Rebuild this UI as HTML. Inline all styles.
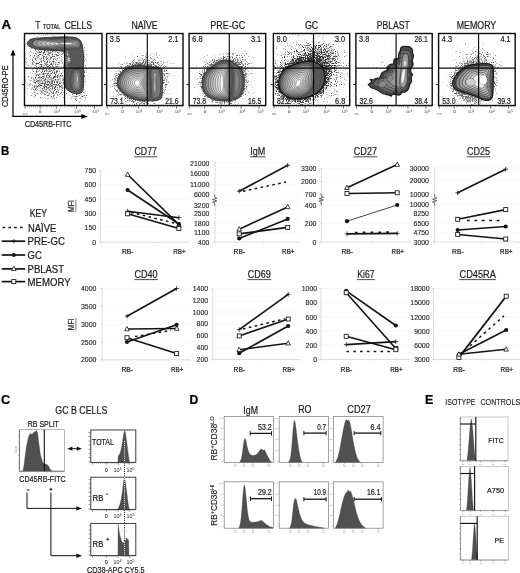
<!DOCTYPE html>
<html lang="en"><head><meta charset="utf-8"><title>Figure</title>
<style>
html,body{margin:0;padding:0;background:#fff;}
svg{display:block;font-family:"Liberation Sans",sans-serif;fill:#1c1c1c;}
</style></head><body>
<svg width="520" height="573" viewBox="0 0 520 573">
<rect x="0" y="0" width="520" height="573" fill="#fff" stroke="none"/>
<text x="1.4" y="28.6" font-size="12.4" textLength="9.7" lengthAdjust="spacingAndGlyphs" font-weight="bold" fill="#000" stroke="#000" stroke-width="0.22">A</text>
<text x="35.6" y="29.2" font-size="10.4" textLength="4.8" lengthAdjust="spacingAndGlyphs" stroke="#1c1c1c" stroke-width="0.22">T</text>
<text x="43" y="29.2" font-size="6.3" textLength="17.4" lengthAdjust="spacingAndGlyphs" stroke="#1c1c1c" stroke-width="0.22">TOTAL</text>
<text x="64.5" y="29.2" font-size="10.4" textLength="27.6" lengthAdjust="spacingAndGlyphs" stroke="#1c1c1c" stroke-width="0.22">CELLS</text>
<text x="131.4" y="28.9" font-size="10.2" textLength="26.2" lengthAdjust="spacingAndGlyphs" stroke="#1c1c1c" stroke-width="0.22">NAÏVE</text>
<text x="210.3" y="28.9" font-size="10.2" textLength="34.8" lengthAdjust="spacingAndGlyphs" stroke="#1c1c1c" stroke-width="0.22">PRE-GC</text>
<text x="304.9" y="28.9" font-size="10.2" textLength="13.4" lengthAdjust="spacingAndGlyphs" stroke="#1c1c1c" stroke-width="0.22">GC</text>
<text x="376.8" y="28.9" font-size="10.2" textLength="32.9" lengthAdjust="spacingAndGlyphs" stroke="#1c1c1c" stroke-width="0.22">PBLAST</text>
<text x="456.8" y="28.9" font-size="10.2" textLength="39.4" lengthAdjust="spacingAndGlyphs" stroke="#1c1c1c" stroke-width="0.22">MEMORY</text>
<defs><radialGradient id="rg"><stop offset="0" stop-opacity="1"/><stop offset="0.45" stop-opacity="0.85"/><stop offset="0.75" stop-opacity="0.5"/><stop offset="1" stop-opacity="0"/></radialGradient><radialGradient id="rh"><stop offset="0" stop-opacity="1"/><stop offset="0.72" stop-opacity="1"/><stop offset="0.86" stop-opacity="0.55"/><stop offset="1" stop-opacity="0"/></radialGradient></defs>
<clipPath id="cb0"><rect x="24.5" y="33.5" width="77.5" height="72"/></clipPath>
<g clip-path="url(#cb0)">
<filter id="sp0" filterUnits="userSpaceOnUse" x="24.5" y="33.5" width="77.5" height="72" color-interpolation-filters="sRGB"><feTurbulence type="fractalNoise" baseFrequency="0.9" numOctaves="2" seed="3" result="n"/><feColorMatrix in="n" type="matrix" values="0 0 0 0 0 0 0 0 0 0 0 0 0 0 0 1.6 0 0 0 -0.3" result="na"/><feComposite in="na" in2="SourceAlpha" operator="arithmetic" k1="0" k2="1" k3="1" k4="-1" result="c"/><feComponentTransfer in="c"><feFuncA type="linear" slope="2.6" intercept="0"/></feComponentTransfer></filter>
<g opacity="0.72"><g filter="url(#sp0)">
<ellipse cx="48" cy="83" rx="27" ry="21" fill="url(#rg)" opacity="0.62" transform="rotate(0 48 83)"/>
<ellipse cx="45" cy="60" rx="26" ry="14" fill="url(#rg)" opacity="0.5" transform="rotate(0 45 60)"/>
<ellipse cx="77" cy="64" rx="14" ry="38" fill="url(#rg)" opacity="0.5" transform="rotate(0 77 64)"/>
<ellipse cx="50" cy="44" rx="32" ry="13" fill="url(#rg)" opacity="0.5" transform="rotate(0 50 44)"/>
<ellipse cx="80" cy="97" rx="14" ry="8" fill="url(#rg)" opacity="0.45" transform="rotate(0 80 97)"/>
<ellipse cx="56" cy="72" rx="44" ry="40" fill="url(#rg)" opacity="0.22" transform="rotate(0 56 72)"/>
</g></g>
<path d="M27.3 44.2C27.02 42.92 28.28 40.8 29.8 39.8C31.32 38.8 32.57 38.63 36.4 38.2C40.23 37.77 47.33 37.42 52.8 37.2C58.27 36.98 65.23 36.77 69.2 36.9C73.17 37.03 74.63 37.22 76.6 38C78.57 38.78 79.95 39.72 81 41.6C82.05 43.48 82.45 46.1 82.9 49.3C83.35 52.5 83.62 57.52 83.7 60.8C83.78 64.08 83.4 66.27 83.4 69C83.4 71.73 83.72 73.92 83.7 77.2C83.68 80.48 83.75 86.1 83.3 88.7C82.85 91.3 82.25 91.97 81 92.8C79.75 93.63 77.77 93.97 75.8 93.7C73.83 93.43 70.98 92.58 69.2 91.2C67.42 89.82 65.87 89.1 65.1 85.4C64.33 81.7 64.67 73.9 64.6 69C64.53 64.1 65.08 58.97 64.7 56C64.32 53.03 64.28 52.12 62.3 51.2C60.32 50.28 56.57 50.8 52.8 50.5C49.03 50.2 43.25 49.9 39.7 49.4C36.15 48.9 33.57 48.37 31.5 47.5C29.43 46.63 27.58 45.48 27.3 44.2Z" fill="#585858" stroke="#1c1c1c" stroke-width="0.8"/>
<path d="M32.47 43.96C32.27 42.98 33.27 41.42 34.54 40.67C35.81 39.92 36.98 39.79 40.06 39.46C43.15 39.12 48.38 38.84 53.04 38.65C57.7 38.46 64.23 38.21 68.03 38.31C71.82 38.41 73.91 38.62 75.83 39.25C77.75 39.87 78.81 41.03 79.54 42.05C80.27 43.06 80.61 44.34 80.23 45.35C79.84 46.37 79.26 47.53 77.23 48.15C75.2 48.77 72.06 48.96 68.03 49.09C63.99 49.22 57.35 49.11 53.05 48.92C48.75 48.73 45.1 48.34 42.22 47.95C39.33 47.55 37.37 47.22 35.75 46.56C34.12 45.89 32.67 44.94 32.47 43.96Z" fill="#949494" stroke="#1e1e1e" stroke-width="0.5"/>
<path d="M36.74 43.92C36.57 43.09 37.42 41.78 38.48 41.14C39.54 40.51 40.52 40.4 43.12 40.11C45.73 39.82 49.93 39.58 54.09 39.4C58.24 39.22 64.52 38.95 68.05 39.03C71.58 39.11 73.52 39.35 75.26 39.89C77 40.44 77.84 41.42 78.48 42.29C79.11 43.16 79.39 44.24 79.06 45.11C78.72 45.97 78.29 46.95 76.46 47.49C74.63 48.04 71.78 48.26 68.05 48.37C64.32 48.48 57.95 48.33 54.1 48.15C50.24 47.97 47.37 47.63 44.94 47.29C42.5 46.95 40.86 46.67 39.49 46.11C38.13 45.55 36.9 44.75 36.74 43.92Z" fill="#acacac" stroke="#1e1e1e" stroke-width="0.5"/>
<path d="M41 43.88C40.87 43.2 41.56 42.13 42.42 41.61C43.28 41.1 44.07 41.01 46.19 40.77C48.3 40.52 51.48 40.32 55.13 40.15C58.78 39.98 64.82 39.68 68.08 39.74C71.33 39.81 73.13 40.07 74.69 40.54C76.25 41 76.88 41.82 77.42 42.54C77.95 43.26 78.17 44.14 77.89 44.86C77.6 45.58 77.32 46.38 75.69 46.84C74.05 47.31 71.5 47.57 68.08 47.66C64.65 47.75 58.55 47.54 55.15 47.37C51.74 47.2 49.64 46.92 47.65 46.64C45.67 46.36 44.35 46.13 43.24 45.67C42.13 45.21 41.14 44.55 41 43.88Z" fill="#bfbfbf" stroke="#1e1e1e" stroke-width="0.5"/>
<path d="M45.27 43.84C45.17 43.31 45.7 42.49 46.36 42.09C47.02 41.68 47.61 41.62 49.25 41.42C50.88 41.23 53.03 41.06 56.18 40.9C59.32 40.74 65.11 40.41 68.1 40.45C71.09 40.5 72.74 40.79 74.12 41.18C75.49 41.57 75.92 42.21 76.35 42.78C76.79 43.35 76.95 44.05 76.71 44.61C76.48 45.18 76.36 45.8 74.92 46.19C73.48 46.58 71.22 46.88 68.1 46.95C64.98 47.01 59.15 46.75 56.19 46.59C53.24 46.43 51.91 46.21 50.37 45.98C48.84 45.76 47.83 45.58 46.98 45.22C46.13 44.87 45.38 44.36 45.27 43.84Z" fill="#d0d0d0" stroke="#1e1e1e" stroke-width="0.5"/>
<path d="M49.54 43.8C49.47 43.43 49.84 42.84 50.3 42.56C50.76 42.27 51.16 42.23 52.31 42.08C53.46 41.93 54.58 41.81 57.22 41.65C59.86 41.5 65.4 41.14 68.13 41.17C70.85 41.2 72.35 41.52 73.55 41.83C74.74 42.14 74.96 42.6 75.29 43.03C75.63 43.45 75.73 43.95 75.54 44.37C75.35 44.79 75.39 45.23 74.15 45.54C72.91 45.85 70.94 46.19 68.13 46.23C65.31 46.28 59.75 45.97 57.24 45.82C54.74 45.67 54.18 45.5 53.09 45.33C52.01 45.16 51.32 45.04 50.73 44.78C50.14 44.52 49.61 44.17 49.54 43.8Z" fill="#e0e0e0" stroke="#1e1e1e" stroke-width="0.5"/>
<path d="M53.81 43.76C53.77 43.54 53.98 43.2 54.24 43.03C54.5 42.86 54.7 42.84 55.37 42.74C56.04 42.63 56.13 42.55 58.26 42.4C60.39 42.26 65.7 41.87 68.15 41.88C70.6 41.89 71.96 42.24 72.98 42.47C73.99 42.71 74 43 74.23 43.27C74.46 43.55 74.51 43.85 74.37 44.12C74.23 44.39 74.42 44.65 73.38 44.88C72.34 45.12 70.67 45.49 68.15 45.52C65.64 45.54 60.35 45.18 58.29 45.04C56.23 44.9 56.45 44.79 55.81 44.68C55.17 44.56 54.81 44.49 54.48 44.34C54.14 44.18 53.85 43.98 53.81 43.76Z" fill="#eeeeee" stroke="#1e1e1e" stroke-width="0.5"/>
<path d="M58.08 43.72C58.07 43.65 58.12 43.55 58.18 43.5C58.24 43.45 58.25 43.45 58.43 43.39C58.62 43.33 57.68 43.29 59.31 43.15C60.93 43.02 65.99 42.6 68.18 42.6C70.36 42.59 71.58 42.97 72.41 43.12C73.24 43.27 73.04 43.39 73.17 43.52C73.3 43.64 73.29 43.76 73.2 43.88C73.11 43.99 73.45 44.08 72.61 44.23C71.77 44.39 70.39 44.8 68.18 44.8C65.96 44.81 60.95 44.39 59.34 44.26C57.73 44.13 58.71 44.08 58.53 44.02C58.34 43.96 58.3 43.94 58.22 43.89C58.15 43.84 58.08 43.78 58.08 43.72Z" fill="#fff" stroke="#1e1e1e" stroke-width="0.5"/>
<path d="M82.43 80.31C82.42 81.94 82.18 83.72 81.8 85.14C81.43 86.55 80.83 87.86 80.17 88.81C79.52 89.75 78.67 90.47 77.86 90.81C77.05 91.14 76.11 91.13 75.3 90.79C74.48 90.45 73.64 89.72 72.98 88.77C72.32 87.81 71.73 86.48 71.36 85.06C70.98 83.65 70.75 81.88 70.75 80.27C70.75 78.66 70.96 76.84 71.33 75.4C71.7 73.96 72.31 72.59 72.96 71.61C73.62 70.64 74.47 69.9 75.29 69.56C76.11 69.21 77.04 69.21 77.86 69.54C78.68 69.87 79.53 70.59 80.19 71.56C80.85 72.52 81.46 73.86 81.83 75.32C82.21 76.77 82.43 78.67 82.43 80.31Z" fill="#7f7f7f" stroke="#1e1e1e" stroke-width="0.5"/>
<path d="M81.46 80.21C81.45 81.66 81.21 83.21 80.9 84.4C80.59 85.6 80.11 86.61 79.59 87.36C79.06 88.11 78.4 88.67 77.76 88.93C77.12 89.18 76.39 89.18 75.75 88.9C75.11 88.63 74.45 88.06 73.92 87.28C73.4 86.51 72.92 85.44 72.62 84.26C72.31 83.07 72.11 81.55 72.1 80.15C72.09 78.75 72.28 77.11 72.57 75.86C72.87 74.62 73.37 73.49 73.89 72.67C74.42 71.86 75.09 71.28 75.74 70.99C76.38 70.71 77.12 70.7 77.76 70.96C78.41 71.22 79.08 71.77 79.61 72.56C80.14 73.35 80.65 74.42 80.96 75.7C81.26 76.97 81.46 78.76 81.46 80.21Z" fill="#949494" stroke="#1e1e1e" stroke-width="0.5"/>
<path d="M80.48 80.12C80.47 81.38 80.25 82.71 80 83.67C79.75 84.64 79.39 85.35 79 85.92C78.61 86.48 78.13 86.87 77.66 87.05C77.2 87.23 76.67 87.22 76.2 87.01C75.74 86.81 75.26 86.39 74.87 85.8C74.48 85.2 74.12 84.41 73.88 83.45C73.64 82.49 73.46 81.21 73.45 80.02C73.44 78.83 73.59 77.38 73.82 76.33C74.04 75.28 74.43 74.39 74.82 73.74C75.22 73.09 75.71 72.66 76.18 72.43C76.66 72.21 77.19 72.2 77.67 72.38C78.14 72.57 78.63 72.95 79.03 73.57C79.44 74.18 79.84 74.99 80.08 76.08C80.32 77.17 80.5 78.85 80.48 80.12Z" fill="#a6a6a6" stroke="#1e1e1e" stroke-width="0.5"/>
<path d="M79.51 80.02C79.49 81.1 79.28 82.2 79.1 82.94C78.92 83.68 78.66 84.1 78.41 84.47C78.15 84.84 77.85 85.06 77.56 85.17C77.27 85.28 76.95 85.27 76.66 85.12C76.37 84.98 76.07 84.73 75.81 84.31C75.56 83.9 75.31 83.38 75.14 82.64C74.97 81.91 74.82 80.87 74.8 79.89C74.79 78.92 74.9 77.65 75.06 76.8C75.21 75.95 75.49 75.29 75.75 74.8C76.01 74.31 76.33 74.04 76.63 73.87C76.94 73.71 77.26 73.69 77.57 73.81C77.87 73.92 78.18 74.13 78.46 74.57C78.73 75.02 79.03 75.55 79.21 76.46C79.38 77.37 79.53 78.94 79.51 80.02Z" fill="#b7b7b7" stroke="#1e1e1e" stroke-width="0.5"/>
<path d="M78.54 79.93C78.52 80.82 78.32 81.69 78.2 82.21C78.08 82.72 77.94 82.84 77.82 83.02C77.69 83.2 77.58 83.26 77.46 83.29C77.35 83.33 77.23 83.31 77.11 83.23C77 83.16 76.88 83.06 76.76 82.83C76.64 82.6 76.5 82.35 76.4 81.84C76.3 81.33 76.17 80.53 76.15 79.77C76.14 79 76.21 77.91 76.3 77.26C76.38 76.61 76.55 76.19 76.68 75.86C76.81 75.54 76.95 75.42 77.08 75.31C77.21 75.21 77.34 75.19 77.47 75.23C77.6 75.27 77.73 75.31 77.88 75.58C78.02 75.85 78.22 76.12 78.33 76.84C78.44 77.57 78.56 79.04 78.54 79.93Z" fill="#c8c8c8" stroke="#1e1e1e" stroke-width="0.5"/>
<path d="M69.16 58.37h0.9M67.34 61.43h0.9M66.43 60.01h0.9M67.3 53.86h0.9M68.42 62.1h0.9M66.61 59.4h0.9M67.86 59.09h0.9M67.03 54.91h0.9M67.91 60.43h0.9M67.6 54.66h0.9M69.12 60.54h0.9M66.87 67.1h0.9M67.25 54.92h0.9M66.85 51.99h0.9M68.45 58.54h0.9M66.48 63.75h0.9M65.48 61.87h0.9M65.03 57.68h0.9M65.98 65.12h0.9M69.24 58.85h0.9M68.22 59.37h0.9M67.92 57.37h0.9M65.42 53.69h0.9M67.72 67.87h0.9M67.6 58.16h0.9M69.4 60.83h0.9" stroke="#e6e6e6" stroke-width="0.9" fill="none"/>
</g>
<clipPath id="cb1"><rect x="106.6" y="33.5" width="76.4" height="72"/></clipPath>
<g clip-path="url(#cb1)">
<filter id="sp1" filterUnits="userSpaceOnUse" x="106.6" y="33.5" width="76.4" height="72" color-interpolation-filters="sRGB"><feTurbulence type="fractalNoise" baseFrequency="0.9" numOctaves="2" seed="11" result="n"/><feColorMatrix in="n" type="matrix" values="0 0 0 0 0 0 0 0 0 0 0 0 0 0 0 1.6 0 0 0 -0.3" result="na"/><feComposite in="na" in2="SourceAlpha" operator="arithmetic" k1="0" k2="1" k3="1" k4="-1" result="c"/><feComponentTransfer in="c"><feFuncA type="linear" slope="2.6" intercept="0"/></feComponentTransfer></filter>
<g opacity="0.62"><g filter="url(#sp1)">
<ellipse cx="140" cy="83" rx="28.5" ry="23" fill="url(#rh)" opacity="0.62" transform="rotate(0 140 83)"/>
<ellipse cx="140" cy="83" rx="36" ry="30" fill="url(#rg)" opacity="0.5" transform="rotate(0 140 83)"/>
<ellipse cx="150" cy="66" rx="26" ry="17" fill="url(#rg)" opacity="0.4" transform="rotate(0 150 66)"/>
<ellipse cx="144" cy="80" rx="46" ry="38" fill="url(#rg)" opacity="0.24" transform="rotate(0 144 80)"/>
</g></g>
<path d="M117.1 83.8C116.82 81.2 117.88 78.07 119.2 75.6C120.52 73.13 122.8 70.58 125 69C127.2 67.42 129.95 66.78 132.4 66.1C134.85 65.42 137.22 64.87 139.7 64.9C142.18 64.93 144.55 65.92 147.3 66.3C150.05 66.68 153.85 66.75 156.2 67.2C158.55 67.65 160.32 67.33 161.4 69C162.48 70.67 162.53 74.2 162.7 77.2C162.87 80.2 162.53 83.72 162.4 87C162.27 90.28 162.67 94.7 161.9 96.9C161.13 99.1 160.13 99.52 157.8 100.2C155.47 100.88 151.18 101 147.9 101C144.62 101 141.37 100.88 138.1 100.2C134.83 99.52 131.17 98.4 128.3 96.9C125.43 95.4 122.77 93.38 120.9 91.2C119.03 89.02 117.38 86.4 117.1 83.8Z" fill="#585858" stroke="#222" stroke-width="0.7"/>
<path d="M118.6 83.8C118.33 81.47 119.37 78.65 120.6 76.4C121.83 74.15 123.93 71.77 126 70.3C128.07 68.83 130.67 68.22 133 67.6C135.33 66.98 137.83 66.53 140 66.6C142.17 66.67 144.43 67.1 146 68C147.57 68.9 148.73 69.5 149.4 72C150.07 74.5 149.97 79.33 150 83C150.03 86.67 150.17 91.33 149.6 94C149.03 96.67 148.37 98.2 146.6 99C144.83 99.8 141.9 99.37 139 98.8C136.1 98.23 132 97 129.2 95.6C126.4 94.2 123.97 92.37 122.2 90.4C120.43 88.43 118.87 86.13 118.6 83.8Z" fill="#767676" stroke="#262626" stroke-width="0.45"/>
<path d="M120.58 83.72C120.34 81.62 121.25 79.1 122.35 77.08C123.45 75.05 125.33 72.91 127.18 71.59C129.02 70.26 131.35 69.7 133.44 69.14C135.53 68.58 137.78 68.19 139.72 68.25C141.66 68.32 143.69 68.72 145.09 69.53C146.5 70.33 147.54 70.86 148.15 73.11C148.76 75.35 148.72 79.7 148.75 83C148.78 86.3 148.85 90.5 148.33 92.89C147.8 95.28 147.2 96.63 145.62 97.35C144.04 98.08 141.42 97.72 138.83 97.22C136.23 96.72 132.53 95.62 130.02 94.36C127.52 93.1 125.34 91.43 123.77 89.65C122.19 87.88 120.81 85.81 120.58 83.72Z" fill="#9c9c9c" stroke="#262626" stroke-width="0.45"/>
<path d="M122.55 83.64C122.35 81.78 123.14 79.54 124.11 77.75C125.08 75.96 126.72 74.05 128.35 72.87C129.98 71.69 132.04 71.17 133.89 70.68C135.73 70.19 137.72 69.85 139.44 69.91C141.16 69.97 142.94 70.33 144.18 71.05C145.43 71.77 146.34 72.22 146.9 74.21C147.45 76.2 147.48 80.07 147.5 83C147.53 85.93 147.53 89.67 147.05 91.79C146.57 93.9 146.04 95.06 144.64 95.71C143.24 96.35 140.95 96.08 138.65 95.64C136.35 95.21 133.07 94.24 130.85 93.12C128.63 91.99 126.72 90.48 125.34 88.9C123.96 87.32 122.76 85.49 122.55 83.64Z" fill="#b0b0b0" stroke="#262626" stroke-width="0.45"/>
<path d="M124.53 83.55C124.36 81.93 125.03 79.99 125.86 78.43C126.7 76.86 128.12 75.19 129.53 74.16C130.94 73.12 132.72 72.65 134.33 72.22C135.93 71.79 137.67 71.5 139.16 71.56C140.65 71.62 142.19 71.95 143.27 72.58C144.35 73.2 145.15 73.58 145.64 75.32C146.14 77.05 146.23 80.44 146.25 83C146.28 85.56 146.21 88.83 145.78 90.68C145.34 92.52 144.87 93.5 143.66 94.06C142.44 94.63 140.47 94.43 138.48 94.07C136.48 93.7 133.6 92.86 131.67 91.87C129.75 90.89 128.1 89.54 126.91 88.16C125.72 86.77 124.7 85.17 124.53 83.55Z" fill="#c0c0c0" stroke="#262626" stroke-width="0.45"/>
<path d="M126.51 83.47C126.36 82.09 126.92 80.44 127.62 79.1C128.32 77.76 129.51 76.34 130.71 75.44C131.9 74.55 133.41 74.13 134.77 73.76C136.13 73.39 137.61 73.16 138.88 73.21C140.14 73.27 141.45 73.57 142.36 74.1C143.28 74.63 143.95 74.94 144.39 76.42C144.83 77.9 144.99 80.81 145 83C145.02 85.19 144.89 88 144.5 89.57C144.11 91.14 143.71 91.93 142.67 92.41C141.64 92.9 140 92.78 138.3 92.49C136.6 92.19 134.14 91.48 132.5 90.63C130.86 89.78 129.48 88.6 128.48 87.41C127.48 86.22 126.65 84.85 126.51 83.47Z" fill="#cecece" stroke="#262626" stroke-width="0.45"/>
<path d="M128.48 83.39C128.37 82.24 128.8 80.89 129.37 79.78C129.94 78.67 130.91 77.48 131.88 76.73C132.86 75.99 134.1 75.61 135.22 75.3C136.33 74.99 137.56 74.81 138.6 74.87C139.64 74.92 140.7 75.18 141.46 75.63C142.21 76.07 142.76 76.3 143.14 77.53C143.52 78.76 143.74 81.18 143.76 83C143.77 84.82 143.57 87.17 143.23 88.46C142.88 89.76 142.54 90.36 141.69 90.77C140.84 91.18 139.52 91.14 138.13 90.91C136.73 90.68 134.67 90.1 133.32 89.39C131.98 88.68 130.85 87.66 130.05 86.66C129.24 85.66 128.6 84.53 128.48 83.39Z" fill="#dbdbdb" stroke="#262626" stroke-width="0.45"/>
<path d="M130.46 83.31C130.38 82.4 130.69 81.33 131.13 80.45C131.56 79.57 132.3 78.62 133.06 78.02C133.82 77.42 134.78 77.09 135.66 76.84C136.54 76.59 137.5 76.47 138.32 76.52C139.13 76.57 139.95 76.8 140.55 77.15C141.14 77.5 141.56 77.66 141.89 78.63C142.22 79.61 142.5 81.55 142.51 83C142.52 84.45 142.25 86.34 141.95 87.36C141.65 88.38 141.38 88.79 140.71 89.12C140.04 89.45 139.04 89.49 137.95 89.33C136.86 89.17 135.2 88.72 134.15 88.15C133.09 87.58 132.23 86.72 131.62 85.91C131 85.11 130.54 84.22 130.46 83.31Z" fill="#e6e6e6" stroke="#262626" stroke-width="0.45"/>
<path d="M132.44 83.22C132.39 82.55 132.58 81.78 132.88 81.13C133.18 80.48 133.7 79.76 134.24 79.3C134.77 78.85 135.47 78.57 136.1 78.38C136.74 78.19 137.45 78.13 138.04 78.17C138.63 78.22 139.2 78.41 139.64 78.68C140.07 78.94 140.37 79.02 140.64 79.74C140.91 80.46 141.25 81.91 141.26 83C141.26 84.09 140.93 85.5 140.68 86.25C140.42 86.99 140.21 87.22 139.73 87.47C139.25 87.73 138.57 87.85 137.78 87.75C136.98 87.66 135.74 87.34 134.97 86.9C134.21 86.47 133.61 85.78 133.19 85.17C132.76 84.55 132.49 83.9 132.44 83.22Z" fill="#f1f1f1" stroke="#262626" stroke-width="0.45"/>
<path d="M134.41 83.14C134.39 82.7 134.47 82.23 134.63 81.8C134.8 81.38 135.1 80.9 135.41 80.59C135.73 80.28 136.15 80.05 136.54 79.92C136.94 79.8 137.4 79.78 137.76 79.83C138.12 79.87 138.46 80.03 138.73 80.2C139 80.37 139.17 80.38 139.39 80.84C139.6 81.31 140.01 82.28 140.01 83C140.01 83.72 139.61 84.67 139.4 85.14C139.19 85.61 139.05 85.66 138.75 85.83C138.45 86 138.09 86.2 137.6 86.17C137.11 86.15 136.27 85.96 135.8 85.66C135.32 85.37 134.99 84.84 134.76 84.42C134.53 84 134.43 83.58 134.41 83.14Z" fill="#fff" stroke="#262626" stroke-width="0.45"/>
<path d="M151.6 70.5C152.8 68.27 157.33 68.68 158.8 70.6C160.27 72.52 160.28 77.93 160.4 82C160.52 86.07 160.73 92.43 159.5 95C158.27 97.57 154.32 99.23 153 97.4C151.68 95.57 151.83 88.48 151.6 84C151.37 79.52 150.4 72.73 151.6 70.5Z" fill="#777" stroke="#2c2c2c" stroke-width="0.35"/>
<path d="M153.4 73.4C153.87 72.3 156.2 72.3 156.6 73.4C157 74.5 155.83 77.57 155.8 80C155.77 82.43 156.6 85.77 156.4 88C156.2 90.23 155.17 93.73 154.6 93.4C154.03 93.07 153.13 88.23 153 86C152.87 83.77 153.73 82.1 153.8 80C153.87 77.9 152.93 74.5 153.4 73.4Z" fill="#a8a8a8" stroke="#2c2c2c" stroke-width="0.35"/>
</g>
<clipPath id="cb2"><rect x="189.1" y="33.5" width="76.6" height="72"/></clipPath>
<g clip-path="url(#cb2)">
<filter id="sp2" filterUnits="userSpaceOnUse" x="189.1" y="33.5" width="76.6" height="72" color-interpolation-filters="sRGB"><feTurbulence type="fractalNoise" baseFrequency="0.9" numOctaves="2" seed="17" result="n"/><feColorMatrix in="n" type="matrix" values="0 0 0 0 0 0 0 0 0 0 0 0 0 0 0 1.6 0 0 0 -0.3" result="na"/><feComposite in="na" in2="SourceAlpha" operator="arithmetic" k1="0" k2="1" k3="1" k4="-1" result="c"/><feComponentTransfer in="c"><feFuncA type="linear" slope="2.6" intercept="0"/></feComponentTransfer></filter>
<g opacity="0.62"><g filter="url(#sp2)">
<ellipse cx="223.5" cy="81" rx="26.5" ry="25.5" fill="url(#rh)" opacity="0.62" transform="rotate(0 223.5 81)"/>
<ellipse cx="223.5" cy="80" rx="34" ry="32" fill="url(#rg)" opacity="0.5" transform="rotate(0 223.5 80)"/>
<ellipse cx="238" cy="62" rx="20" ry="17" fill="url(#rg)" opacity="0.4" transform="rotate(0 238 62)"/>
<ellipse cx="226" cy="78" rx="44" ry="40" fill="url(#rg)" opacity="0.24" transform="rotate(0 226 78)"/>
</g></g>
<path d="M202.2 82.2C202.32 80.02 202.43 77.67 203.4 75.6C204.37 73.53 206.15 71.58 208 69.8C209.85 68.02 212.45 66.32 214.5 64.9C216.55 63.48 218.52 62.12 220.3 61.3C222.08 60.48 223.28 59.95 225.2 60C227.12 60.05 229.47 60.5 231.8 61.6C234.13 62.7 237.28 64.55 239.2 66.6C241.12 68.65 242.43 71.3 243.3 73.9C244.17 76.5 244.4 79.45 244.4 82.2C244.4 84.95 244.03 87.95 243.3 90.4C242.57 92.85 241.78 95.27 240 96.9C238.22 98.53 235.48 99.52 232.6 100.2C229.72 100.88 225.98 101.13 222.7 101C219.42 100.87 215.77 100.48 212.9 99.4C210.03 98.32 207.2 96.28 205.5 94.5C203.8 92.72 203.25 90.75 202.7 88.7C202.15 86.65 202.08 84.38 202.2 82.2Z" fill="#585858" stroke="#222" stroke-width="0.7"/>
<path d="M203.6 82.4C203.73 80.37 203.87 78.13 204.8 76.2C205.73 74.27 207.43 72.5 209.2 70.8C210.97 69.1 213.43 67.33 215.4 66C217.37 64.67 219.33 63.47 221 62.8C222.67 62.13 224 61.7 225.4 62C226.8 62.3 228.4 62.93 229.4 64.6C230.4 66.27 231 68.93 231.4 72C231.8 75.07 231.87 79.5 231.8 83C231.73 86.5 231.53 90.4 231 93C230.47 95.6 230 97.5 228.6 98.6C227.2 99.7 225.1 99.7 222.6 99.6C220.1 99.5 216.23 99 213.6 98C210.97 97 208.4 95.2 206.8 93.6C205.2 92 204.53 90.27 204 88.4C203.47 86.53 203.47 84.43 203.6 82.4Z" fill="#737373" stroke="#262626" stroke-width="0.45"/>
<path d="M205.94 82.44C206.06 80.55 206.18 78.48 206.99 76.68C207.8 74.88 209.28 73.2 210.82 71.62C212.36 70.04 214.51 68.4 216.22 67.19C217.94 65.98 219.65 64.94 221.1 64.35C222.56 63.77 223.71 63.41 224.93 63.68C226.15 63.95 227.54 64.51 228.42 66C229.29 67.48 229.83 69.75 230.19 72.58C230.55 75.42 230.65 79.68 230.59 83C230.54 86.32 230.32 90.1 229.85 92.53C229.37 94.96 228.95 96.58 227.73 97.58C226.5 98.58 224.68 98.64 222.5 98.55C220.32 98.45 216.94 97.96 214.65 97.02C212.36 96.07 210.12 94.35 208.73 92.85C207.34 91.35 206.76 89.75 206.29 88.01C205.83 86.28 205.83 84.33 205.94 82.44Z" fill="#999999" stroke="#262626" stroke-width="0.45"/>
<path d="M208.28 82.48C208.38 80.74 208.49 78.83 209.18 77.16C209.87 75.49 211.12 73.91 212.43 72.45C213.74 70.98 215.58 69.47 217.05 68.38C218.51 67.29 219.97 66.41 221.21 65.91C222.44 65.4 223.43 65.11 224.46 65.36C225.5 65.61 226.68 66.09 227.43 67.39C228.18 68.7 228.65 70.57 228.98 73.17C229.3 75.77 229.44 79.85 229.39 83C229.34 86.15 229.12 89.8 228.69 92.06C228.27 94.32 227.91 95.66 226.86 96.56C225.81 97.47 224.26 97.58 222.4 97.49C220.54 97.4 217.66 96.93 215.7 96.03C213.74 95.13 211.85 93.5 210.66 92.1C209.48 90.7 208.98 89.23 208.59 87.63C208.19 86.02 208.19 84.23 208.28 82.48Z" fill="#afafaf" stroke="#262626" stroke-width="0.45"/>
<path d="M210.63 82.53C210.71 80.93 210.79 79.18 211.37 77.64C211.94 76.09 212.97 74.61 214.05 73.27C215.13 71.92 216.66 70.53 217.87 69.57C219.08 68.6 220.29 67.88 221.31 67.46C222.33 67.04 223.14 66.82 223.99 67.04C224.85 67.26 225.82 67.67 226.45 68.79C227.08 69.91 227.48 71.39 227.76 73.75C228.05 76.12 228.22 80.03 228.18 83C228.15 85.97 227.91 89.51 227.54 91.6C227.18 93.69 226.86 94.74 225.99 95.54C225.11 96.35 223.83 96.52 222.29 96.44C220.75 96.35 218.37 95.89 216.75 95.05C215.13 94.2 213.57 92.65 212.59 91.35C211.62 90.05 211.21 88.71 210.88 87.24C210.55 85.77 210.55 84.13 210.63 82.53Z" fill="#c1c1c1" stroke="#262626" stroke-width="0.45"/>
<path d="M212.97 82.57C213.03 81.11 213.1 79.53 213.55 78.12C214 76.7 214.81 75.32 215.67 74.09C216.52 72.87 217.74 71.6 218.69 70.75C219.65 69.91 220.61 69.35 221.41 69.01C222.22 68.67 222.85 68.53 223.53 68.72C224.2 68.92 224.96 69.25 225.46 70.19C225.97 71.12 226.3 72.2 226.55 74.34C226.81 76.47 227.01 80.2 226.98 83C226.95 85.8 226.7 89.21 226.39 91.13C226.08 93.05 225.82 93.82 225.12 94.53C224.42 95.24 223.41 95.46 222.19 95.38C220.97 95.3 219.08 94.86 217.8 94.06C216.52 93.27 215.3 91.8 214.53 90.6C213.76 89.4 213.44 88.19 213.18 86.86C212.92 85.52 212.9 84.02 212.97 82.57Z" fill="#d2d2d2" stroke="#262626" stroke-width="0.45"/>
<path d="M215.31 82.61C215.35 81.3 215.41 79.88 215.74 78.6C216.07 77.31 216.65 76.02 217.28 74.92C217.91 73.81 218.81 72.67 219.52 71.94C220.22 71.22 220.93 70.82 221.52 70.56C222.11 70.31 222.56 70.23 223.06 70.4C223.55 70.57 224.1 70.83 224.48 71.59C224.86 72.34 225.13 73.02 225.34 74.92C225.56 76.83 225.79 80.38 225.77 83C225.75 85.62 225.49 88.91 225.24 90.66C224.98 92.41 224.77 92.9 224.25 93.51C223.72 94.12 222.99 94.4 222.09 94.33C221.19 94.26 219.79 93.82 218.85 93.08C217.91 92.33 217.02 90.96 216.46 89.85C215.89 88.75 215.66 87.68 215.47 86.47C215.28 85.26 215.26 83.92 215.31 82.61Z" fill="#e1e1e1" stroke="#262626" stroke-width="0.45"/>
<path d="M217.65 82.65C217.68 81.48 217.72 80.23 217.93 79.07C218.14 77.92 218.5 76.73 218.9 75.74C219.3 74.75 219.89 73.73 220.34 73.13C220.79 72.53 221.25 72.29 221.62 72.12C222 71.94 222.28 71.94 222.59 72.08C222.9 72.23 223.24 72.41 223.49 72.98C223.75 73.55 223.95 73.84 224.13 75.51C224.31 77.18 224.57 80.55 224.57 83C224.56 85.45 224.28 88.61 224.08 90.19C223.88 91.77 223.73 91.98 223.38 92.49C223.03 93 222.57 93.34 221.99 93.27C221.41 93.21 220.5 92.79 219.9 92.09C219.3 91.4 218.74 90.11 218.39 89.11C218.03 88.1 217.89 87.16 217.77 86.08C217.64 85.01 217.62 83.82 217.65 82.65Z" fill="#eeeeee" stroke="#262626" stroke-width="0.45"/>
<path d="M219.99 82.69C220 81.67 220.03 80.58 220.12 79.55C220.21 78.53 220.34 77.43 220.52 76.56C220.69 75.69 220.96 74.8 221.16 74.32C221.37 73.84 221.57 73.76 221.73 73.67C221.89 73.58 221.99 73.65 222.12 73.77C222.25 73.88 222.38 73.99 222.51 74.38C222.64 74.77 222.78 74.66 222.92 76.09C223.06 77.53 223.36 80.73 223.36 83C223.36 85.27 223.07 88.31 222.93 89.72C222.79 91.14 222.68 91.06 222.51 91.47C222.33 91.89 222.14 92.28 221.88 92.22C221.62 92.16 221.21 91.75 220.95 91.11C220.69 90.47 220.47 89.26 220.32 88.36C220.17 87.45 220.11 86.64 220.06 85.7C220 84.75 219.98 83.72 219.99 82.69Z" fill="#fff" stroke="#262626" stroke-width="0.45"/>
<path d="M233.5 65.5C234.23 63.93 236.68 67.02 238 68.6C239.32 70.18 240.73 72.43 241.4 75C242.07 77.57 242.23 81 242 84C241.77 87 241.27 90.73 240 93C238.73 95.27 235.53 98.1 234.4 97.6C233.27 97.1 233.33 93.27 233.2 90C233.07 86.73 233.55 82.08 233.6 78C233.65 73.92 232.77 67.07 233.5 65.5Z" fill="#727272" stroke="#2c2c2c" stroke-width="0.35"/>
<path d="M235.2 71C235.63 69.17 236.97 71.5 237.6 73C238.23 74.5 238.93 77.17 239 80C239.07 82.83 238.6 87.83 238 90C237.4 92.17 235.9 94 235.4 93C234.9 92 235.03 87.67 235 84C234.97 80.33 234.77 72.83 235.2 71Z" fill="#868686" stroke="#2c2c2c" stroke-width="0.35"/>
</g>
<clipPath id="cb3"><rect x="273.4" y="33.5" width="76.3" height="72"/></clipPath>
<g clip-path="url(#cb3)">
<filter id="sp3" filterUnits="userSpaceOnUse" x="273.4" y="33.5" width="76.3" height="72" color-interpolation-filters="sRGB"><feTurbulence type="fractalNoise" baseFrequency="0.9" numOctaves="2" seed="23" result="n"/><feColorMatrix in="n" type="matrix" values="0 0 0 0 0 0 0 0 0 0 0 0 0 0 0 1.6 0 0 0 -0.3" result="na"/><feComposite in="na" in2="SourceAlpha" operator="arithmetic" k1="0" k2="1" k3="1" k4="-1" result="c"/><feComponentTransfer in="c"><feFuncA type="linear" slope="2.6" intercept="0"/></feComponentTransfer></filter>
<g opacity="0.8"><g filter="url(#sp3)">
<ellipse cx="302.6" cy="79.4" rx="31.5" ry="24.2" fill="url(#rh)" opacity="1" transform="rotate(-26 302.6 79.4)"/>
<ellipse cx="318" cy="62" rx="24" ry="21" fill="url(#rg)" opacity="0.6" transform="rotate(-30 318 62)"/>
<ellipse cx="306" cy="76" rx="47" ry="38" fill="url(#rg)" opacity="0.45" transform="rotate(-25 306 76)"/>
<ellipse cx="309" cy="68" rx="62" ry="50" fill="url(#rg)" opacity="0.3" transform="rotate(0 309 68)"/>
</g></g>
<path d="M278.7 82.2C278.97 79.75 279.6 76.47 281.1 74C282.6 71.53 284.97 69.18 287.7 67.4C290.43 65.62 294.22 64.32 297.5 63.3C300.78 62.28 304.38 61.43 307.4 61.3C310.42 61.17 313.13 61.48 315.6 62.5C318.07 63.52 320.7 65.22 322.2 67.4C323.7 69.58 324.33 72.87 324.6 75.6C324.87 78.33 324.75 81.2 323.8 83.8C322.85 86.4 321.08 89.15 318.9 91.2C316.72 93.25 313.72 94.88 310.7 96.1C307.68 97.32 304.08 98.15 300.8 98.5C297.52 98.85 293.87 98.87 291 98.2C288.13 97.53 285.52 96.08 283.6 94.5C281.68 92.92 280.32 90.75 279.5 88.7C278.68 86.65 278.43 84.65 278.7 82.2Z" fill="#585858" stroke="#141414" stroke-width="1.3"/>
<path d="M280.4 82.4C280.7 80.23 281.37 77.23 282.8 75C284.23 72.77 286.47 70.63 289 69C291.53 67.37 295.1 66.1 298 65.2C300.9 64.3 304.13 63.53 306.4 63.6C308.67 63.67 310.23 64.2 311.6 65.6C312.97 67 314.13 69.43 314.6 72C315.07 74.57 315 78.07 314.4 81C313.8 83.93 312.67 87.23 311 89.6C309.33 91.97 306.9 93.97 304.4 95.2C301.9 96.43 298.63 96.93 296 97C293.37 97.07 290.7 96.43 288.6 95.6C286.5 94.77 284.67 93.27 283.4 92C282.13 90.73 281.5 89.6 281 88C280.5 86.4 280.1 84.57 280.4 82.4Z" fill="#767676" stroke="#262626" stroke-width="0.45"/>
<path d="M282.11 82.45C282.38 80.48 282.98 77.74 284.28 75.7C285.57 73.66 287.59 71.7 289.89 70.21C292.18 68.73 295.41 67.57 298.04 66.76C300.66 65.95 303.58 65.28 305.63 65.36C307.68 65.43 309.08 65.91 310.32 67.18C311.56 68.46 312.62 70.65 313.05 72.98C313.48 75.31 313.43 78.49 312.9 81.17C312.36 83.85 311.35 86.88 309.84 89.05C308.33 91.22 306.12 93.07 303.85 94.2C301.58 95.33 298.61 95.78 296.22 95.83C293.83 95.89 291.42 95.29 289.52 94.52C287.62 93.75 285.96 92.37 284.82 91.21C283.68 90.05 283.11 89.02 282.65 87.56C282.2 86.1 281.84 84.43 282.11 82.45Z" fill="#999999" stroke="#262626" stroke-width="0.45"/>
<path d="M283.82 82.51C284.06 80.72 284.6 78.25 285.76 76.4C286.91 74.55 288.72 72.78 290.77 71.43C292.83 70.08 295.73 69.04 298.08 68.32C300.42 67.6 303.03 67.04 304.86 67.11C306.68 67.18 307.94 67.63 309.04 68.77C310.15 69.91 311.1 71.87 311.49 73.97C311.89 76.06 311.87 78.92 311.4 81.34C310.93 83.77 310.03 86.53 308.68 88.5C307.33 90.48 305.34 92.16 303.3 93.19C301.26 94.22 298.59 94.63 296.44 94.67C294.3 94.71 292.14 94.15 290.44 93.44C288.74 92.73 287.26 91.48 286.24 90.43C285.22 89.37 284.71 88.44 284.31 87.12C283.9 85.8 283.58 84.29 283.82 82.51Z" fill="#acacac" stroke="#262626" stroke-width="0.45"/>
<path d="M285.53 82.56C285.74 80.96 286.21 78.75 287.23 77.1C288.25 75.45 289.85 73.85 291.66 72.64C293.47 71.44 296.04 70.52 298.11 69.89C300.18 69.26 302.48 68.79 304.08 68.87C305.69 68.94 306.79 69.34 307.76 70.35C308.74 71.37 309.59 73.09 309.94 74.95C310.3 76.81 310.3 79.35 309.9 81.52C309.49 83.68 308.71 86.17 307.51 87.95C306.32 89.73 304.56 91.26 302.75 92.19C300.94 93.11 298.56 93.47 296.66 93.5C294.76 93.53 292.85 93 291.35 92.36C289.85 91.72 288.56 90.59 287.66 89.64C286.76 88.69 286.32 87.86 285.96 86.68C285.61 85.5 285.32 84.15 285.53 82.56Z" fill="#bbbbbb" stroke="#262626" stroke-width="0.45"/>
<path d="M287.24 82.61C287.42 81.2 287.83 79.26 288.71 77.8C289.59 76.34 290.97 74.92 292.55 73.86C294.12 72.8 296.36 71.99 298.15 71.45C299.95 70.91 301.92 70.54 303.31 70.62C304.7 70.7 305.64 71.05 306.49 71.94C307.33 72.82 308.07 74.31 308.39 75.93C308.71 77.56 308.74 79.78 308.4 81.69C308.06 83.6 307.39 85.82 306.35 87.4C305.32 88.98 303.78 90.36 302.2 91.19C300.62 92.01 298.54 92.32 296.88 92.34C295.23 92.35 293.57 91.86 292.27 91.28C290.97 90.7 289.86 89.69 289.08 88.85C288.31 88.01 287.92 87.28 287.62 86.24C287.31 85.2 287.06 84.02 287.24 82.61Z" fill="#c8c8c8" stroke="#262626" stroke-width="0.45"/>
<path d="M288.95 82.66C289.1 81.45 289.44 79.76 290.19 78.5C290.93 77.23 292.1 75.99 293.43 75.07C294.77 74.16 296.67 73.46 298.19 73.01C299.71 72.56 301.37 72.29 302.54 72.38C303.71 72.46 304.49 72.77 305.21 73.52C305.92 74.28 306.55 75.53 306.84 76.92C307.12 78.31 307.17 80.2 306.9 81.86C306.62 83.52 306.07 85.46 305.19 86.85C304.32 88.24 303 89.46 301.65 90.18C300.31 90.9 298.52 91.17 297.11 91.17C295.7 91.17 294.29 90.72 293.19 90.2C292.09 89.68 291.16 88.8 290.5 88.06C289.85 87.33 289.53 86.7 289.27 85.8C289.01 84.9 288.8 83.88 288.95 82.66Z" fill="#d4d4d4" stroke="#262626" stroke-width="0.45"/>
<path d="M290.66 82.72C290.78 81.69 291.06 80.27 291.67 79.2C292.28 78.13 293.22 77.06 294.32 76.29C295.41 75.52 296.99 74.93 298.23 74.57C299.47 74.21 300.82 74.04 301.77 74.13C302.72 74.22 303.34 74.48 303.93 75.11C304.51 75.73 305.04 76.75 305.28 77.9C305.53 79.05 305.61 80.63 305.4 82.03C305.19 83.43 304.75 85.11 304.03 86.3C303.31 87.49 302.22 88.56 301.1 89.18C299.99 89.8 298.49 90.02 297.33 90.01C296.16 90 295.01 89.57 294.11 89.12C293.21 88.67 292.45 87.9 291.92 87.28C291.39 86.65 291.13 86.12 290.92 85.36C290.71 84.6 290.54 83.74 290.66 82.72Z" fill="#dfdfdf" stroke="#262626" stroke-width="0.45"/>
<path d="M292.37 82.77C292.46 81.93 292.67 80.78 293.14 79.9C293.62 79.02 294.35 78.13 295.2 77.5C296.06 76.88 297.3 76.41 298.27 76.14C299.23 75.87 300.27 75.79 301 75.89C301.73 75.98 302.19 76.19 302.65 76.69C303.11 77.19 303.52 77.96 303.73 78.88C303.94 79.8 304.04 81.06 303.9 82.2C303.75 83.35 303.43 84.76 302.87 85.75C302.31 86.75 301.44 87.66 300.55 88.17C299.67 88.69 298.47 88.86 297.55 88.84C296.63 88.82 295.73 88.43 295.02 88.04C294.32 87.65 293.75 87.01 293.34 86.49C292.94 85.97 292.74 85.54 292.58 84.92C292.42 84.3 292.28 83.61 292.37 82.77Z" fill="#e9e9e9" stroke="#262626" stroke-width="0.45"/>
<path d="M294.08 82.82C294.15 82.18 294.29 81.28 294.62 80.6C294.96 79.92 295.48 79.2 296.09 78.72C296.7 78.24 297.61 77.88 298.3 77.7C298.99 77.52 299.71 77.54 300.22 77.64C300.74 77.74 301.05 77.9 301.37 78.28C301.7 78.65 302.01 79.18 302.18 79.87C302.35 80.55 302.48 81.49 302.4 82.37C302.32 83.26 302.11 84.4 301.71 85.2C301.31 86 300.66 86.76 300 87.17C299.35 87.58 298.45 87.71 297.77 87.67C297.09 87.64 296.44 87.29 295.94 86.96C295.44 86.63 295.05 86.12 294.76 85.7C294.48 85.29 294.35 84.96 294.23 84.48C294.12 84 294.02 83.47 294.08 82.82Z" fill="#f2f2f2" stroke="#262626" stroke-width="0.45"/>
<path d="M295.79 82.88C295.83 82.42 295.9 81.79 296.1 81.3C296.3 80.81 296.6 80.27 296.98 79.93C297.35 79.59 297.93 79.35 298.34 79.26C298.75 79.17 299.16 79.3 299.45 79.4C299.74 79.5 299.9 79.62 300.09 79.86C300.29 80.1 300.49 80.4 300.62 80.85C300.76 81.3 300.91 81.91 300.9 82.55C300.88 83.18 300.79 84.05 300.54 84.65C300.3 85.26 299.88 85.86 299.45 86.17C299.03 86.48 298.42 86.56 297.99 86.51C297.56 86.46 297.16 86.15 296.86 85.88C296.56 85.61 296.35 85.22 296.18 84.92C296.02 84.61 295.95 84.38 295.89 84.04C295.82 83.7 295.76 83.33 295.79 82.88Z" fill="#fff" stroke="#262626" stroke-width="0.45"/>
<path d="M300.41 79.78C300.7 79.95 300.88 80.41 300.88 80.92C300.87 81.44 300.68 82.21 300.39 82.86C300.11 83.52 299.61 84.31 299.15 84.85C298.69 85.4 298.08 85.91 297.62 86.14C297.16 86.36 296.67 86.4 296.39 86.22C296.1 86.05 295.92 85.59 295.92 85.08C295.93 84.56 296.12 83.79 296.41 83.14C296.69 82.48 297.19 81.69 297.65 81.15C298.11 80.6 298.72 80.09 299.18 79.86C299.64 79.64 300.13 79.6 300.41 79.78Z" fill="#fff" stroke="#333" stroke-width="0.3"/>
<path d="M315.5 65C316.22 65.75 318.78 67.67 319.8 69.5C320.82 71.33 321.5 73.58 321.6 76C321.7 78.42 321.33 81.5 320.4 84C319.47 86.5 316.73 89.83 316 91" fill="none" stroke="#2c2c2c" stroke-width="0.35"/>
</g>
<clipPath id="cb4"><rect x="355.9" y="33.5" width="76.3" height="72"/></clipPath>
<g clip-path="url(#cb4)">
<filter id="sp4" filterUnits="userSpaceOnUse" x="355.9" y="33.5" width="76.3" height="72" color-interpolation-filters="sRGB"><feTurbulence type="fractalNoise" baseFrequency="0.9" numOctaves="2" seed="29" result="n"/><feColorMatrix in="n" type="matrix" values="0 0 0 0 0 0 0 0 0 0 0 0 0 0 0 1.6 0 0 0 -0.3" result="na"/><feComposite in="na" in2="SourceAlpha" operator="arithmetic" k1="0" k2="1" k3="1" k4="-1" result="c"/><feComponentTransfer in="c"><feFuncA type="linear" slope="2.6" intercept="0"/></feComponentTransfer></filter>
<g opacity="0.55"><g filter="url(#sp4)">
<ellipse cx="393" cy="72" rx="32" ry="32" fill="url(#rg)" opacity="0.3" transform="rotate(-35 393 72)"/>
</g></g>
<path d="M404.89 46.21C405.74 46.2 406.11 46.56 407.03 46.66C407.95 46.76 408.62 46.39 409.49 46.72C410.35 47.05 410.76 47.73 411.34 48.32C411.92 48.91 412.14 48.77 412.38 49.66C412.62 50.54 412.35 51.77 412.54 52.76C412.73 53.76 413.18 53.73 413.34 54.62C413.49 55.52 413.52 56.22 413.32 57.25C413.11 58.28 412.4 58.71 412.31 59.78C412.21 60.84 412.68 61.59 412.84 62.59C413 63.58 413.33 63.85 413.11 64.74C412.89 65.63 412.22 66.14 411.76 67.03C411.3 67.92 410.94 68.05 410.81 69.21C410.68 70.36 410.79 71.72 411.13 72.81C411.47 73.9 412.5 73.68 412.51 74.66C412.52 75.63 411.35 76.34 411.18 77.68C411 79.01 411.84 80.09 411.62 81.31C411.4 82.53 410.55 82.76 410.08 83.79C409.6 84.81 409.62 85.33 409.25 86.42C408.89 87.51 408.88 88.25 408.25 89.23C407.63 90.22 406.82 90.75 406.14 91.33C405.45 91.92 405.66 91.96 404.81 92.17C403.95 92.37 402.57 92.08 401.85 92.37C401.14 92.65 401.73 93.05 401.23 93.59C400.73 94.13 400.23 94.81 399.35 95.05C398.46 95.29 397.97 94.96 396.8 94.78C395.63 94.6 394.48 94.1 393.48 94.15C392.49 94.19 392.32 94.63 391.82 95.03C391.33 95.43 391.71 96.16 391.01 96.14C390.32 96.13 389.42 95.37 388.35 94.97C387.28 94.57 386.67 94.41 385.65 94.14C384.62 93.88 384.28 94.05 383.22 93.65C382.16 93.26 381.37 92.79 380.36 92.15C379.34 91.52 378.89 90.97 378.15 90.49C377.41 90 377.62 90.17 376.65 89.73C375.68 89.28 374.47 88.7 373.31 88.26C372.15 87.82 371.55 87.96 370.85 87.52C370.16 87.07 370.36 86.62 369.82 86.04C369.28 85.45 368.2 85.06 368.15 84.59C368.11 84.12 368.92 84.33 369.59 83.68C370.26 83.04 371.17 82.02 371.49 81.37C371.81 80.72 371.44 80.85 371.18 80.43C370.91 80.01 369.77 79.38 370.16 79.27C370.55 79.17 372.05 79.99 373.11 79.91C374.17 79.83 374.49 79.23 375.46 78.86C376.43 78.5 377.14 78.25 377.95 78.07C378.75 77.9 378.91 78.55 379.48 77.98C380.04 77.42 380.2 76.34 380.77 75.24C381.34 74.14 381.62 73.24 382.33 72.47C383.04 71.7 383.39 71.83 384.33 71.4C385.27 70.97 386.49 71.12 387.03 70.33C387.58 69.54 386.76 68.36 387.06 67.46C387.36 66.56 387.84 66.45 388.55 65.82C389.26 65.2 389.63 64.73 390.62 64.35C391.6 63.96 392.85 64.38 393.46 63.9C394.08 63.42 393.51 62.89 393.7 61.94C393.89 60.99 393.89 59.79 394.41 59.14C394.94 58.49 395.53 58.92 396.33 58.68C397.13 58.43 397.96 58.6 398.43 57.91C398.91 57.22 398.58 56.27 398.7 55.24C398.82 54.2 398.73 53.59 399.03 52.72C399.33 51.85 399.83 51.87 400.19 50.87C400.56 49.88 400.34 48.58 400.86 47.74C401.38 46.91 402.01 47 402.81 46.69C403.62 46.39 404.05 46.21 404.89 46.21Z" fill="#4c4c4c" stroke="#141414" stroke-width="1.1"/>
<path d="M404.19 49.91C404.91 49.91 405.23 50.21 406.01 50.3C406.8 50.4 407.37 50.09 408.11 50.38C408.85 50.67 409.21 51.25 409.7 51.75C410.2 52.25 410.38 52.14 410.59 52.9C410.8 53.66 410.57 54.7 410.74 55.55C410.91 56.4 411.29 56.38 411.43 57.15C411.57 57.92 411.6 58.52 411.43 59.4C411.26 60.28 410.66 60.63 410.59 61.55C410.51 62.47 410.92 63.13 411.07 63.99C411.21 64.86 411.49 65.11 411.31 65.88C411.14 66.65 410.57 67.08 410.19 67.86C409.8 68.63 409.49 68.73 409.4 69.77C409.3 70.81 409.41 72.05 409.7 73.05C410 74.05 410.87 73.87 410.88 74.77C410.89 75.67 409.91 76.33 409.75 77.55C409.6 78.77 410.3 79.75 410.1 80.87C409.9 81.99 409.17 82.22 408.76 83.15C408.34 84.07 408.35 84.53 408.02 85.5C407.7 86.46 407.68 87.11 407.14 87.97C406.59 88.84 405.9 89.3 405.3 89.82C404.7 90.34 404.89 90.36 404.15 90.55C403.41 90.74 402.22 90.51 401.6 90.75C400.98 91 401.49 91.34 401.06 91.79C400.63 92.25 400.2 92.83 399.44 93.03C398.67 93.23 398.25 92.95 397.24 92.79C396.23 92.62 395.24 92.18 394.39 92.21C393.53 92.24 393.39 92.6 392.97 92.93C392.55 93.26 392.87 93.89 392.28 93.87C391.68 93.85 390.91 93.19 389.99 92.82C389.07 92.46 388.56 92.31 387.68 92.06C386.8 91.81 386.51 91.96 385.61 91.59C384.7 91.23 384.03 90.81 383.16 90.24C382.3 89.67 381.91 89.19 381.28 88.76C380.64 88.32 380.83 88.47 380 88.07C379.18 87.67 378.15 87.14 377.16 86.75C376.18 86.35 375.67 86.47 375.08 86.08C374.49 85.68 374.67 85.29 374.21 84.78C373.75 84.26 372.83 83.91 372.79 83.5C372.75 83.09 373.44 83.28 374 82.72C374.57 82.16 375.34 81.28 375.6 80.71C375.87 80.15 375.56 80.25 375.34 79.89C375.11 79.52 374.15 78.96 374.48 78.87C374.8 78.78 376.08 79.5 376.97 79.44C377.87 79.37 378.14 78.85 378.95 78.53C379.77 78.21 380.38 77.99 381.06 77.84C381.73 77.69 381.87 78.27 382.35 77.77C382.83 77.26 382.95 76.31 383.44 75.32C383.92 74.34 384.16 73.53 384.77 72.84C385.37 72.14 385.66 72.25 386.46 71.85C387.26 71.45 388.29 71.55 388.76 70.84C389.23 70.12 388.54 69.08 388.81 68.27C389.07 67.46 389.48 67.35 390.09 66.78C390.7 66.21 391.03 65.79 391.88 65.43C392.72 65.06 393.79 65.39 394.33 64.96C394.86 64.52 394.38 64.09 394.55 63.27C394.72 62.45 394.72 61.43 395.18 60.87C395.64 60.31 396.14 60.67 396.83 60.45C397.53 60.24 398.24 60.37 398.65 59.79C399.06 59.2 398.78 58.4 398.88 57.53C398.98 56.65 398.91 56.14 399.17 55.4C399.43 54.66 399.85 54.68 400.17 53.84C400.48 52.99 400.29 51.9 400.74 51.19C401.19 50.49 401.72 50.57 402.41 50.31C403.1 50.05 403.47 49.91 404.19 49.91Z" fill="#676767" stroke="#1c1c1c" stroke-width="0.6"/>
<path d="M403.48 53.61C404.08 53.61 404.34 53.86 404.99 53.95C405.65 54.03 406.12 53.78 406.74 54.03C407.35 54.28 407.65 54.76 408.06 55.18C408.47 55.6 408.63 55.51 408.8 56.14C408.98 56.77 408.8 57.62 408.95 58.33C409.09 59.04 409.41 59.03 409.53 59.67C409.65 60.32 409.68 60.82 409.55 61.55C409.42 62.28 408.92 62.55 408.87 63.32C408.81 64.09 409.16 64.66 409.29 65.4C409.42 66.14 409.65 66.36 409.52 67.02C409.38 67.68 408.92 68.02 408.61 68.68C408.3 69.34 408.05 69.4 407.98 70.32C407.92 71.25 408.02 72.38 408.28 73.29C408.53 74.2 409.24 74.05 409.25 74.87C409.26 75.7 408.46 76.32 408.33 77.43C408.19 78.54 408.76 79.42 408.58 80.43C408.41 81.45 407.8 81.68 407.44 82.51C407.09 83.34 407.08 83.74 406.8 84.58C406.51 85.42 406.49 85.96 406.02 86.71C405.56 87.46 404.97 87.86 404.46 88.31C403.96 88.75 404.12 88.77 403.49 88.94C402.87 89.1 401.87 88.93 401.35 89.14C400.83 89.35 401.26 89.62 400.89 89.99C400.53 90.36 400.17 90.84 399.53 91C398.89 91.16 398.53 90.94 397.69 90.79C396.84 90.65 396.01 90.26 395.29 90.27C394.58 90.28 394.46 90.57 394.11 90.84C393.76 91.1 394.04 91.63 393.55 91.6C393.05 91.57 392.4 91 391.64 90.68C390.87 90.35 390.44 90.21 389.71 89.98C388.98 89.75 388.74 89.86 387.99 89.53C387.25 89.2 386.69 88.83 385.97 88.33C385.25 87.83 384.93 87.41 384.4 87.03C383.88 86.64 384.03 86.77 383.35 86.41C382.68 86.06 381.83 85.59 381.02 85.23C380.21 84.88 379.8 84.98 379.31 84.63C378.83 84.29 378.97 83.96 378.59 83.51C378.21 83.07 377.46 82.76 377.43 82.41C377.39 82.06 377.96 82.23 378.42 81.76C378.88 81.28 379.5 80.54 379.72 80.05C379.93 79.57 379.68 79.66 379.5 79.34C379.32 79.02 378.53 78.54 378.79 78.46C379.06 78.38 380.1 79.02 380.83 78.96C381.56 78.91 381.78 78.46 382.45 78.19C383.12 77.92 383.61 77.73 384.17 77.6C384.72 77.48 384.83 77.99 385.22 77.55C385.61 77.11 385.71 76.27 386.11 75.4C386.5 74.53 386.7 73.82 387.2 73.2C387.7 72.58 387.94 72.68 388.59 72.3C389.25 71.93 390.09 71.99 390.49 71.34C390.88 70.7 390.32 69.8 390.55 69.08C390.78 68.36 391.12 68.26 391.63 67.74C392.15 67.23 392.42 66.86 393.14 66.51C393.85 66.16 394.74 66.4 395.2 66.01C395.65 65.63 395.25 65.28 395.4 64.6C395.55 63.92 395.56 63.08 395.95 62.6C396.34 62.13 396.76 62.41 397.34 62.23C397.92 62.04 398.52 62.15 398.86 61.67C399.21 61.18 398.97 60.53 399.06 59.82C399.15 59.1 399.09 58.68 399.31 58.08C399.52 57.48 399.88 57.49 400.14 56.8C400.4 56.11 400.24 55.22 400.61 54.64C400.99 54.07 401.43 54.13 402 53.93C402.57 53.72 402.88 53.6 403.48 53.61Z" fill="#777777" stroke="#1c1c1c" stroke-width="0.6"/>
<path d="M402.77 57.31C403.25 57.32 403.46 57.52 403.98 57.59C404.49 57.67 404.87 57.48 405.36 57.68C405.85 57.89 406.09 58.27 406.42 58.61C406.75 58.95 406.87 58.88 407.02 59.38C407.16 59.88 407.03 60.55 407.15 61.11C407.27 61.68 407.52 61.68 407.63 62.2C407.73 62.71 407.76 63.11 407.66 63.7C407.57 64.28 407.18 64.47 407.15 65.1C407.12 65.72 407.4 66.2 407.51 66.81C407.63 67.42 407.82 67.62 407.72 68.16C407.62 68.7 407.26 68.96 407.03 69.51C406.8 70.05 406.61 70.08 406.57 70.88C406.53 71.69 406.64 72.7 406.85 73.53C407.06 74.35 407.61 74.23 407.62 74.98C407.63 75.74 407.01 76.31 406.9 77.31C406.79 78.31 407.22 79.09 407.06 80C406.91 80.91 406.43 81.14 406.13 81.87C405.83 82.6 405.81 82.94 405.57 83.66C405.32 84.37 405.3 84.82 404.91 85.45C404.52 86.07 404.04 86.42 403.63 86.79C403.21 87.17 403.34 87.18 402.84 87.32C402.33 87.47 401.52 87.35 401.1 87.53C400.67 87.7 401.02 87.9 400.72 88.19C400.43 88.48 400.14 88.86 399.62 88.98C399.1 89.1 398.81 88.93 398.13 88.8C397.45 88.67 396.77 88.34 396.2 88.33C395.62 88.32 395.54 88.54 395.26 88.74C394.98 88.94 395.21 89.37 394.81 89.33C394.42 89.28 393.89 88.81 393.28 88.53C392.67 88.24 392.32 88.11 391.75 87.89C391.17 87.68 390.98 87.76 390.38 87.47C389.79 87.17 389.34 86.85 388.77 86.41C388.2 85.98 387.95 85.62 387.53 85.29C387.12 84.96 387.24 85.07 386.71 84.76C386.17 84.44 385.51 84.04 384.87 83.72C384.24 83.41 383.92 83.48 383.54 83.19C383.16 82.89 383.27 82.62 382.97 82.25C382.68 81.88 382.09 81.62 382.06 81.32C382.04 81.03 382.48 81.18 382.83 80.79C383.18 80.41 383.67 79.79 383.83 79.39C384 78.99 383.81 79.06 383.66 78.79C383.52 78.53 382.9 78.12 383.11 78.05C383.32 77.99 384.13 78.53 384.69 78.49C385.26 78.45 385.43 78.08 385.95 77.86C386.46 77.63 386.85 77.47 387.28 77.37C387.7 77.26 387.79 77.71 388.09 77.33C388.4 76.95 388.47 76.24 388.78 75.48C389.09 74.73 389.25 74.11 389.63 73.57C390.02 73.02 390.21 73.1 390.72 72.75C391.24 72.41 391.9 72.42 392.21 71.85C392.53 71.28 392.11 70.52 392.3 69.89C392.49 69.26 392.76 69.16 393.18 68.7C393.6 68.24 393.82 67.92 394.4 67.59C394.97 67.27 395.69 67.4 396.06 67.07C396.43 66.74 396.12 66.48 396.25 65.93C396.38 65.38 396.4 64.72 396.72 64.33C397.04 63.95 397.37 64.16 397.84 64C398.32 63.84 398.8 63.92 399.08 63.54C399.36 63.16 399.17 62.66 399.24 62.11C399.32 61.55 399.27 61.23 399.44 60.76C399.62 60.29 399.9 60.3 400.11 59.77C400.32 59.23 400.19 58.54 400.49 58.09C400.79 57.65 401.14 57.7 401.59 57.54C402.05 57.39 402.29 57.3 402.77 57.31Z" fill="#868686" stroke="#1c1c1c" stroke-width="0.6"/>
<path d="M402.06 61.01C402.42 61.02 402.57 61.17 402.96 61.23C403.34 61.3 403.62 61.17 403.99 61.34C404.35 61.5 404.53 61.78 404.78 62.04C405.03 62.3 405.12 62.25 405.23 62.62C405.34 62.99 405.25 63.48 405.35 63.9C405.45 64.32 405.64 64.33 405.72 64.72C405.81 65.11 405.84 65.41 405.78 65.84C405.72 66.27 405.43 66.4 405.43 66.87C405.42 67.35 405.64 67.73 405.74 68.22C405.84 68.7 405.98 68.87 405.92 69.3C405.87 69.72 405.61 69.91 405.46 70.34C405.3 70.76 405.16 70.75 405.16 71.44C405.15 72.13 405.26 73.03 405.42 73.76C405.59 74.49 405.98 74.41 405.99 75.09C406 75.78 405.56 76.29 405.47 77.19C405.39 78.08 405.68 78.75 405.54 79.56C405.41 80.37 405.05 80.6 404.81 81.23C404.57 81.87 404.54 82.15 404.34 82.74C404.14 83.33 404.1 83.68 403.79 84.19C403.48 84.69 403.11 84.98 402.79 85.28C402.47 85.58 402.57 85.58 402.18 85.71C401.79 85.84 401.17 85.78 400.84 85.92C400.52 86.05 400.78 86.19 400.55 86.39C400.33 86.6 400.1 86.88 399.71 86.96C399.31 87.04 399.1 86.92 398.57 86.8C398.05 86.69 397.54 86.43 397.1 86.4C396.67 86.36 396.61 86.52 396.4 86.65C396.2 86.78 396.37 87.11 396.08 87.05C395.78 87 395.38 86.63 394.92 86.38C394.46 86.13 394.21 86.01 393.78 85.81C393.35 85.62 393.21 85.67 392.77 85.4C392.33 85.14 392 84.87 391.58 84.5C391.16 84.13 390.97 83.84 390.66 83.56C390.36 83.28 390.44 83.37 390.06 83.1C389.67 82.83 389.19 82.48 388.73 82.21C388.27 81.94 388.05 81.99 387.77 81.74C387.5 81.5 387.57 81.29 387.36 80.99C387.14 80.69 386.72 80.47 386.7 80.23C386.68 80 386.99 80.13 387.24 79.83C387.49 79.53 387.83 79.05 387.95 78.73C388.06 78.41 387.93 78.47 387.82 78.25C387.72 78.03 387.28 77.69 387.43 77.65C387.58 77.6 388.15 78.05 388.56 78.02C388.96 77.99 389.08 77.7 389.44 77.52C389.81 77.34 390.08 77.22 390.38 77.14C390.69 77.05 390.75 77.43 390.97 77.11C391.18 76.8 391.23 76.2 391.45 75.57C391.67 74.93 391.79 74.4 392.07 73.93C392.35 73.46 392.48 73.52 392.86 73.21C393.23 72.89 393.7 72.86 393.94 72.36C394.18 71.86 393.89 71.24 394.05 70.71C394.2 70.17 394.4 70.07 394.72 69.66C395.04 69.26 395.21 68.98 395.66 68.67C396.1 68.37 396.64 68.41 396.93 68.13C397.22 67.85 396.99 67.68 397.1 67.26C397.21 66.85 397.24 66.36 397.49 66.06C397.74 65.77 397.99 65.91 398.35 65.78C398.71 65.65 399.08 65.7 399.3 65.42C399.51 65.14 399.37 64.79 399.43 64.4C399.48 64 399.45 63.77 399.58 63.44C399.71 63.1 399.93 63.11 400.08 62.73C400.24 62.35 400.14 61.86 400.36 61.54C400.59 61.23 400.85 61.27 401.19 61.16C401.53 61.05 401.71 60.99 402.06 61.01Z" fill="#969696" stroke="#1c1c1c" stroke-width="0.6"/>
<path d="M403.4 55C404.37 53.5 406.53 53 407.4 54C408.27 55 408.63 58 408.6 61C408.57 64 407.47 68.5 407.2 72C406.93 75.5 407.63 79.33 407 82C406.37 84.67 404.6 87.67 403.4 88C402.2 88.33 400.23 86.67 399.8 84C399.37 81.33 400.5 75.5 400.8 72C401.1 68.5 401.17 65.83 401.6 63C402.03 60.17 402.43 56.5 403.4 55Z" fill="#9a9a9a" stroke="#1c1c1c" stroke-width="0.55"/>
<path d="M402.8 70C403.4 68.53 404.43 68.53 404.8 69.2C405.17 69.87 405.17 72.03 405 74C404.83 75.97 404.33 79.4 403.8 81C403.27 82.6 402.23 84.1 401.8 83.6C401.37 83.1 401.03 80.27 401.2 78C401.37 75.73 402.2 71.47 402.8 70Z" fill="#f6f6f6" stroke="#444" stroke-width="0.3"/>
<path d="M403.6 61.6C404 60.77 405.77 60.43 406.2 61C406.63 61.57 406.6 64.17 406.2 65C405.8 65.83 404.23 66.57 403.8 66C403.37 65.43 403.2 62.43 403.6 61.6Z" fill="#e4e4e4" stroke="#444" stroke-width="0.3"/>
<path d="M388 76.5C388.77 75.75 391.17 75.08 392 75.5C392.83 75.92 393.33 78 393 79C392.67 80 390.93 81.33 390 81.5C389.07 81.67 387.73 80.83 387.4 80C387.07 79.17 387.23 77.25 388 76.5Z" fill="#8a8a8a" stroke="#2a2a2a" stroke-width="0.3"/>
<path d="M380 82.5C380.92 81.75 383.5 81.08 384.5 81.5C385.5 81.92 386.33 84.02 386 85C385.67 85.98 383.67 87.23 382.5 87.4C381.33 87.57 379.42 86.82 379 86C378.58 85.18 379.08 83.25 380 82.5Z" fill="#8a8a8a" stroke="#2a2a2a" stroke-width="0.3"/>
</g>
<clipPath id="cb5"><rect x="438.6" y="33.5" width="76.6" height="72"/></clipPath>
<g clip-path="url(#cb5)">
<filter id="sp5" filterUnits="userSpaceOnUse" x="438.6" y="33.5" width="76.6" height="72" color-interpolation-filters="sRGB"><feTurbulence type="fractalNoise" baseFrequency="0.9" numOctaves="2" seed="31" result="n"/><feColorMatrix in="n" type="matrix" values="0 0 0 0 0 0 0 0 0 0 0 0 0 0 0 1.6 0 0 0 -0.3" result="na"/><feComposite in="na" in2="SourceAlpha" operator="arithmetic" k1="0" k2="1" k3="1" k4="-1" result="c"/><feComponentTransfer in="c"><feFuncA type="linear" slope="2.6" intercept="0"/></feComponentTransfer></filter>
<g opacity="0.62"><g filter="url(#sp5)">
<ellipse cx="473" cy="82.5" rx="26" ry="23.5" fill="url(#rh)" opacity="0.58" transform="rotate(0 473 82.5)"/>
<ellipse cx="474" cy="82" rx="31" ry="27" fill="url(#rg)" opacity="0.5" transform="rotate(0 474 82)"/>
<ellipse cx="485" cy="64" rx="22" ry="16" fill="url(#rg)" opacity="0.4" transform="rotate(0 485 64)"/>
<ellipse cx="472" cy="52" rx="26" ry="18" fill="url(#rg)" opacity="0.28" transform="rotate(0 472 52)"/>
<ellipse cx="476" cy="78" rx="42" ry="36" fill="url(#rg)" opacity="0.2" transform="rotate(0 476 78)"/>
</g></g>
<path d="M452.8 82.2C453.12 80.37 454.22 77.95 455.5 76C456.78 74.05 458.75 72.1 460.5 70.5C462.25 68.9 463.92 67.38 466 66.4C468.08 65.42 470.5 65.03 473 64.6C475.5 64.17 478.42 63.93 481 63.8C483.58 63.67 486.53 63.43 488.5 63.8C490.47 64.17 491.98 64.63 492.8 66C493.62 67.37 493.33 69.33 493.4 72C493.47 74.67 493.27 78.67 493.2 82C493.13 85.33 493.2 89.33 493 92C492.8 94.67 492.73 96.6 492 98C491.27 99.4 490.1 100.13 488.6 100.4C487.1 100.67 484.93 100.17 483 99.6C481.07 99.03 479.17 97.85 477 97C474.83 96.15 472.33 95.28 470 94.5C467.67 93.72 465.17 93.05 463 92.3C460.83 91.55 458.57 90.88 457 90C455.43 89.12 454.3 88.3 453.6 87C452.9 85.7 452.48 84.03 452.8 82.2Z" fill="#484848" stroke="#141414" stroke-width="1.1"/>
<path d="M455.97 82.07C456.25 80.44 457.2 78.29 458.32 76.55C459.44 74.81 461.16 73.06 462.7 71.62C464.24 70.18 465.71 68.82 467.55 67.92C469.4 67.03 471.53 66.65 473.76 66.25C475.98 65.84 478.59 65.62 480.89 65.51C483.2 65.39 485.82 65.23 487.57 65.57C489.32 65.91 490.65 66.34 491.39 67.55C492.12 68.77 491.91 70.48 491.99 72.87C492.07 75.27 491.95 78.9 491.89 81.91C491.83 84.92 491.82 88.53 491.61 90.91C491.41 93.3 491.32 94.97 490.66 96.21C490 97.45 488.97 98.1 487.64 98.35C486.31 98.6 484.39 98.18 482.67 97.7C480.95 97.21 479.25 96.2 477.32 95.44C475.38 94.69 473.13 93.89 471.06 93.17C468.99 92.45 466.79 91.81 464.89 91.12C462.99 90.43 461.01 89.81 459.64 89.01C458.28 88.22 457.29 87.49 456.68 86.33C456.07 85.17 455.7 83.7 455.97 82.07Z" fill="#898989" stroke="#1c1c1c" stroke-width="0.6"/>
<path d="M459.15 81.93C459.38 80.5 460.19 78.63 461.14 77.1C462.1 75.57 463.57 74.02 464.9 72.74C466.23 71.47 467.5 70.25 469.11 69.45C470.71 68.64 472.56 68.27 474.51 67.89C476.46 67.52 478.77 67.31 480.79 67.22C482.81 67.12 485.1 67.02 486.64 67.33C488.17 67.65 489.32 68.04 489.98 69.11C490.63 70.18 490.48 71.63 490.58 73.75C490.68 75.86 490.64 79.14 490.58 81.82C490.53 84.5 490.44 87.72 490.23 89.82C490.02 91.93 489.91 93.35 489.32 94.43C488.73 95.5 487.84 96.07 486.67 96.3C485.51 96.53 483.85 96.2 482.34 95.8C480.84 95.4 479.34 94.55 477.63 93.89C475.93 93.23 473.94 92.5 472.13 91.84C470.32 91.18 468.42 90.57 466.78 89.94C465.14 89.3 463.46 88.74 462.29 88.03C461.12 87.31 460.28 86.68 459.76 85.66C459.23 84.64 458.92 83.36 459.15 81.93Z" fill="#a2a2a2" stroke="#1c1c1c" stroke-width="0.6"/>
<path d="M462.32 81.8C462.51 80.57 463.17 78.97 463.97 77.65C464.76 76.33 465.99 74.98 467.1 73.87C468.22 72.75 469.3 71.69 470.66 70.97C472.02 70.25 473.6 69.88 475.27 69.54C476.94 69.2 478.94 69 480.68 68.92C482.42 68.85 484.39 68.81 485.7 69.1C487.02 69.39 487.99 69.74 488.56 70.66C489.14 71.58 489.05 72.77 489.17 74.62C489.29 76.46 489.33 79.38 489.28 81.73C489.22 84.09 489.05 86.92 488.84 88.74C488.62 90.55 488.51 91.72 487.98 92.64C487.46 93.56 486.71 94.04 485.71 94.25C484.72 94.46 483.31 94.22 482.02 93.9C480.72 93.58 479.42 92.89 477.95 92.33C476.48 91.77 474.74 91.11 473.19 90.51C471.64 89.92 470.04 89.33 468.67 88.75C467.29 88.18 465.91 87.67 464.93 87.04C463.96 86.41 463.27 85.86 462.83 84.99C462.4 84.12 462.13 83.02 462.32 81.8Z" fill="#b8b8b8" stroke="#1c1c1c" stroke-width="0.6"/>
<path d="M465.5 81.66C465.64 80.64 466.16 79.31 466.79 78.2C467.42 77.08 468.4 75.94 469.3 74.99C470.21 74.04 471.09 73.13 472.21 72.49C473.33 71.86 474.63 71.5 476.02 71.19C477.41 70.88 479.11 70.68 480.57 70.63C482.03 70.58 483.67 70.61 484.77 70.87C485.87 71.13 486.65 71.44 487.15 72.21C487.65 72.99 487.62 73.92 487.76 75.49C487.89 77.06 488.02 79.62 487.97 81.64C487.92 83.67 487.67 86.11 487.45 87.65C487.23 89.18 487.1 90.09 486.65 90.85C486.2 91.61 485.57 92.01 484.75 92.2C483.92 92.39 482.77 92.23 481.69 92C480.61 91.76 479.5 91.24 478.27 90.77C477.03 90.3 475.54 89.72 474.25 89.19C472.97 88.65 471.67 88.09 470.56 87.57C469.44 87.05 468.35 86.6 467.58 86.06C466.8 85.51 466.26 85.05 465.91 84.32C465.56 83.59 465.35 82.68 465.5 81.66Z" fill="#cccccc" stroke="#1c1c1c" stroke-width="0.6"/>
<path d="M468.67 81.53C468.77 80.71 469.14 79.65 469.61 78.75C470.09 77.84 470.81 76.9 471.5 76.11C472.2 75.32 472.89 74.56 473.76 74.02C474.64 73.47 475.66 73.12 476.78 72.84C477.89 72.56 479.29 72.37 480.46 72.34C481.64 72.31 482.96 72.4 483.84 72.64C484.72 72.88 485.32 73.15 485.74 73.77C486.16 74.39 486.19 75.07 486.35 76.36C486.5 77.66 486.71 79.86 486.66 81.55C486.61 83.25 486.29 85.31 486.06 86.56C485.84 87.81 485.69 88.47 485.31 89.06C484.93 89.66 484.44 89.98 483.79 90.15C483.13 90.32 482.23 90.25 481.36 90.1C480.49 89.94 479.59 89.59 478.58 89.22C477.58 88.84 476.34 88.33 475.32 87.86C474.29 87.39 473.29 86.86 472.45 86.39C471.6 85.93 470.8 85.53 470.22 85.07C469.65 84.61 469.25 84.24 468.99 83.65C468.73 83.06 468.57 82.35 468.67 81.53Z" fill="#dedede" stroke="#1c1c1c" stroke-width="0.6"/>
<path d="M471.84 81.4C471.9 80.78 472.12 79.99 472.43 79.3C472.75 78.6 473.22 77.86 473.71 77.23C474.19 76.61 474.68 76 475.32 75.54C475.96 75.08 476.69 74.73 477.53 74.48C478.37 74.23 479.46 74.06 480.36 74.05C481.25 74.03 482.24 74.19 482.91 74.4C483.57 74.62 483.99 74.85 484.33 75.32C484.66 75.79 484.77 76.21 484.94 77.24C485.11 78.26 485.4 80.09 485.35 81.47C485.31 82.84 484.91 84.51 484.68 85.47C484.45 86.44 484.28 86.84 483.97 87.28C483.66 87.71 483.31 87.94 482.82 88.1C482.33 88.25 481.69 88.27 481.03 88.2C480.38 88.12 479.67 87.94 478.9 87.66C478.12 87.38 477.14 86.94 476.38 86.53C475.62 86.12 474.92 85.62 474.33 85.21C473.75 84.8 473.24 84.45 472.87 84.08C472.49 83.71 472.24 83.43 472.07 82.98C471.9 82.53 471.78 82.01 471.84 81.4Z" fill="#f0f0f0" stroke="#1c1c1c" stroke-width="0.6"/>
<path d="M480.6 76.2C481.5 75.23 483.73 74.73 484.8 75.2C485.87 75.67 486.8 77.57 487 79C487.2 80.43 486.9 82.87 486 83.8C485.1 84.73 482.7 85.07 481.6 84.6C480.5 84.13 479.57 82.4 479.4 81C479.23 79.6 479.7 77.17 480.6 76.2Z" fill="#fff" stroke="#333" stroke-width="0.3"/>
<path d="M466 80.4C466.57 79.3 469.4 78.2 471 78.4C472.6 78.6 475.27 80.43 475.6 81.6C475.93 82.77 474.33 84.83 473 85.4C471.67 85.97 468.77 85.83 467.6 85C466.43 84.17 465.43 81.5 466 80.4Z" fill="#cfcfcf" stroke="#333" stroke-width="0.3"/>
</g>
<line x1="64.6" y1="33.5" x2="64.6" y2="105.5" stroke="#0a0a0a" stroke-width="1.15"/>
<line x1="24.5" y1="68.1" x2="102" y2="68.1" stroke="#0a0a0a" stroke-width="1.15"/>
<rect x="24.5" y="33.5" width="77.5" height="72" fill="none" stroke="#0a0a0a" stroke-width="1.4"/>
<line x1="25.1" y1="105.5" x2="25.1" y2="108.5" stroke="#222" stroke-width="0.7"/>
<line x1="40.1" y1="105.5" x2="40.1" y2="108.7" stroke="#222" stroke-width="0.7"/>
<line x1="56.3" y1="105.5" x2="56.3" y2="108.7" stroke="#222" stroke-width="0.7"/>
<line x1="76.5" y1="105.5" x2="76.5" y2="108.7" stroke="#222" stroke-width="0.7"/>
<line x1="94.5" y1="105.5" x2="94.5" y2="108.7" stroke="#222" stroke-width="0.7"/>
<line x1="27.5" y1="105.5" x2="27.5" y2="107.3" stroke="#555" stroke-width="0.5"/>
<line x1="29.5" y1="105.5" x2="29.5" y2="107.3" stroke="#555" stroke-width="0.5"/>
<line x1="31.5" y1="105.5" x2="31.5" y2="107.3" stroke="#555" stroke-width="0.5"/>
<line x1="33.5" y1="105.5" x2="33.5" y2="107.3" stroke="#555" stroke-width="0.5"/>
<line x1="35.5" y1="105.5" x2="35.5" y2="107.3" stroke="#555" stroke-width="0.5"/>
<line x1="37.5" y1="105.5" x2="37.5" y2="107.3" stroke="#555" stroke-width="0.5"/>
<line x1="42.5" y1="105.5" x2="42.5" y2="107.3" stroke="#555" stroke-width="0.5"/>
<line x1="45" y1="105.5" x2="45" y2="107.3" stroke="#555" stroke-width="0.5"/>
<line x1="47.5" y1="105.5" x2="47.5" y2="107.3" stroke="#555" stroke-width="0.5"/>
<line x1="49.5" y1="105.5" x2="49.5" y2="107.3" stroke="#555" stroke-width="0.5"/>
<line x1="51.5" y1="105.5" x2="51.5" y2="107.3" stroke="#555" stroke-width="0.5"/>
<line x1="53.5" y1="105.5" x2="53.5" y2="107.3" stroke="#555" stroke-width="0.5"/>
<line x1="61" y1="105.5" x2="61" y2="107.3" stroke="#555" stroke-width="0.5"/>
<line x1="64.5" y1="105.5" x2="64.5" y2="107.3" stroke="#555" stroke-width="0.5"/>
<line x1="67.5" y1="105.5" x2="67.5" y2="107.3" stroke="#555" stroke-width="0.5"/>
<line x1="70" y1="105.5" x2="70" y2="107.3" stroke="#555" stroke-width="0.5"/>
<line x1="72" y1="105.5" x2="72" y2="107.3" stroke="#555" stroke-width="0.5"/>
<line x1="74" y1="105.5" x2="74" y2="107.3" stroke="#555" stroke-width="0.5"/>
<line x1="81.5" y1="105.5" x2="81.5" y2="107.3" stroke="#555" stroke-width="0.5"/>
<line x1="85.5" y1="105.5" x2="85.5" y2="107.3" stroke="#555" stroke-width="0.5"/>
<line x1="88.5" y1="105.5" x2="88.5" y2="107.3" stroke="#555" stroke-width="0.5"/>
<line x1="90.5" y1="105.5" x2="90.5" y2="107.3" stroke="#555" stroke-width="0.5"/>
<line x1="92.5" y1="105.5" x2="92.5" y2="107.3" stroke="#555" stroke-width="0.5"/>
<line x1="97.5" y1="105.5" x2="97.5" y2="107.3" stroke="#555" stroke-width="0.5"/>
<line x1="100" y1="105.5" x2="100" y2="107.3" stroke="#555" stroke-width="0.5"/>
<line x1="21.9" y1="84.6" x2="24.5" y2="84.6" stroke="#222" stroke-width="1"/>
<line x1="23" y1="38" x2="24.5" y2="38" stroke="#888" stroke-width="0.5"/>
<line x1="23" y1="44.5" x2="24.5" y2="44.5" stroke="#888" stroke-width="0.5"/>
<line x1="23" y1="51" x2="24.5" y2="51" stroke="#888" stroke-width="0.5"/>
<line x1="23" y1="57.5" x2="24.5" y2="57.5" stroke="#888" stroke-width="0.5"/>
<line x1="23" y1="64" x2="24.5" y2="64" stroke="#888" stroke-width="0.5"/>
<line x1="23" y1="95" x2="24.5" y2="95" stroke="#888" stroke-width="0.5"/>
<line x1="23" y1="102" x2="24.5" y2="102" stroke="#888" stroke-width="0.5"/>
<text x="40.3" y="113.3" font-size="4.4" text-anchor="middle" fill="#4a4a4a" stroke="#4a4a4a" stroke-width="0.1">0</text>
<text x="56.9" y="113.4" font-size="4.2" text-anchor="middle" fill="#4a4a4a">10<tspan dy="-1.6" font-size="3">3</tspan></text>
<text x="77.5" y="113.4" font-size="4.2" text-anchor="middle" fill="#4a4a4a">10<tspan dy="-1.6" font-size="3">4</tspan></text>
<text x="95.7" y="113.4" font-size="4.2" text-anchor="middle" fill="#4a4a4a">10<tspan dy="-1.6" font-size="3">5</tspan></text>
<text x="25.1" y="114.9" font-size="3.4" text-anchor="middle" fill="#666">srs</text>
<line x1="147.3" y1="33.5" x2="147.3" y2="105.5" stroke="#0a0a0a" stroke-width="1.15"/>
<line x1="106.6" y1="68.1" x2="183" y2="68.1" stroke="#0a0a0a" stroke-width="1.15"/>
<rect x="106.6" y="33.5" width="76.4" height="72" fill="none" stroke="#0a0a0a" stroke-width="1.4"/>
<line x1="107.2" y1="105.5" x2="107.2" y2="108.5" stroke="#222" stroke-width="0.7"/>
<line x1="122.2" y1="105.5" x2="122.2" y2="108.7" stroke="#222" stroke-width="0.7"/>
<line x1="138.4" y1="105.5" x2="138.4" y2="108.7" stroke="#222" stroke-width="0.7"/>
<line x1="158.6" y1="105.5" x2="158.6" y2="108.7" stroke="#222" stroke-width="0.7"/>
<line x1="176.6" y1="105.5" x2="176.6" y2="108.7" stroke="#222" stroke-width="0.7"/>
<line x1="109.6" y1="105.5" x2="109.6" y2="107.3" stroke="#555" stroke-width="0.5"/>
<line x1="111.6" y1="105.5" x2="111.6" y2="107.3" stroke="#555" stroke-width="0.5"/>
<line x1="113.6" y1="105.5" x2="113.6" y2="107.3" stroke="#555" stroke-width="0.5"/>
<line x1="115.6" y1="105.5" x2="115.6" y2="107.3" stroke="#555" stroke-width="0.5"/>
<line x1="117.6" y1="105.5" x2="117.6" y2="107.3" stroke="#555" stroke-width="0.5"/>
<line x1="119.6" y1="105.5" x2="119.6" y2="107.3" stroke="#555" stroke-width="0.5"/>
<line x1="124.6" y1="105.5" x2="124.6" y2="107.3" stroke="#555" stroke-width="0.5"/>
<line x1="127.1" y1="105.5" x2="127.1" y2="107.3" stroke="#555" stroke-width="0.5"/>
<line x1="129.6" y1="105.5" x2="129.6" y2="107.3" stroke="#555" stroke-width="0.5"/>
<line x1="131.6" y1="105.5" x2="131.6" y2="107.3" stroke="#555" stroke-width="0.5"/>
<line x1="133.6" y1="105.5" x2="133.6" y2="107.3" stroke="#555" stroke-width="0.5"/>
<line x1="135.6" y1="105.5" x2="135.6" y2="107.3" stroke="#555" stroke-width="0.5"/>
<line x1="143.1" y1="105.5" x2="143.1" y2="107.3" stroke="#555" stroke-width="0.5"/>
<line x1="146.6" y1="105.5" x2="146.6" y2="107.3" stroke="#555" stroke-width="0.5"/>
<line x1="149.6" y1="105.5" x2="149.6" y2="107.3" stroke="#555" stroke-width="0.5"/>
<line x1="152.1" y1="105.5" x2="152.1" y2="107.3" stroke="#555" stroke-width="0.5"/>
<line x1="154.1" y1="105.5" x2="154.1" y2="107.3" stroke="#555" stroke-width="0.5"/>
<line x1="156.1" y1="105.5" x2="156.1" y2="107.3" stroke="#555" stroke-width="0.5"/>
<line x1="163.6" y1="105.5" x2="163.6" y2="107.3" stroke="#555" stroke-width="0.5"/>
<line x1="167.6" y1="105.5" x2="167.6" y2="107.3" stroke="#555" stroke-width="0.5"/>
<line x1="170.6" y1="105.5" x2="170.6" y2="107.3" stroke="#555" stroke-width="0.5"/>
<line x1="172.6" y1="105.5" x2="172.6" y2="107.3" stroke="#555" stroke-width="0.5"/>
<line x1="174.6" y1="105.5" x2="174.6" y2="107.3" stroke="#555" stroke-width="0.5"/>
<line x1="179.6" y1="105.5" x2="179.6" y2="107.3" stroke="#555" stroke-width="0.5"/>
<line x1="182.1" y1="105.5" x2="182.1" y2="107.3" stroke="#555" stroke-width="0.5"/>
<line x1="104" y1="84.6" x2="106.6" y2="84.6" stroke="#222" stroke-width="1"/>
<line x1="105.1" y1="38" x2="106.6" y2="38" stroke="#888" stroke-width="0.5"/>
<line x1="105.1" y1="44.5" x2="106.6" y2="44.5" stroke="#888" stroke-width="0.5"/>
<line x1="105.1" y1="51" x2="106.6" y2="51" stroke="#888" stroke-width="0.5"/>
<line x1="105.1" y1="57.5" x2="106.6" y2="57.5" stroke="#888" stroke-width="0.5"/>
<line x1="105.1" y1="64" x2="106.6" y2="64" stroke="#888" stroke-width="0.5"/>
<line x1="105.1" y1="95" x2="106.6" y2="95" stroke="#888" stroke-width="0.5"/>
<line x1="105.1" y1="102" x2="106.6" y2="102" stroke="#888" stroke-width="0.5"/>
<text x="122.4" y="113.3" font-size="4.4" text-anchor="middle" fill="#4a4a4a" stroke="#4a4a4a" stroke-width="0.1">0</text>
<text x="139" y="113.4" font-size="4.2" text-anchor="middle" fill="#4a4a4a">10<tspan dy="-1.6" font-size="3">3</tspan></text>
<text x="159.6" y="113.4" font-size="4.2" text-anchor="middle" fill="#4a4a4a">10<tspan dy="-1.6" font-size="3">4</tspan></text>
<text x="177.8" y="113.4" font-size="4.2" text-anchor="middle" fill="#4a4a4a">10<tspan dy="-1.6" font-size="3">5</tspan></text>
<text x="107.2" y="114.9" font-size="3.4" text-anchor="middle" fill="#666">srs</text>
<text x="109.8" y="41.7" font-size="8.6" textLength="10.2" lengthAdjust="spacingAndGlyphs" stroke="#1c1c1c" stroke-width="0.22">3.5</text>
<text x="168.3" y="41.7" font-size="8.6" textLength="10.2" lengthAdjust="spacingAndGlyphs" stroke="#1c1c1c" stroke-width="0.22">2.1</text>
<text x="110.2" y="104" font-size="8.6" textLength="13.3" lengthAdjust="spacingAndGlyphs" stroke="#1c1c1c" stroke-width="0.22">73.1</text>
<text x="165.3" y="104" font-size="8.6" textLength="13.3" lengthAdjust="spacingAndGlyphs" stroke="#1c1c1c" stroke-width="0.22">21.6</text>
<line x1="229.3" y1="33.5" x2="229.3" y2="105.5" stroke="#0a0a0a" stroke-width="1.15"/>
<line x1="189.1" y1="68.1" x2="265.7" y2="68.1" stroke="#0a0a0a" stroke-width="1.15"/>
<rect x="189.1" y="33.5" width="76.6" height="72" fill="none" stroke="#0a0a0a" stroke-width="1.4"/>
<line x1="189.7" y1="105.5" x2="189.7" y2="108.5" stroke="#222" stroke-width="0.7"/>
<line x1="204.7" y1="105.5" x2="204.7" y2="108.7" stroke="#222" stroke-width="0.7"/>
<line x1="220.9" y1="105.5" x2="220.9" y2="108.7" stroke="#222" stroke-width="0.7"/>
<line x1="241.1" y1="105.5" x2="241.1" y2="108.7" stroke="#222" stroke-width="0.7"/>
<line x1="259.1" y1="105.5" x2="259.1" y2="108.7" stroke="#222" stroke-width="0.7"/>
<line x1="192.1" y1="105.5" x2="192.1" y2="107.3" stroke="#555" stroke-width="0.5"/>
<line x1="194.1" y1="105.5" x2="194.1" y2="107.3" stroke="#555" stroke-width="0.5"/>
<line x1="196.1" y1="105.5" x2="196.1" y2="107.3" stroke="#555" stroke-width="0.5"/>
<line x1="198.1" y1="105.5" x2="198.1" y2="107.3" stroke="#555" stroke-width="0.5"/>
<line x1="200.1" y1="105.5" x2="200.1" y2="107.3" stroke="#555" stroke-width="0.5"/>
<line x1="202.1" y1="105.5" x2="202.1" y2="107.3" stroke="#555" stroke-width="0.5"/>
<line x1="207.1" y1="105.5" x2="207.1" y2="107.3" stroke="#555" stroke-width="0.5"/>
<line x1="209.6" y1="105.5" x2="209.6" y2="107.3" stroke="#555" stroke-width="0.5"/>
<line x1="212.1" y1="105.5" x2="212.1" y2="107.3" stroke="#555" stroke-width="0.5"/>
<line x1="214.1" y1="105.5" x2="214.1" y2="107.3" stroke="#555" stroke-width="0.5"/>
<line x1="216.1" y1="105.5" x2="216.1" y2="107.3" stroke="#555" stroke-width="0.5"/>
<line x1="218.1" y1="105.5" x2="218.1" y2="107.3" stroke="#555" stroke-width="0.5"/>
<line x1="225.6" y1="105.5" x2="225.6" y2="107.3" stroke="#555" stroke-width="0.5"/>
<line x1="229.1" y1="105.5" x2="229.1" y2="107.3" stroke="#555" stroke-width="0.5"/>
<line x1="232.1" y1="105.5" x2="232.1" y2="107.3" stroke="#555" stroke-width="0.5"/>
<line x1="234.6" y1="105.5" x2="234.6" y2="107.3" stroke="#555" stroke-width="0.5"/>
<line x1="236.6" y1="105.5" x2="236.6" y2="107.3" stroke="#555" stroke-width="0.5"/>
<line x1="238.6" y1="105.5" x2="238.6" y2="107.3" stroke="#555" stroke-width="0.5"/>
<line x1="246.1" y1="105.5" x2="246.1" y2="107.3" stroke="#555" stroke-width="0.5"/>
<line x1="250.1" y1="105.5" x2="250.1" y2="107.3" stroke="#555" stroke-width="0.5"/>
<line x1="253.1" y1="105.5" x2="253.1" y2="107.3" stroke="#555" stroke-width="0.5"/>
<line x1="255.1" y1="105.5" x2="255.1" y2="107.3" stroke="#555" stroke-width="0.5"/>
<line x1="257.1" y1="105.5" x2="257.1" y2="107.3" stroke="#555" stroke-width="0.5"/>
<line x1="262.1" y1="105.5" x2="262.1" y2="107.3" stroke="#555" stroke-width="0.5"/>
<line x1="264.6" y1="105.5" x2="264.6" y2="107.3" stroke="#555" stroke-width="0.5"/>
<line x1="186.5" y1="84.6" x2="189.1" y2="84.6" stroke="#222" stroke-width="1"/>
<line x1="187.6" y1="38" x2="189.1" y2="38" stroke="#888" stroke-width="0.5"/>
<line x1="187.6" y1="44.5" x2="189.1" y2="44.5" stroke="#888" stroke-width="0.5"/>
<line x1="187.6" y1="51" x2="189.1" y2="51" stroke="#888" stroke-width="0.5"/>
<line x1="187.6" y1="57.5" x2="189.1" y2="57.5" stroke="#888" stroke-width="0.5"/>
<line x1="187.6" y1="64" x2="189.1" y2="64" stroke="#888" stroke-width="0.5"/>
<line x1="187.6" y1="95" x2="189.1" y2="95" stroke="#888" stroke-width="0.5"/>
<line x1="187.6" y1="102" x2="189.1" y2="102" stroke="#888" stroke-width="0.5"/>
<text x="204.9" y="113.3" font-size="4.4" text-anchor="middle" fill="#4a4a4a" stroke="#4a4a4a" stroke-width="0.1">0</text>
<text x="221.5" y="113.4" font-size="4.2" text-anchor="middle" fill="#4a4a4a">10<tspan dy="-1.6" font-size="3">3</tspan></text>
<text x="242.1" y="113.4" font-size="4.2" text-anchor="middle" fill="#4a4a4a">10<tspan dy="-1.6" font-size="3">4</tspan></text>
<text x="260.3" y="113.4" font-size="4.2" text-anchor="middle" fill="#4a4a4a">10<tspan dy="-1.6" font-size="3">5</tspan></text>
<text x="189.7" y="114.9" font-size="3.4" text-anchor="middle" fill="#666">srs</text>
<text x="192.3" y="41.7" font-size="8.6" textLength="10.2" lengthAdjust="spacingAndGlyphs" stroke="#1c1c1c" stroke-width="0.22">6.8</text>
<text x="251" y="41.7" font-size="8.6" textLength="10.2" lengthAdjust="spacingAndGlyphs" stroke="#1c1c1c" stroke-width="0.22">3.1</text>
<text x="192.7" y="104" font-size="8.6" textLength="13.3" lengthAdjust="spacingAndGlyphs" stroke="#1c1c1c" stroke-width="0.22">73.8</text>
<text x="248" y="104" font-size="8.6" textLength="13.3" lengthAdjust="spacingAndGlyphs" stroke="#1c1c1c" stroke-width="0.22">16.5</text>
<line x1="313.5" y1="33.5" x2="313.5" y2="105.5" stroke="#0a0a0a" stroke-width="1.15"/>
<line x1="273.4" y1="68.1" x2="349.7" y2="68.1" stroke="#0a0a0a" stroke-width="1.15"/>
<rect x="273.4" y="33.5" width="76.3" height="72" fill="none" stroke="#0a0a0a" stroke-width="1.4"/>
<line x1="274" y1="105.5" x2="274" y2="108.5" stroke="#222" stroke-width="0.7"/>
<line x1="289" y1="105.5" x2="289" y2="108.7" stroke="#222" stroke-width="0.7"/>
<line x1="305.2" y1="105.5" x2="305.2" y2="108.7" stroke="#222" stroke-width="0.7"/>
<line x1="325.4" y1="105.5" x2="325.4" y2="108.7" stroke="#222" stroke-width="0.7"/>
<line x1="343.4" y1="105.5" x2="343.4" y2="108.7" stroke="#222" stroke-width="0.7"/>
<line x1="276.4" y1="105.5" x2="276.4" y2="107.3" stroke="#555" stroke-width="0.5"/>
<line x1="278.4" y1="105.5" x2="278.4" y2="107.3" stroke="#555" stroke-width="0.5"/>
<line x1="280.4" y1="105.5" x2="280.4" y2="107.3" stroke="#555" stroke-width="0.5"/>
<line x1="282.4" y1="105.5" x2="282.4" y2="107.3" stroke="#555" stroke-width="0.5"/>
<line x1="284.4" y1="105.5" x2="284.4" y2="107.3" stroke="#555" stroke-width="0.5"/>
<line x1="286.4" y1="105.5" x2="286.4" y2="107.3" stroke="#555" stroke-width="0.5"/>
<line x1="291.4" y1="105.5" x2="291.4" y2="107.3" stroke="#555" stroke-width="0.5"/>
<line x1="293.9" y1="105.5" x2="293.9" y2="107.3" stroke="#555" stroke-width="0.5"/>
<line x1="296.4" y1="105.5" x2="296.4" y2="107.3" stroke="#555" stroke-width="0.5"/>
<line x1="298.4" y1="105.5" x2="298.4" y2="107.3" stroke="#555" stroke-width="0.5"/>
<line x1="300.4" y1="105.5" x2="300.4" y2="107.3" stroke="#555" stroke-width="0.5"/>
<line x1="302.4" y1="105.5" x2="302.4" y2="107.3" stroke="#555" stroke-width="0.5"/>
<line x1="309.9" y1="105.5" x2="309.9" y2="107.3" stroke="#555" stroke-width="0.5"/>
<line x1="313.4" y1="105.5" x2="313.4" y2="107.3" stroke="#555" stroke-width="0.5"/>
<line x1="316.4" y1="105.5" x2="316.4" y2="107.3" stroke="#555" stroke-width="0.5"/>
<line x1="318.9" y1="105.5" x2="318.9" y2="107.3" stroke="#555" stroke-width="0.5"/>
<line x1="320.9" y1="105.5" x2="320.9" y2="107.3" stroke="#555" stroke-width="0.5"/>
<line x1="322.9" y1="105.5" x2="322.9" y2="107.3" stroke="#555" stroke-width="0.5"/>
<line x1="330.4" y1="105.5" x2="330.4" y2="107.3" stroke="#555" stroke-width="0.5"/>
<line x1="334.4" y1="105.5" x2="334.4" y2="107.3" stroke="#555" stroke-width="0.5"/>
<line x1="337.4" y1="105.5" x2="337.4" y2="107.3" stroke="#555" stroke-width="0.5"/>
<line x1="339.4" y1="105.5" x2="339.4" y2="107.3" stroke="#555" stroke-width="0.5"/>
<line x1="341.4" y1="105.5" x2="341.4" y2="107.3" stroke="#555" stroke-width="0.5"/>
<line x1="346.4" y1="105.5" x2="346.4" y2="107.3" stroke="#555" stroke-width="0.5"/>
<line x1="348.9" y1="105.5" x2="348.9" y2="107.3" stroke="#555" stroke-width="0.5"/>
<line x1="270.8" y1="84.6" x2="273.4" y2="84.6" stroke="#222" stroke-width="1"/>
<line x1="271.9" y1="38" x2="273.4" y2="38" stroke="#888" stroke-width="0.5"/>
<line x1="271.9" y1="44.5" x2="273.4" y2="44.5" stroke="#888" stroke-width="0.5"/>
<line x1="271.9" y1="51" x2="273.4" y2="51" stroke="#888" stroke-width="0.5"/>
<line x1="271.9" y1="57.5" x2="273.4" y2="57.5" stroke="#888" stroke-width="0.5"/>
<line x1="271.9" y1="64" x2="273.4" y2="64" stroke="#888" stroke-width="0.5"/>
<line x1="271.9" y1="95" x2="273.4" y2="95" stroke="#888" stroke-width="0.5"/>
<line x1="271.9" y1="102" x2="273.4" y2="102" stroke="#888" stroke-width="0.5"/>
<text x="289.2" y="113.3" font-size="4.4" text-anchor="middle" fill="#4a4a4a" stroke="#4a4a4a" stroke-width="0.1">0</text>
<text x="305.8" y="113.4" font-size="4.2" text-anchor="middle" fill="#4a4a4a">10<tspan dy="-1.6" font-size="3">3</tspan></text>
<text x="326.4" y="113.4" font-size="4.2" text-anchor="middle" fill="#4a4a4a">10<tspan dy="-1.6" font-size="3">4</tspan></text>
<text x="344.6" y="113.4" font-size="4.2" text-anchor="middle" fill="#4a4a4a">10<tspan dy="-1.6" font-size="3">5</tspan></text>
<text x="274" y="114.9" font-size="3.4" text-anchor="middle" fill="#666">srs</text>
<text x="276.6" y="41.7" font-size="8.6" textLength="10.2" lengthAdjust="spacingAndGlyphs" stroke="#1c1c1c" stroke-width="0.22">8.0</text>
<text x="335" y="41.7" font-size="8.6" textLength="10.2" lengthAdjust="spacingAndGlyphs" stroke="#1c1c1c" stroke-width="0.22">3.0</text>
<text x="277" y="104" font-size="8.6" textLength="13.3" lengthAdjust="spacingAndGlyphs" stroke="#1c1c1c" stroke-width="0.22">82.2</text>
<text x="335.1" y="104" font-size="8.6" textLength="10.2" lengthAdjust="spacingAndGlyphs" stroke="#1c1c1c" stroke-width="0.22">6.8</text>
<line x1="396.1" y1="33.5" x2="396.1" y2="105.5" stroke="#0a0a0a" stroke-width="1.15"/>
<line x1="355.9" y1="68.1" x2="432.2" y2="68.1" stroke="#0a0a0a" stroke-width="1.15"/>
<rect x="355.9" y="33.5" width="76.3" height="72" fill="none" stroke="#0a0a0a" stroke-width="1.4"/>
<line x1="356.5" y1="105.5" x2="356.5" y2="108.5" stroke="#222" stroke-width="0.7"/>
<line x1="371.5" y1="105.5" x2="371.5" y2="108.7" stroke="#222" stroke-width="0.7"/>
<line x1="387.7" y1="105.5" x2="387.7" y2="108.7" stroke="#222" stroke-width="0.7"/>
<line x1="407.9" y1="105.5" x2="407.9" y2="108.7" stroke="#222" stroke-width="0.7"/>
<line x1="425.9" y1="105.5" x2="425.9" y2="108.7" stroke="#222" stroke-width="0.7"/>
<line x1="358.9" y1="105.5" x2="358.9" y2="107.3" stroke="#555" stroke-width="0.5"/>
<line x1="360.9" y1="105.5" x2="360.9" y2="107.3" stroke="#555" stroke-width="0.5"/>
<line x1="362.9" y1="105.5" x2="362.9" y2="107.3" stroke="#555" stroke-width="0.5"/>
<line x1="364.9" y1="105.5" x2="364.9" y2="107.3" stroke="#555" stroke-width="0.5"/>
<line x1="366.9" y1="105.5" x2="366.9" y2="107.3" stroke="#555" stroke-width="0.5"/>
<line x1="368.9" y1="105.5" x2="368.9" y2="107.3" stroke="#555" stroke-width="0.5"/>
<line x1="373.9" y1="105.5" x2="373.9" y2="107.3" stroke="#555" stroke-width="0.5"/>
<line x1="376.4" y1="105.5" x2="376.4" y2="107.3" stroke="#555" stroke-width="0.5"/>
<line x1="378.9" y1="105.5" x2="378.9" y2="107.3" stroke="#555" stroke-width="0.5"/>
<line x1="380.9" y1="105.5" x2="380.9" y2="107.3" stroke="#555" stroke-width="0.5"/>
<line x1="382.9" y1="105.5" x2="382.9" y2="107.3" stroke="#555" stroke-width="0.5"/>
<line x1="384.9" y1="105.5" x2="384.9" y2="107.3" stroke="#555" stroke-width="0.5"/>
<line x1="392.4" y1="105.5" x2="392.4" y2="107.3" stroke="#555" stroke-width="0.5"/>
<line x1="395.9" y1="105.5" x2="395.9" y2="107.3" stroke="#555" stroke-width="0.5"/>
<line x1="398.9" y1="105.5" x2="398.9" y2="107.3" stroke="#555" stroke-width="0.5"/>
<line x1="401.4" y1="105.5" x2="401.4" y2="107.3" stroke="#555" stroke-width="0.5"/>
<line x1="403.4" y1="105.5" x2="403.4" y2="107.3" stroke="#555" stroke-width="0.5"/>
<line x1="405.4" y1="105.5" x2="405.4" y2="107.3" stroke="#555" stroke-width="0.5"/>
<line x1="412.9" y1="105.5" x2="412.9" y2="107.3" stroke="#555" stroke-width="0.5"/>
<line x1="416.9" y1="105.5" x2="416.9" y2="107.3" stroke="#555" stroke-width="0.5"/>
<line x1="419.9" y1="105.5" x2="419.9" y2="107.3" stroke="#555" stroke-width="0.5"/>
<line x1="421.9" y1="105.5" x2="421.9" y2="107.3" stroke="#555" stroke-width="0.5"/>
<line x1="423.9" y1="105.5" x2="423.9" y2="107.3" stroke="#555" stroke-width="0.5"/>
<line x1="428.9" y1="105.5" x2="428.9" y2="107.3" stroke="#555" stroke-width="0.5"/>
<line x1="431.4" y1="105.5" x2="431.4" y2="107.3" stroke="#555" stroke-width="0.5"/>
<line x1="353.3" y1="84.6" x2="355.9" y2="84.6" stroke="#222" stroke-width="1"/>
<line x1="354.4" y1="38" x2="355.9" y2="38" stroke="#888" stroke-width="0.5"/>
<line x1="354.4" y1="44.5" x2="355.9" y2="44.5" stroke="#888" stroke-width="0.5"/>
<line x1="354.4" y1="51" x2="355.9" y2="51" stroke="#888" stroke-width="0.5"/>
<line x1="354.4" y1="57.5" x2="355.9" y2="57.5" stroke="#888" stroke-width="0.5"/>
<line x1="354.4" y1="64" x2="355.9" y2="64" stroke="#888" stroke-width="0.5"/>
<line x1="354.4" y1="95" x2="355.9" y2="95" stroke="#888" stroke-width="0.5"/>
<line x1="354.4" y1="102" x2="355.9" y2="102" stroke="#888" stroke-width="0.5"/>
<text x="371.7" y="113.3" font-size="4.4" text-anchor="middle" fill="#4a4a4a" stroke="#4a4a4a" stroke-width="0.1">0</text>
<text x="388.3" y="113.4" font-size="4.2" text-anchor="middle" fill="#4a4a4a">10<tspan dy="-1.6" font-size="3">3</tspan></text>
<text x="408.9" y="113.4" font-size="4.2" text-anchor="middle" fill="#4a4a4a">10<tspan dy="-1.6" font-size="3">4</tspan></text>
<text x="427.1" y="113.4" font-size="4.2" text-anchor="middle" fill="#4a4a4a">10<tspan dy="-1.6" font-size="3">5</tspan></text>
<text x="356.5" y="114.9" font-size="3.4" text-anchor="middle" fill="#666">srs</text>
<text x="359.1" y="41.7" font-size="8.6" textLength="10.2" lengthAdjust="spacingAndGlyphs" stroke="#1c1c1c" stroke-width="0.22">3.8</text>
<text x="414.4" y="41.7" font-size="8.6" textLength="13.3" lengthAdjust="spacingAndGlyphs" stroke="#1c1c1c" stroke-width="0.22">26.1</text>
<text x="359.5" y="104" font-size="8.6" textLength="13.3" lengthAdjust="spacingAndGlyphs" stroke="#1c1c1c" stroke-width="0.22">32.6</text>
<text x="414.5" y="104" font-size="8.6" textLength="13.3" lengthAdjust="spacingAndGlyphs" stroke="#1c1c1c" stroke-width="0.22">38.4</text>
<line x1="478.6" y1="33.5" x2="478.6" y2="105.5" stroke="#0a0a0a" stroke-width="1.15"/>
<line x1="438.6" y1="68.1" x2="515.2" y2="68.1" stroke="#0a0a0a" stroke-width="1.15"/>
<rect x="438.6" y="33.5" width="76.6" height="72" fill="none" stroke="#0a0a0a" stroke-width="1.4"/>
<line x1="439.2" y1="105.5" x2="439.2" y2="108.5" stroke="#222" stroke-width="0.7"/>
<line x1="454.2" y1="105.5" x2="454.2" y2="108.7" stroke="#222" stroke-width="0.7"/>
<line x1="470.4" y1="105.5" x2="470.4" y2="108.7" stroke="#222" stroke-width="0.7"/>
<line x1="490.6" y1="105.5" x2="490.6" y2="108.7" stroke="#222" stroke-width="0.7"/>
<line x1="508.6" y1="105.5" x2="508.6" y2="108.7" stroke="#222" stroke-width="0.7"/>
<line x1="441.6" y1="105.5" x2="441.6" y2="107.3" stroke="#555" stroke-width="0.5"/>
<line x1="443.6" y1="105.5" x2="443.6" y2="107.3" stroke="#555" stroke-width="0.5"/>
<line x1="445.6" y1="105.5" x2="445.6" y2="107.3" stroke="#555" stroke-width="0.5"/>
<line x1="447.6" y1="105.5" x2="447.6" y2="107.3" stroke="#555" stroke-width="0.5"/>
<line x1="449.6" y1="105.5" x2="449.6" y2="107.3" stroke="#555" stroke-width="0.5"/>
<line x1="451.6" y1="105.5" x2="451.6" y2="107.3" stroke="#555" stroke-width="0.5"/>
<line x1="456.6" y1="105.5" x2="456.6" y2="107.3" stroke="#555" stroke-width="0.5"/>
<line x1="459.1" y1="105.5" x2="459.1" y2="107.3" stroke="#555" stroke-width="0.5"/>
<line x1="461.6" y1="105.5" x2="461.6" y2="107.3" stroke="#555" stroke-width="0.5"/>
<line x1="463.6" y1="105.5" x2="463.6" y2="107.3" stroke="#555" stroke-width="0.5"/>
<line x1="465.6" y1="105.5" x2="465.6" y2="107.3" stroke="#555" stroke-width="0.5"/>
<line x1="467.6" y1="105.5" x2="467.6" y2="107.3" stroke="#555" stroke-width="0.5"/>
<line x1="475.1" y1="105.5" x2="475.1" y2="107.3" stroke="#555" stroke-width="0.5"/>
<line x1="478.6" y1="105.5" x2="478.6" y2="107.3" stroke="#555" stroke-width="0.5"/>
<line x1="481.6" y1="105.5" x2="481.6" y2="107.3" stroke="#555" stroke-width="0.5"/>
<line x1="484.1" y1="105.5" x2="484.1" y2="107.3" stroke="#555" stroke-width="0.5"/>
<line x1="486.1" y1="105.5" x2="486.1" y2="107.3" stroke="#555" stroke-width="0.5"/>
<line x1="488.1" y1="105.5" x2="488.1" y2="107.3" stroke="#555" stroke-width="0.5"/>
<line x1="495.6" y1="105.5" x2="495.6" y2="107.3" stroke="#555" stroke-width="0.5"/>
<line x1="499.6" y1="105.5" x2="499.6" y2="107.3" stroke="#555" stroke-width="0.5"/>
<line x1="502.6" y1="105.5" x2="502.6" y2="107.3" stroke="#555" stroke-width="0.5"/>
<line x1="504.6" y1="105.5" x2="504.6" y2="107.3" stroke="#555" stroke-width="0.5"/>
<line x1="506.6" y1="105.5" x2="506.6" y2="107.3" stroke="#555" stroke-width="0.5"/>
<line x1="511.6" y1="105.5" x2="511.6" y2="107.3" stroke="#555" stroke-width="0.5"/>
<line x1="514.1" y1="105.5" x2="514.1" y2="107.3" stroke="#555" stroke-width="0.5"/>
<line x1="436" y1="84.6" x2="438.6" y2="84.6" stroke="#222" stroke-width="1"/>
<line x1="437.1" y1="38" x2="438.6" y2="38" stroke="#888" stroke-width="0.5"/>
<line x1="437.1" y1="44.5" x2="438.6" y2="44.5" stroke="#888" stroke-width="0.5"/>
<line x1="437.1" y1="51" x2="438.6" y2="51" stroke="#888" stroke-width="0.5"/>
<line x1="437.1" y1="57.5" x2="438.6" y2="57.5" stroke="#888" stroke-width="0.5"/>
<line x1="437.1" y1="64" x2="438.6" y2="64" stroke="#888" stroke-width="0.5"/>
<line x1="437.1" y1="95" x2="438.6" y2="95" stroke="#888" stroke-width="0.5"/>
<line x1="437.1" y1="102" x2="438.6" y2="102" stroke="#888" stroke-width="0.5"/>
<text x="454.4" y="113.3" font-size="4.4" text-anchor="middle" fill="#4a4a4a" stroke="#4a4a4a" stroke-width="0.1">0</text>
<text x="471" y="113.4" font-size="4.2" text-anchor="middle" fill="#4a4a4a">10<tspan dy="-1.6" font-size="3">3</tspan></text>
<text x="491.6" y="113.4" font-size="4.2" text-anchor="middle" fill="#4a4a4a">10<tspan dy="-1.6" font-size="3">4</tspan></text>
<text x="509.8" y="113.4" font-size="4.2" text-anchor="middle" fill="#4a4a4a">10<tspan dy="-1.6" font-size="3">5</tspan></text>
<text x="439.2" y="114.9" font-size="3.4" text-anchor="middle" fill="#666">srs</text>
<text x="441.8" y="41.7" font-size="8.6" textLength="10.2" lengthAdjust="spacingAndGlyphs" stroke="#1c1c1c" stroke-width="0.22">4.3</text>
<text x="500.5" y="41.7" font-size="8.6" textLength="10.2" lengthAdjust="spacingAndGlyphs" stroke="#1c1c1c" stroke-width="0.22">4.1</text>
<text x="442.2" y="104" font-size="8.6" textLength="13.3" lengthAdjust="spacingAndGlyphs" stroke="#1c1c1c" stroke-width="0.22">53.0</text>
<text x="497.5" y="104" font-size="8.6" textLength="13.3" lengthAdjust="spacingAndGlyphs" stroke="#1c1c1c" stroke-width="0.22">39.3</text>
<line x1="13" y1="116.4" x2="13" y2="54.5" stroke="#000" stroke-width="1.2"/>
<path d="M13 49.4L10.5 55.6L15.5 55.6Z" fill="#000"/>
<line x1="12.4" y1="116.4" x2="82" y2="116.4" stroke="#000" stroke-width="1.2"/>
<path d="M87.8 116.4L81.4 113.9L81.4 118.9Z" fill="#000"/>
<text x="7.6" y="106.9" font-size="8.3" textLength="41.4" lengthAdjust="spacingAndGlyphs" stroke="#1c1c1c" stroke-width="0.22" transform="rotate(-90 7.6 106.9)">CD45RO-PE</text>
<text x="24.7" y="126.7" font-size="8.8" textLength="46.8" lengthAdjust="spacingAndGlyphs" stroke="#1c1c1c" stroke-width="0.22">CD45RB-FITC</text>
<text x="1.1" y="155" font-size="12.2" textLength="8.3" lengthAdjust="spacingAndGlyphs" font-weight="bold" fill="#000" stroke="#000" stroke-width="0.22">B</text>
<line x1="100.4" y1="170.4" x2="190" y2="170.4" stroke="#f1f1f1" stroke-width="0.6"/>
<line x1="100.4" y1="184.7" x2="190" y2="184.7" stroke="#f1f1f1" stroke-width="0.6"/>
<line x1="100.4" y1="199.2" x2="190" y2="199.2" stroke="#f1f1f1" stroke-width="0.6"/>
<line x1="100.4" y1="213.5" x2="190" y2="213.5" stroke="#f1f1f1" stroke-width="0.6"/>
<line x1="100.4" y1="227.6" x2="190" y2="227.6" stroke="#f1f1f1" stroke-width="0.6"/>
<line x1="100.4" y1="169.9" x2="100.4" y2="242.2" stroke="#cfcfcf" stroke-width="0.7"/>
<line x1="98.8" y1="242.2" x2="190" y2="242.2" stroke="#cfcfcf" stroke-width="0.7"/>
<line x1="101.95" y1="242.2" x2="101.95" y2="243.7" stroke="#cfcfcf" stroke-width="0.6"/>
<line x1="153.25" y1="242.2" x2="153.25" y2="243.7" stroke="#cfcfcf" stroke-width="0.6"/>
<line x1="192.55" y1="242.2" x2="192.55" y2="243.7" stroke="#cfcfcf" stroke-width="0.6"/>
<line x1="98.8" y1="170.4" x2="100.4" y2="170.4" stroke="#cfcfcf" stroke-width="0.6"/>
<text x="96.2" y="172.9" font-size="7" textLength="11.58" lengthAdjust="spacingAndGlyphs" text-anchor="end" fill="#222" stroke="#222" stroke-width="0.12">750</text>
<line x1="98.8" y1="184.7" x2="100.4" y2="184.7" stroke="#cfcfcf" stroke-width="0.6"/>
<text x="96.2" y="187.2" font-size="7" textLength="11.58" lengthAdjust="spacingAndGlyphs" text-anchor="end" fill="#222" stroke="#222" stroke-width="0.12">600</text>
<line x1="98.8" y1="199.2" x2="100.4" y2="199.2" stroke="#cfcfcf" stroke-width="0.6"/>
<text x="96.2" y="201.7" font-size="7" textLength="11.58" lengthAdjust="spacingAndGlyphs" text-anchor="end" fill="#222" stroke="#222" stroke-width="0.12">450</text>
<line x1="98.8" y1="213.5" x2="100.4" y2="213.5" stroke="#cfcfcf" stroke-width="0.6"/>
<text x="96.2" y="216" font-size="7" textLength="11.58" lengthAdjust="spacingAndGlyphs" text-anchor="end" fill="#222" stroke="#222" stroke-width="0.12">300</text>
<line x1="98.8" y1="227.6" x2="100.4" y2="227.6" stroke="#cfcfcf" stroke-width="0.6"/>
<text x="96.2" y="230.1" font-size="7" textLength="11.58" lengthAdjust="spacingAndGlyphs" text-anchor="end" fill="#222" stroke="#222" stroke-width="0.12">150</text>
<line x1="98.8" y1="242.2" x2="100.4" y2="242.2" stroke="#cfcfcf" stroke-width="0.6"/>
<text x="96.2" y="244.7" font-size="7" textLength="3.86" lengthAdjust="spacingAndGlyphs" text-anchor="end" fill="#222" stroke="#222" stroke-width="0.12">0</text>
<line x1="131" y1="212.4" x2="176" y2="223.5" stroke="#141414" stroke-width="1.5" stroke-dasharray="2.6 3.4"/>
<line x1="127.6" y1="174.5" x2="178.9" y2="224.6" stroke="#141414" stroke-width="1.6"/>
<line x1="127.6" y1="190" x2="178.9" y2="224" stroke="#141414" stroke-width="1.6"/>
<line x1="127.6" y1="211.2" x2="178.9" y2="217.7" stroke="#141414" stroke-width="1.6"/>
<line x1="127.6" y1="213.8" x2="178.9" y2="228.5" stroke="#141414" stroke-width="1.6"/>
<path d="M127.6 172L129.9 176.3L125.3 176.3Z" fill="#fff" stroke="#141414" stroke-width="0.8"/>
<path d="M178.9 222.1L181.2 226.4L176.6 226.4Z" fill="#fff" stroke="#141414" stroke-width="0.8"/>
<circle cx="127.6" cy="190" r="2.1" fill="#141414"/>
<circle cx="178.9" cy="224" r="2.1" fill="#141414"/>
<path d="M125.3 211.2h4.6M127.6 208.9v4.6" stroke="#141414" stroke-width="0.8" fill="none"/>
<path d="M176.6 217.7h4.6M178.9 215.4v4.6" stroke="#141414" stroke-width="0.8" fill="none"/>
<rect x="125.6" y="211.8" width="4" height="4" fill="#fff" stroke="#141414" stroke-width="0.85"/>
<rect x="176.9" y="226.5" width="4" height="4" fill="#fff" stroke="#141414" stroke-width="0.85"/>
<text x="134.5" y="155.4" font-size="11.3" textLength="22.5" lengthAdjust="spacingAndGlyphs" stroke="#1c1c1c" stroke-width="0.22">CD77</text>
<line x1="134.2" y1="156.8" x2="157.3" y2="156.8" stroke="#222" stroke-width="0.8"/>
<text x="127.8" y="254.4" font-size="6.5" textLength="11.6" lengthAdjust="spacingAndGlyphs" text-anchor="middle" fill="#222" stroke="#222" stroke-width="0.22">RB-</text>
<text x="179.5" y="254.4" font-size="6.5" textLength="12.4" lengthAdjust="spacingAndGlyphs" text-anchor="middle" fill="#222" stroke="#222" stroke-width="0.22">RB+</text>
<line x1="215" y1="163" x2="300.5" y2="163" stroke="#f1f1f1" stroke-width="0.6"/>
<line x1="215" y1="173.8" x2="300.5" y2="173.8" stroke="#f1f1f1" stroke-width="0.6"/>
<line x1="215" y1="184.2" x2="300.5" y2="184.2" stroke="#f1f1f1" stroke-width="0.6"/>
<line x1="215" y1="194.2" x2="300.5" y2="194.2" stroke="#f1f1f1" stroke-width="0.6"/>
<line x1="215" y1="205" x2="300.5" y2="205" stroke="#f1f1f1" stroke-width="0.6"/>
<line x1="215" y1="213.8" x2="300.5" y2="213.8" stroke="#f1f1f1" stroke-width="0.6"/>
<line x1="215" y1="223" x2="300.5" y2="223" stroke="#f1f1f1" stroke-width="0.6"/>
<line x1="215" y1="232.7" x2="300.5" y2="232.7" stroke="#f1f1f1" stroke-width="0.6"/>
<line x1="215" y1="162.5" x2="215" y2="242" stroke="#cfcfcf" stroke-width="0.7"/>
<line x1="213.4" y1="242" x2="300.5" y2="242" stroke="#cfcfcf" stroke-width="0.7"/>
<line x1="214.95" y1="242" x2="214.95" y2="243.5" stroke="#cfcfcf" stroke-width="0.6"/>
<line x1="263.45" y1="242" x2="263.45" y2="243.5" stroke="#cfcfcf" stroke-width="0.6"/>
<line x1="299.95" y1="242" x2="299.95" y2="243.5" stroke="#cfcfcf" stroke-width="0.6"/>
<line x1="213.4" y1="163" x2="215" y2="163" stroke="#cfcfcf" stroke-width="0.6"/>
<text x="209.4" y="165.5" font-size="7" textLength="19.3" lengthAdjust="spacingAndGlyphs" text-anchor="end" fill="#222" stroke="#222" stroke-width="0.12">21000</text>
<line x1="213.4" y1="173.8" x2="215" y2="173.8" stroke="#cfcfcf" stroke-width="0.6"/>
<text x="209.4" y="176.3" font-size="7" textLength="19.3" lengthAdjust="spacingAndGlyphs" text-anchor="end" fill="#222" stroke="#222" stroke-width="0.12">16000</text>
<line x1="213.4" y1="184.2" x2="215" y2="184.2" stroke="#cfcfcf" stroke-width="0.6"/>
<text x="209.4" y="186.7" font-size="7" textLength="19.3" lengthAdjust="spacingAndGlyphs" text-anchor="end" fill="#222" stroke="#222" stroke-width="0.12">11000</text>
<line x1="213.4" y1="194.2" x2="215" y2="194.2" stroke="#cfcfcf" stroke-width="0.6"/>
<text x="209.4" y="196.7" font-size="7" textLength="15.44" lengthAdjust="spacingAndGlyphs" text-anchor="end" fill="#222" stroke="#222" stroke-width="0.12">6000</text>
<line x1="213.4" y1="205" x2="215" y2="205" stroke="#cfcfcf" stroke-width="0.6"/>
<text x="209.4" y="207.5" font-size="7" textLength="15.44" lengthAdjust="spacingAndGlyphs" text-anchor="end" fill="#222" stroke="#222" stroke-width="0.12">3200</text>
<line x1="213.4" y1="213.8" x2="215" y2="213.8" stroke="#cfcfcf" stroke-width="0.6"/>
<text x="209.4" y="216.3" font-size="7" textLength="15.44" lengthAdjust="spacingAndGlyphs" text-anchor="end" fill="#222" stroke="#222" stroke-width="0.12">2500</text>
<line x1="213.4" y1="223" x2="215" y2="223" stroke="#cfcfcf" stroke-width="0.6"/>
<text x="209.4" y="225.5" font-size="7" textLength="15.44" lengthAdjust="spacingAndGlyphs" text-anchor="end" fill="#222" stroke="#222" stroke-width="0.12">1800</text>
<line x1="213.4" y1="232.7" x2="215" y2="232.7" stroke="#cfcfcf" stroke-width="0.6"/>
<text x="209.4" y="235.2" font-size="7" textLength="15.44" lengthAdjust="spacingAndGlyphs" text-anchor="end" fill="#222" stroke="#222" stroke-width="0.12">1100</text>
<line x1="213.4" y1="242" x2="215" y2="242" stroke="#cfcfcf" stroke-width="0.6"/>
<text x="209.4" y="244.5" font-size="7" textLength="11.58" lengthAdjust="spacingAndGlyphs" text-anchor="end" fill="#222" stroke="#222" stroke-width="0.12">400</text>
<path d="M-0.3 -5.6L0.2 -3.3L2.3 -1.9L-2.1 -0.7L2.3 0.7L-2.1 1.9L0 3L0.2 5.6" transform="translate(214.6 200.2)" fill="none" stroke="#333" stroke-width="0.7"/>
<line x1="243" y1="191.2" x2="286" y2="182" stroke="#141414" stroke-width="1.5" stroke-dasharray="2.6 3.4"/>
<line x1="239.2" y1="191.2" x2="287.7" y2="165.3" stroke="#141414" stroke-width="1.6"/>
<line x1="239.2" y1="229.2" x2="287.7" y2="206.9" stroke="#141414" stroke-width="1.6"/>
<line x1="239.2" y1="238.5" x2="287.7" y2="218.9" stroke="#141414" stroke-width="1.6"/>
<line x1="239.2" y1="233.9" x2="287.7" y2="227.4" stroke="#141414" stroke-width="1.6"/>
<path d="M236.9 191.2h4.6M239.2 188.9v4.6" stroke="#141414" stroke-width="0.8" fill="none"/>
<path d="M285.4 165.3h4.6M287.7 163v4.6" stroke="#141414" stroke-width="0.8" fill="none"/>
<path d="M239.2 226.7L241.5 231L236.9 231Z" fill="#fff" stroke="#141414" stroke-width="0.8"/>
<path d="M287.7 204.4L290 208.7L285.4 208.7Z" fill="#fff" stroke="#141414" stroke-width="0.8"/>
<circle cx="239.2" cy="238.5" r="2.1" fill="#141414"/>
<circle cx="287.7" cy="218.9" r="2.1" fill="#141414"/>
<rect x="237.2" y="231.9" width="4" height="4" fill="#fff" stroke="#141414" stroke-width="0.85"/>
<rect x="285.7" y="225.4" width="4" height="4" fill="#fff" stroke="#141414" stroke-width="0.85"/>
<text x="250.3" y="155.4" font-size="11.3" textLength="15" lengthAdjust="spacingAndGlyphs" stroke="#1c1c1c" stroke-width="0.22">IgM</text>
<line x1="250" y1="156.8" x2="265.6" y2="156.8" stroke="#222" stroke-width="0.8"/>
<text x="239.4" y="254.4" font-size="6.5" textLength="11.6" lengthAdjust="spacingAndGlyphs" text-anchor="middle" fill="#222" stroke="#222" stroke-width="0.22">RB-</text>
<text x="288.3" y="254.4" font-size="6.5" textLength="12.4" lengthAdjust="spacingAndGlyphs" text-anchor="middle" fill="#222" stroke="#222" stroke-width="0.22">RB+</text>
<line x1="321.3" y1="168.5" x2="410.5" y2="168.5" stroke="#f1f1f1" stroke-width="0.6"/>
<line x1="321.3" y1="181.5" x2="410.5" y2="181.5" stroke="#f1f1f1" stroke-width="0.6"/>
<line x1="321.3" y1="194" x2="410.5" y2="194" stroke="#f1f1f1" stroke-width="0.6"/>
<line x1="321.3" y1="205" x2="410.5" y2="205" stroke="#f1f1f1" stroke-width="0.6"/>
<line x1="321.3" y1="223.5" x2="410.5" y2="223.5" stroke="#f1f1f1" stroke-width="0.6"/>
<line x1="321.3" y1="168" x2="321.3" y2="242" stroke="#cfcfcf" stroke-width="0.7"/>
<line x1="319.7" y1="242" x2="410.5" y2="242" stroke="#cfcfcf" stroke-width="0.7"/>
<line x1="321.9" y1="242" x2="321.9" y2="243.5" stroke="#cfcfcf" stroke-width="0.6"/>
<line x1="372.1" y1="242" x2="372.1" y2="243.5" stroke="#cfcfcf" stroke-width="0.6"/>
<line x1="410.3" y1="242" x2="410.3" y2="243.5" stroke="#cfcfcf" stroke-width="0.6"/>
<line x1="319.7" y1="168.5" x2="321.3" y2="168.5" stroke="#cfcfcf" stroke-width="0.6"/>
<text x="316.4" y="171" font-size="7" textLength="15.44" lengthAdjust="spacingAndGlyphs" text-anchor="end" fill="#222" stroke="#222" stroke-width="0.12">3300</text>
<line x1="319.7" y1="181.5" x2="321.3" y2="181.5" stroke="#cfcfcf" stroke-width="0.6"/>
<text x="316.4" y="184" font-size="7" textLength="15.44" lengthAdjust="spacingAndGlyphs" text-anchor="end" fill="#222" stroke="#222" stroke-width="0.12">2000</text>
<line x1="319.7" y1="194" x2="321.3" y2="194" stroke="#cfcfcf" stroke-width="0.6"/>
<text x="316.4" y="196.5" font-size="7" textLength="11.58" lengthAdjust="spacingAndGlyphs" text-anchor="end" fill="#222" stroke="#222" stroke-width="0.12">700</text>
<line x1="319.7" y1="205" x2="321.3" y2="205" stroke="#cfcfcf" stroke-width="0.6"/>
<text x="316.4" y="207.5" font-size="7" textLength="11.58" lengthAdjust="spacingAndGlyphs" text-anchor="end" fill="#222" stroke="#222" stroke-width="0.12">400</text>
<line x1="319.7" y1="223.5" x2="321.3" y2="223.5" stroke="#cfcfcf" stroke-width="0.6"/>
<text x="316.4" y="226" font-size="7" textLength="11.58" lengthAdjust="spacingAndGlyphs" text-anchor="end" fill="#222" stroke="#222" stroke-width="0.12">200</text>
<line x1="319.7" y1="242" x2="321.3" y2="242" stroke="#cfcfcf" stroke-width="0.6"/>
<text x="316.4" y="244.5" font-size="7" textLength="3.86" lengthAdjust="spacingAndGlyphs" text-anchor="end" fill="#222" stroke="#222" stroke-width="0.12">0</text>
<path d="M-0.3 -5.6L0.2 -3.3L2.3 -1.9L-2.1 -0.7L2.3 0.7L-2.1 1.9L0 3L0.2 5.6" transform="translate(321.2 199.3)" fill="none" stroke="#333" stroke-width="0.7"/>
<line x1="347" y1="233.9" x2="397.2" y2="233.4" stroke="#141414" stroke-width="1.6"/>
<line x1="355" y1="232.6" x2="393" y2="232.2" stroke="#141414" stroke-width="1.8" stroke-dasharray="2.6 5.2"/>
<line x1="347" y1="187.7" x2="397.2" y2="164.6" stroke="#141414" stroke-width="1.6"/>
<line x1="347" y1="193.5" x2="397.2" y2="192.8" stroke="#141414" stroke-width="1.6"/>
<line x1="347" y1="221.2" x2="397.2" y2="205" stroke="#141414" stroke-width="0.8"/>
<path d="M344.7 233.9h4.6M347 231.6v4.6" stroke="#141414" stroke-width="0.8" fill="none"/>
<path d="M394.9 233.4h4.6M397.2 231.1v4.6" stroke="#141414" stroke-width="0.8" fill="none"/>
<path d="M347 185.2L349.3 189.5L344.7 189.5Z" fill="#fff" stroke="#141414" stroke-width="0.8"/>
<path d="M397.2 162.1L399.5 166.4L394.9 166.4Z" fill="#fff" stroke="#141414" stroke-width="0.8"/>
<rect x="345" y="191.5" width="4" height="4" fill="#fff" stroke="#141414" stroke-width="0.85"/>
<rect x="395.2" y="190.8" width="4" height="4" fill="#fff" stroke="#141414" stroke-width="0.85"/>
<circle cx="347" cy="221.2" r="2.1" fill="#141414"/>
<circle cx="397.2" cy="205" r="2.1" fill="#141414"/>
<text x="353.8" y="155.4" font-size="11.3" textLength="23.2" lengthAdjust="spacingAndGlyphs" stroke="#1c1c1c" stroke-width="0.22">CD27</text>
<line x1="353.5" y1="156.8" x2="377.3" y2="156.8" stroke="#222" stroke-width="0.8"/>
<text x="347.2" y="254.4" font-size="6.5" textLength="11.6" lengthAdjust="spacingAndGlyphs" text-anchor="middle" fill="#222" stroke="#222" stroke-width="0.22">RB-</text>
<text x="397.8" y="254.4" font-size="6.5" textLength="12.4" lengthAdjust="spacingAndGlyphs" text-anchor="middle" fill="#222" stroke="#222" stroke-width="0.22">RB+</text>
<line x1="434.6" y1="168" x2="520" y2="168" stroke="#f1f1f1" stroke-width="0.6"/>
<line x1="434.6" y1="180.8" x2="520" y2="180.8" stroke="#f1f1f1" stroke-width="0.6"/>
<line x1="434.6" y1="194" x2="520" y2="194" stroke="#f1f1f1" stroke-width="0.6"/>
<line x1="434.6" y1="204.5" x2="520" y2="204.5" stroke="#f1f1f1" stroke-width="0.6"/>
<line x1="434.6" y1="213.8" x2="520" y2="213.8" stroke="#f1f1f1" stroke-width="0.6"/>
<line x1="434.6" y1="223" x2="520" y2="223" stroke="#f1f1f1" stroke-width="0.6"/>
<line x1="434.6" y1="232.7" x2="520" y2="232.7" stroke="#f1f1f1" stroke-width="0.6"/>
<line x1="434.6" y1="167.5" x2="434.6" y2="242" stroke="#cfcfcf" stroke-width="0.7"/>
<line x1="433" y1="242" x2="520" y2="242" stroke="#cfcfcf" stroke-width="0.7"/>
<line x1="433.7" y1="242" x2="433.7" y2="243.5" stroke="#cfcfcf" stroke-width="0.6"/>
<line x1="481.7" y1="242" x2="481.7" y2="243.5" stroke="#cfcfcf" stroke-width="0.6"/>
<line x1="517.7" y1="242" x2="517.7" y2="243.5" stroke="#cfcfcf" stroke-width="0.6"/>
<line x1="433" y1="168" x2="434.6" y2="168" stroke="#cfcfcf" stroke-width="0.6"/>
<text x="429" y="170.5" font-size="7" textLength="19.3" lengthAdjust="spacingAndGlyphs" text-anchor="end" fill="#222" stroke="#222" stroke-width="0.12">30000</text>
<line x1="433" y1="180.8" x2="434.6" y2="180.8" stroke="#cfcfcf" stroke-width="0.6"/>
<text x="429" y="183.3" font-size="7" textLength="19.3" lengthAdjust="spacingAndGlyphs" text-anchor="end" fill="#222" stroke="#222" stroke-width="0.12">20000</text>
<line x1="433" y1="194" x2="434.6" y2="194" stroke="#cfcfcf" stroke-width="0.6"/>
<text x="429" y="196.5" font-size="7" textLength="19.3" lengthAdjust="spacingAndGlyphs" text-anchor="end" fill="#222" stroke="#222" stroke-width="0.12">10000</text>
<line x1="433" y1="204.5" x2="434.6" y2="204.5" stroke="#cfcfcf" stroke-width="0.6"/>
<text x="429" y="207" font-size="7" textLength="19.3" lengthAdjust="spacingAndGlyphs" text-anchor="end" fill="#222" stroke="#222" stroke-width="0.12">10000</text>
<line x1="433" y1="213.8" x2="434.6" y2="213.8" stroke="#cfcfcf" stroke-width="0.6"/>
<text x="429" y="216.3" font-size="7" textLength="15.44" lengthAdjust="spacingAndGlyphs" text-anchor="end" fill="#222" stroke="#222" stroke-width="0.12">8250</text>
<line x1="433" y1="223" x2="434.6" y2="223" stroke="#cfcfcf" stroke-width="0.6"/>
<text x="429" y="225.5" font-size="7" textLength="15.44" lengthAdjust="spacingAndGlyphs" text-anchor="end" fill="#222" stroke="#222" stroke-width="0.12">6500</text>
<line x1="433" y1="232.7" x2="434.6" y2="232.7" stroke="#cfcfcf" stroke-width="0.6"/>
<text x="429" y="235.2" font-size="7" textLength="15.44" lengthAdjust="spacingAndGlyphs" text-anchor="end" fill="#222" stroke="#222" stroke-width="0.12">4750</text>
<line x1="433" y1="242" x2="434.6" y2="242" stroke="#cfcfcf" stroke-width="0.6"/>
<text x="429" y="244.5" font-size="7" textLength="15.44" lengthAdjust="spacingAndGlyphs" text-anchor="end" fill="#222" stroke="#222" stroke-width="0.12">3000</text>
<path d="M-0.3 -5.6L0.2 -3.3L2.3 -1.9L-2.1 -0.7L2.3 0.7L-2.1 1.9L0 3L0.2 5.6" transform="translate(434.6 200)" fill="none" stroke="#333" stroke-width="0.7"/>
<line x1="467" y1="220.6" x2="502" y2="220.6" stroke="#141414" stroke-width="1.5" stroke-dasharray="2.8 4.6"/>
<line x1="457.7" y1="192.8" x2="505.7" y2="169.2" stroke="#141414" stroke-width="1.6"/>
<line x1="457.7" y1="219.3" x2="505.7" y2="209.6" stroke="#141414" stroke-width="1.6"/>
<line x1="457.7" y1="230" x2="505.7" y2="226.5" stroke="#141414" stroke-width="1.6"/>
<line x1="457.7" y1="234.5" x2="505.7" y2="239" stroke="#141414" stroke-width="1.6"/>
<path d="M455.4 192.8h4.6M457.7 190.5v4.6" stroke="#141414" stroke-width="0.8" fill="none"/>
<path d="M503.4 169.2h4.6M505.7 166.9v4.6" stroke="#141414" stroke-width="0.8" fill="none"/>
<rect x="455.7" y="217.3" width="4" height="4" fill="#fff" stroke="#141414" stroke-width="0.85"/>
<rect x="503.7" y="207.6" width="4" height="4" fill="#fff" stroke="#141414" stroke-width="0.85"/>
<circle cx="457.7" cy="230" r="2.1" fill="#141414"/>
<circle cx="505.7" cy="226.5" r="2.1" fill="#141414"/>
<rect x="455.7" y="232.5" width="4" height="4" fill="#fff" stroke="#141414" stroke-width="0.85"/>
<rect x="503.7" y="237" width="4" height="4" fill="#fff" stroke="#141414" stroke-width="0.85"/>
<text x="467" y="155.4" font-size="11.3" textLength="23" lengthAdjust="spacingAndGlyphs" stroke="#1c1c1c" stroke-width="0.22">CD25</text>
<line x1="466.7" y1="156.8" x2="490.3" y2="156.8" stroke="#222" stroke-width="0.8"/>
<text x="457.9" y="254.4" font-size="6.5" textLength="11.6" lengthAdjust="spacingAndGlyphs" text-anchor="middle" fill="#222" stroke="#222" stroke-width="0.22">RB-</text>
<text x="506.3" y="254.4" font-size="6.5" textLength="12.4" lengthAdjust="spacingAndGlyphs" text-anchor="middle" fill="#222" stroke="#222" stroke-width="0.22">RB+</text>
<line x1="102" y1="288.6" x2="190" y2="288.6" stroke="#f1f1f1" stroke-width="0.6"/>
<line x1="102" y1="306.4" x2="190" y2="306.4" stroke="#f1f1f1" stroke-width="0.6"/>
<line x1="102" y1="324.2" x2="190" y2="324.2" stroke="#f1f1f1" stroke-width="0.6"/>
<line x1="102" y1="342.2" x2="190" y2="342.2" stroke="#f1f1f1" stroke-width="0.6"/>
<line x1="102" y1="288.1" x2="102" y2="359.8" stroke="#cfcfcf" stroke-width="0.7"/>
<line x1="100.4" y1="359.8" x2="190" y2="359.8" stroke="#cfcfcf" stroke-width="0.7"/>
<line x1="102.2" y1="359.8" x2="102.2" y2="361.3" stroke="#cfcfcf" stroke-width="0.6"/>
<line x1="151.8" y1="359.8" x2="151.8" y2="361.3" stroke="#cfcfcf" stroke-width="0.6"/>
<line x1="189.4" y1="359.8" x2="189.4" y2="361.3" stroke="#cfcfcf" stroke-width="0.6"/>
<line x1="100.4" y1="288.6" x2="102" y2="288.6" stroke="#cfcfcf" stroke-width="0.6"/>
<text x="96.4" y="291.1" font-size="7" textLength="15.44" lengthAdjust="spacingAndGlyphs" text-anchor="end" fill="#222" stroke="#222" stroke-width="0.12">4000</text>
<line x1="100.4" y1="306.4" x2="102" y2="306.4" stroke="#cfcfcf" stroke-width="0.6"/>
<text x="96.4" y="308.9" font-size="7" textLength="15.44" lengthAdjust="spacingAndGlyphs" text-anchor="end" fill="#222" stroke="#222" stroke-width="0.12">3500</text>
<line x1="100.4" y1="324.2" x2="102" y2="324.2" stroke="#cfcfcf" stroke-width="0.6"/>
<text x="96.4" y="326.7" font-size="7" textLength="15.44" lengthAdjust="spacingAndGlyphs" text-anchor="end" fill="#222" stroke="#222" stroke-width="0.12">3000</text>
<line x1="100.4" y1="342.2" x2="102" y2="342.2" stroke="#cfcfcf" stroke-width="0.6"/>
<text x="96.4" y="344.7" font-size="7" textLength="15.44" lengthAdjust="spacingAndGlyphs" text-anchor="end" fill="#222" stroke="#222" stroke-width="0.12">2500</text>
<line x1="100.4" y1="359.8" x2="102" y2="359.8" stroke="#cfcfcf" stroke-width="0.6"/>
<text x="96.4" y="362.3" font-size="7" textLength="15.44" lengthAdjust="spacingAndGlyphs" text-anchor="end" fill="#222" stroke="#222" stroke-width="0.12">2000</text>
<line x1="135" y1="336.6" x2="171" y2="330.4" stroke="#141414" stroke-width="1.5" stroke-dasharray="2.6 3.4"/>
<line x1="127" y1="316.2" x2="176.6" y2="288.5" stroke="#141414" stroke-width="1.6"/>
<line x1="127" y1="329" x2="176.6" y2="328.5" stroke="#141414" stroke-width="1.6"/>
<line x1="127" y1="342" x2="176.6" y2="324.8" stroke="#141414" stroke-width="1.6"/>
<line x1="127" y1="337.7" x2="176.6" y2="353.6" stroke="#141414" stroke-width="1.6"/>
<path d="M124.7 316.2h4.6M127 313.9v4.6" stroke="#141414" stroke-width="0.8" fill="none"/>
<path d="M174.3 288.5h4.6M176.6 286.2v4.6" stroke="#141414" stroke-width="0.8" fill="none"/>
<path d="M127 326.5L129.3 330.8L124.7 330.8Z" fill="#fff" stroke="#141414" stroke-width="0.8"/>
<path d="M176.6 326L178.9 330.3L174.3 330.3Z" fill="#fff" stroke="#141414" stroke-width="0.8"/>
<circle cx="127" cy="342" r="2.1" fill="#141414"/>
<circle cx="176.6" cy="324.8" r="2.1" fill="#141414"/>
<rect x="125" y="335.7" width="4" height="4" fill="#fff" stroke="#141414" stroke-width="0.85"/>
<rect x="174.6" y="351.6" width="4" height="4" fill="#fff" stroke="#141414" stroke-width="0.85"/>
<text x="134.5" y="278.2" font-size="11.3" textLength="23.1" lengthAdjust="spacingAndGlyphs" stroke="#1c1c1c" stroke-width="0.22">CD40</text>
<line x1="134.2" y1="279.6" x2="157.9" y2="279.6" stroke="#222" stroke-width="0.8"/>
<text x="127.2" y="371.6" font-size="6.5" textLength="11.6" lengthAdjust="spacingAndGlyphs" text-anchor="middle" fill="#222" stroke="#222" stroke-width="0.22">RB-</text>
<text x="177.2" y="371.6" font-size="6.5" textLength="12.4" lengthAdjust="spacingAndGlyphs" text-anchor="middle" fill="#222" stroke="#222" stroke-width="0.22">RB+</text>
<line x1="212.7" y1="288.5" x2="300.5" y2="288.5" stroke="#f1f1f1" stroke-width="0.6"/>
<line x1="212.7" y1="300.3" x2="300.5" y2="300.3" stroke="#f1f1f1" stroke-width="0.6"/>
<line x1="212.7" y1="312" x2="300.5" y2="312" stroke="#f1f1f1" stroke-width="0.6"/>
<line x1="212.7" y1="323.9" x2="300.5" y2="323.9" stroke="#f1f1f1" stroke-width="0.6"/>
<line x1="212.7" y1="335.9" x2="300.5" y2="335.9" stroke="#f1f1f1" stroke-width="0.6"/>
<line x1="212.7" y1="347.4" x2="300.5" y2="347.4" stroke="#f1f1f1" stroke-width="0.6"/>
<line x1="212.7" y1="288" x2="212.7" y2="359.4" stroke="#cfcfcf" stroke-width="0.7"/>
<line x1="211.1" y1="359.4" x2="300.5" y2="359.4" stroke="#cfcfcf" stroke-width="0.7"/>
<line x1="214.7" y1="359.4" x2="214.7" y2="360.9" stroke="#cfcfcf" stroke-width="0.6"/>
<line x1="263.7" y1="359.4" x2="263.7" y2="360.9" stroke="#cfcfcf" stroke-width="0.6"/>
<line x1="300.7" y1="359.4" x2="300.7" y2="360.9" stroke="#cfcfcf" stroke-width="0.6"/>
<line x1="211.1" y1="288.5" x2="212.7" y2="288.5" stroke="#cfcfcf" stroke-width="0.6"/>
<text x="208.2" y="291" font-size="7" textLength="15.44" lengthAdjust="spacingAndGlyphs" text-anchor="end" fill="#222" stroke="#222" stroke-width="0.12">1400</text>
<line x1="211.1" y1="300.3" x2="212.7" y2="300.3" stroke="#cfcfcf" stroke-width="0.6"/>
<text x="208.2" y="302.8" font-size="7" textLength="15.44" lengthAdjust="spacingAndGlyphs" text-anchor="end" fill="#222" stroke="#222" stroke-width="0.12">1200</text>
<line x1="211.1" y1="312" x2="212.7" y2="312" stroke="#cfcfcf" stroke-width="0.6"/>
<text x="208.2" y="314.5" font-size="7" textLength="15.44" lengthAdjust="spacingAndGlyphs" text-anchor="end" fill="#222" stroke="#222" stroke-width="0.12">1000</text>
<line x1="211.1" y1="323.9" x2="212.7" y2="323.9" stroke="#cfcfcf" stroke-width="0.6"/>
<text x="208.2" y="326.4" font-size="7" textLength="11.58" lengthAdjust="spacingAndGlyphs" text-anchor="end" fill="#222" stroke="#222" stroke-width="0.12">800</text>
<line x1="211.1" y1="335.9" x2="212.7" y2="335.9" stroke="#cfcfcf" stroke-width="0.6"/>
<text x="208.2" y="338.4" font-size="7" textLength="11.58" lengthAdjust="spacingAndGlyphs" text-anchor="end" fill="#222" stroke="#222" stroke-width="0.12">600</text>
<line x1="211.1" y1="347.4" x2="212.7" y2="347.4" stroke="#cfcfcf" stroke-width="0.6"/>
<text x="208.2" y="349.9" font-size="7" textLength="11.58" lengthAdjust="spacingAndGlyphs" text-anchor="end" fill="#222" stroke="#222" stroke-width="0.12">400</text>
<line x1="211.1" y1="359.4" x2="212.7" y2="359.4" stroke="#cfcfcf" stroke-width="0.6"/>
<text x="208.2" y="361.9" font-size="7" textLength="11.58" lengthAdjust="spacingAndGlyphs" text-anchor="end" fill="#222" stroke="#222" stroke-width="0.12">200</text>
<line x1="243" y1="329" x2="285" y2="318.8" stroke="#141414" stroke-width="1.5" stroke-dasharray="2.6 3.4"/>
<line x1="239.2" y1="329.6" x2="288.2" y2="294.3" stroke="#141414" stroke-width="1.6"/>
<line x1="239.2" y1="335.9" x2="288.2" y2="319" stroke="#141414" stroke-width="1.6"/>
<line x1="239.2" y1="353.2" x2="288.2" y2="326" stroke="#141414" stroke-width="1.6"/>
<line x1="239.2" y1="349.7" x2="288.2" y2="343.2" stroke="#141414" stroke-width="1.6"/>
<path d="M236.9 329.6h4.6M239.2 327.3v4.6" stroke="#141414" stroke-width="0.8" fill="none"/>
<path d="M285.9 294.3h4.6M288.2 292v4.6" stroke="#141414" stroke-width="0.8" fill="none"/>
<rect x="237.2" y="333.9" width="4" height="4" fill="#fff" stroke="#141414" stroke-width="0.85"/>
<rect x="286.2" y="317" width="4" height="4" fill="#fff" stroke="#141414" stroke-width="0.85"/>
<circle cx="239.2" cy="353.2" r="2.1" fill="#141414"/>
<circle cx="288.2" cy="326" r="2.1" fill="#141414"/>
<path d="M239.2 347.2L241.5 351.5L236.9 351.5Z" fill="#fff" stroke="#141414" stroke-width="0.8"/>
<path d="M288.2 340.7L290.5 345L285.9 345Z" fill="#fff" stroke="#141414" stroke-width="0.8"/>
<text x="247.8" y="278.2" font-size="11.3" textLength="23.1" lengthAdjust="spacingAndGlyphs" stroke="#1c1c1c" stroke-width="0.22">CD69</text>
<line x1="247.5" y1="279.6" x2="271.2" y2="279.6" stroke="#222" stroke-width="0.8"/>
<text x="239.4" y="371.6" font-size="6.5" textLength="11.6" lengthAdjust="spacingAndGlyphs" text-anchor="middle" fill="#222" stroke="#222" stroke-width="0.22">RB-</text>
<text x="288.8" y="371.6" font-size="6.5" textLength="12.4" lengthAdjust="spacingAndGlyphs" text-anchor="middle" fill="#222" stroke="#222" stroke-width="0.22">RB+</text>
<line x1="321" y1="288.5" x2="410.5" y2="288.5" stroke="#f1f1f1" stroke-width="0.6"/>
<line x1="321" y1="302.8" x2="410.5" y2="302.8" stroke="#f1f1f1" stroke-width="0.6"/>
<line x1="321" y1="317" x2="410.5" y2="317" stroke="#f1f1f1" stroke-width="0.6"/>
<line x1="321" y1="331.2" x2="410.5" y2="331.2" stroke="#f1f1f1" stroke-width="0.6"/>
<line x1="321" y1="345" x2="410.5" y2="345" stroke="#f1f1f1" stroke-width="0.6"/>
<line x1="321" y1="288" x2="321" y2="359.4" stroke="#cfcfcf" stroke-width="0.7"/>
<line x1="319.4" y1="359.4" x2="410.5" y2="359.4" stroke="#cfcfcf" stroke-width="0.7"/>
<line x1="321.4" y1="359.4" x2="321.4" y2="360.9" stroke="#cfcfcf" stroke-width="0.6"/>
<line x1="371" y1="359.4" x2="371" y2="360.9" stroke="#cfcfcf" stroke-width="0.6"/>
<line x1="408.6" y1="359.4" x2="408.6" y2="360.9" stroke="#cfcfcf" stroke-width="0.6"/>
<line x1="319.4" y1="288.5" x2="321" y2="288.5" stroke="#cfcfcf" stroke-width="0.6"/>
<text x="317.2" y="291" font-size="7" textLength="15.44" lengthAdjust="spacingAndGlyphs" text-anchor="end" fill="#222" stroke="#222" stroke-width="0.12">1000</text>
<line x1="319.4" y1="302.8" x2="321" y2="302.8" stroke="#cfcfcf" stroke-width="0.6"/>
<text x="317.2" y="305.3" font-size="7" textLength="11.58" lengthAdjust="spacingAndGlyphs" text-anchor="end" fill="#222" stroke="#222" stroke-width="0.12">800</text>
<line x1="319.4" y1="317" x2="321" y2="317" stroke="#cfcfcf" stroke-width="0.6"/>
<text x="317.2" y="319.5" font-size="7" textLength="11.58" lengthAdjust="spacingAndGlyphs" text-anchor="end" fill="#222" stroke="#222" stroke-width="0.12">600</text>
<line x1="319.4" y1="331.2" x2="321" y2="331.2" stroke="#cfcfcf" stroke-width="0.6"/>
<text x="317.2" y="333.7" font-size="7" textLength="11.58" lengthAdjust="spacingAndGlyphs" text-anchor="end" fill="#222" stroke="#222" stroke-width="0.12">400</text>
<line x1="319.4" y1="345" x2="321" y2="345" stroke="#cfcfcf" stroke-width="0.6"/>
<text x="317.2" y="347.5" font-size="7" textLength="11.58" lengthAdjust="spacingAndGlyphs" text-anchor="end" fill="#222" stroke="#222" stroke-width="0.12">200</text>
<line x1="319.4" y1="359.4" x2="321" y2="359.4" stroke="#cfcfcf" stroke-width="0.6"/>
<text x="317.2" y="361.9" font-size="7" textLength="3.86" lengthAdjust="spacingAndGlyphs" text-anchor="end" fill="#222" stroke="#222" stroke-width="0.12">0</text>
<line x1="346.5" y1="351.4" x2="393" y2="351.4" stroke="#141414" stroke-width="1.5" stroke-dasharray="2.6 4.2"/>
<line x1="346.2" y1="290.8" x2="395.8" y2="325.5" stroke="#141414" stroke-width="1.6"/>
<line x1="346.2" y1="292.7" x2="395.8" y2="348.5" stroke="#141414" stroke-width="1.6"/>
<line x1="346.2" y1="336.3" x2="395.8" y2="349.7" stroke="#141414" stroke-width="1.6"/>
<line x1="346.2" y1="344.6" x2="395.8" y2="341.6" stroke="#141414" stroke-width="1.6"/>
<circle cx="346.2" cy="290.8" r="2.1" fill="#141414"/>
<circle cx="395.8" cy="325.5" r="2.1" fill="#141414"/>
<rect x="344.2" y="290.7" width="4" height="4" fill="#fff" stroke="#141414" stroke-width="0.85"/>
<rect x="393.8" y="346.5" width="4" height="4" fill="#fff" stroke="#141414" stroke-width="0.85"/>
<rect x="344.2" y="334.3" width="4" height="4" fill="#fff" stroke="#141414" stroke-width="0.85"/>
<rect x="393.8" y="347.7" width="4" height="4" fill="#fff" stroke="#141414" stroke-width="0.85"/>
<path d="M343.9 344.6h4.6M346.2 342.3v4.6" stroke="#141414" stroke-width="0.8" fill="none"/>
<path d="M393.5 341.6h4.6M395.8 339.3v4.6" stroke="#141414" stroke-width="0.8" fill="none"/>
<text x="357.3" y="278.2" font-size="11.3" textLength="17.3" lengthAdjust="spacingAndGlyphs" stroke="#1c1c1c" stroke-width="0.22">Ki67</text>
<line x1="357" y1="279.6" x2="374.9" y2="279.6" stroke="#222" stroke-width="0.8"/>
<text x="346.4" y="371.6" font-size="6.5" textLength="11.6" lengthAdjust="spacingAndGlyphs" text-anchor="middle" fill="#222" stroke="#222" stroke-width="0.22">RB-</text>
<text x="396.4" y="371.6" font-size="6.5" textLength="12.4" lengthAdjust="spacingAndGlyphs" text-anchor="middle" fill="#222" stroke="#222" stroke-width="0.22">RB+</text>
<line x1="433.5" y1="288.5" x2="520" y2="288.5" stroke="#f1f1f1" stroke-width="0.6"/>
<line x1="433.5" y1="302.8" x2="520" y2="302.8" stroke="#f1f1f1" stroke-width="0.6"/>
<line x1="433.5" y1="317" x2="520" y2="317" stroke="#f1f1f1" stroke-width="0.6"/>
<line x1="433.5" y1="331.2" x2="520" y2="331.2" stroke="#f1f1f1" stroke-width="0.6"/>
<line x1="433.5" y1="345" x2="520" y2="345" stroke="#f1f1f1" stroke-width="0.6"/>
<line x1="433.5" y1="288" x2="433.5" y2="359.4" stroke="#cfcfcf" stroke-width="0.7"/>
<line x1="431.9" y1="359.4" x2="520" y2="359.4" stroke="#cfcfcf" stroke-width="0.7"/>
<line x1="435.25" y1="359.4" x2="435.25" y2="360.9" stroke="#cfcfcf" stroke-width="0.6"/>
<line x1="482.55" y1="359.4" x2="482.55" y2="360.9" stroke="#cfcfcf" stroke-width="0.6"/>
<line x1="517.85" y1="359.4" x2="517.85" y2="360.9" stroke="#cfcfcf" stroke-width="0.6"/>
<line x1="431.9" y1="288.5" x2="433.5" y2="288.5" stroke="#cfcfcf" stroke-width="0.6"/>
<text x="429.6" y="291" font-size="7" textLength="19.3" lengthAdjust="spacingAndGlyphs" text-anchor="end" fill="#222" stroke="#222" stroke-width="0.12">18000</text>
<line x1="431.9" y1="302.8" x2="433.5" y2="302.8" stroke="#cfcfcf" stroke-width="0.6"/>
<text x="429.6" y="305.3" font-size="7" textLength="19.3" lengthAdjust="spacingAndGlyphs" text-anchor="end" fill="#222" stroke="#222" stroke-width="0.12">15000</text>
<line x1="431.9" y1="317" x2="433.5" y2="317" stroke="#cfcfcf" stroke-width="0.6"/>
<text x="429.6" y="319.5" font-size="7" textLength="19.3" lengthAdjust="spacingAndGlyphs" text-anchor="end" fill="#222" stroke="#222" stroke-width="0.12">12000</text>
<line x1="431.9" y1="331.2" x2="433.5" y2="331.2" stroke="#cfcfcf" stroke-width="0.6"/>
<text x="429.6" y="333.7" font-size="7" textLength="15.44" lengthAdjust="spacingAndGlyphs" text-anchor="end" fill="#222" stroke="#222" stroke-width="0.12">9000</text>
<line x1="431.9" y1="345" x2="433.5" y2="345" stroke="#cfcfcf" stroke-width="0.6"/>
<text x="429.6" y="347.5" font-size="7" textLength="15.44" lengthAdjust="spacingAndGlyphs" text-anchor="end" fill="#222" stroke="#222" stroke-width="0.12">6000</text>
<line x1="431.9" y1="359.4" x2="433.5" y2="359.4" stroke="#cfcfcf" stroke-width="0.6"/>
<text x="429.6" y="361.9" font-size="7" textLength="15.44" lengthAdjust="spacingAndGlyphs" text-anchor="end" fill="#222" stroke="#222" stroke-width="0.12">3000</text>
<line x1="470" y1="346" x2="504" y2="315.8" stroke="#141414" stroke-width="1.5" stroke-dasharray="2.6 3.6"/>
<line x1="458.9" y1="357.4" x2="506.2" y2="296.2" stroke="#141414" stroke-width="1.8"/>
<line x1="458.9" y1="354.3" x2="506.2" y2="330" stroke="#141414" stroke-width="1.6"/>
<line x1="458.9" y1="354.3" x2="506.2" y2="349.3" stroke="#141414" stroke-width="1.6"/>
<rect x="456.9" y="355.4" width="4" height="4" fill="#fff" stroke="#141414" stroke-width="0.85"/>
<rect x="504.2" y="294.2" width="4" height="4" fill="#fff" stroke="#141414" stroke-width="0.85"/>
<circle cx="458.9" cy="354.3" r="2.1" fill="#141414"/>
<circle cx="506.2" cy="330" r="2.1" fill="#141414"/>
<path d="M458.9 351.8L461.2 356.1L456.6 356.1Z" fill="#fff" stroke="#141414" stroke-width="0.8"/>
<path d="M506.2 346.8L508.5 351.1L503.9 351.1Z" fill="#fff" stroke="#141414" stroke-width="0.8"/>
<text x="459.5" y="278.2" font-size="11.3" textLength="36.3" lengthAdjust="spacingAndGlyphs" stroke="#1c1c1c" stroke-width="0.22">CD45RA</text>
<line x1="459.2" y1="279.6" x2="496.1" y2="279.6" stroke="#222" stroke-width="0.8"/>
<text x="459.1" y="371.6" font-size="6.5" textLength="11.6" lengthAdjust="spacingAndGlyphs" text-anchor="middle" fill="#222" stroke="#222" stroke-width="0.22">RB-</text>
<text x="506.8" y="371.6" font-size="6.5" textLength="12.4" lengthAdjust="spacingAndGlyphs" text-anchor="middle" fill="#222" stroke="#222" stroke-width="0.22">RB+</text>
<text x="74.4" y="212" font-size="8.2" textLength="12" lengthAdjust="spacingAndGlyphs" stroke="#1c1c1c" stroke-width="0.18" transform="rotate(-90 74.4 212)">MFI</text>
<line x1="75.9" y1="199.8" x2="75.9" y2="212.2" stroke="#222" stroke-width="0.6"/>
<text x="74.4" y="330.3" font-size="8.2" textLength="12" lengthAdjust="spacingAndGlyphs" stroke="#1c1c1c" stroke-width="0.18" transform="rotate(-90 74.4 330.3)">MFI</text>
<line x1="75.9" y1="318.1" x2="75.9" y2="330.5" stroke="#222" stroke-width="0.6"/>
<text x="29.8" y="216.6" font-size="10.1" textLength="17" lengthAdjust="spacingAndGlyphs" stroke="#1c1c1c" stroke-width="0.22">KEY</text>
<text x="28" y="231.5" font-size="10.1" textLength="28.2" lengthAdjust="spacingAndGlyphs" stroke="#1c1c1c" stroke-width="0.22">NAÏVE</text>
<line x1="2.6" y1="227.6" x2="23.5" y2="227.6" stroke="#141414" stroke-width="1.5" stroke-dasharray="2.6 3.2"/>
<text x="27.6" y="245.1" font-size="10.1" textLength="37.3" lengthAdjust="spacingAndGlyphs" stroke="#1c1c1c" stroke-width="0.22">PRE-GC</text>
<line x1="1.7" y1="241.2" x2="25.2" y2="241.2" stroke="#141414" stroke-width="1.7"/>
<path d="M11.5 241.2h4.6M13.8 238.9v4.6" stroke="#141414" stroke-width="0.8" fill="none"/>
<text x="27.6" y="259" font-size="10.1" textLength="14.3" lengthAdjust="spacingAndGlyphs" stroke="#1c1c1c" stroke-width="0.22">GC</text>
<line x1="1.7" y1="255" x2="25.2" y2="255" stroke="#141414" stroke-width="1.7"/>
<circle cx="13.8" cy="255" r="2.1" fill="#141414"/>
<text x="27.6" y="272.7" font-size="10.1" textLength="36.4" lengthAdjust="spacingAndGlyphs" stroke="#1c1c1c" stroke-width="0.22">PBLAST</text>
<line x1="1.7" y1="268.9" x2="25.2" y2="268.9" stroke="#141414" stroke-width="1.7"/>
<path d="M13.8 266.2L16.1 270.5L11.5 270.5Z" fill="#fff" stroke="#141414" stroke-width="0.8"/>
<text x="27.6" y="286.2" font-size="10.1" textLength="43" lengthAdjust="spacingAndGlyphs" stroke="#1c1c1c" stroke-width="0.22">MEMORY</text>
<line x1="1.7" y1="281.6" x2="25.2" y2="281.6" stroke="#141414" stroke-width="1.7"/>
<rect x="11.8" y="279.6" width="4" height="4" fill="#fff" stroke="#141414" stroke-width="0.85"/>
<text x="1" y="404.2" font-size="12.6" textLength="9.2" lengthAdjust="spacingAndGlyphs" font-weight="bold" fill="#000" stroke="#000" stroke-width="0.22">C</text>
<text x="55.3" y="414.2" font-size="10.6" textLength="52" lengthAdjust="spacingAndGlyphs" stroke="#1c1c1c" stroke-width="0.22">GC B CELLS</text>
<text x="27.7" y="426.6" font-size="8.2" textLength="31.2" lengthAdjust="spacingAndGlyphs" stroke="#1c1c1c" stroke-width="0.22">RB SPLIT</text>
<path d="M22.9 471C23.06 470.07 23.91 465.68 24.3 463C24.69 460.32 25.72 450.99 26.2 448C26.68 445.01 27.92 439.08 28.4 437.4C28.88 435.72 29.88 433.95 30.3 433.6C30.72 433.25 31.61 434.54 32 434.4C32.38 434.26 33.23 432.73 33.6 432.4C33.97 432.07 34.87 431.83 35.2 431.6C35.53 431.37 36.12 430.24 36.4 430.4C36.68 430.56 37.3 431.41 37.6 433C37.9 434.59 38.65 441.43 39 444C39.35 446.57 40.2 452.97 40.6 455C41 457.03 42 460.4 42.4 461.4C42.8 462.4 43.65 463.3 44 463.6C44.35 463.9 45.1 463.91 45.4 464C45.7 464.09 46.3 464.26 46.6 464.4C46.9 464.54 47.65 464.78 48 465.2C48.35 465.62 49.25 467.42 49.6 468C49.95 468.58 50.7 469.85 51 470.2C51.3 470.55 52.06 470.91 52.2 471Z" fill="#505050" stroke="#444" stroke-width="0.3"/>
<rect x="19.4" y="429.7" width="45" height="41.5" fill="none" stroke="#8a8a8a" stroke-width="0.6"/>
<line x1="19.4" y1="429.7" x2="19.4" y2="471.2" stroke="#555" stroke-width="0.7"/>
<line x1="19.4" y1="471.2" x2="64.4" y2="471.2" stroke="#555" stroke-width="0.7"/>
<line x1="18" y1="436" x2="19.4" y2="436" stroke="#888" stroke-width="0.5"/>
<line x1="18" y1="442.5" x2="19.4" y2="442.5" stroke="#888" stroke-width="0.5"/>
<line x1="18" y1="449" x2="19.4" y2="449" stroke="#888" stroke-width="0.5"/>
<line x1="18" y1="455.5" x2="19.4" y2="455.5" stroke="#888" stroke-width="0.5"/>
<line x1="18" y1="462" x2="19.4" y2="462" stroke="#888" stroke-width="0.5"/>
<line x1="18" y1="468" x2="19.4" y2="468" stroke="#888" stroke-width="0.5"/>
<line x1="21.5" y1="471.2" x2="21.5" y2="472.6" stroke="#888" stroke-width="0.5"/>
<line x1="29" y1="471.2" x2="29" y2="472.6" stroke="#888" stroke-width="0.5"/>
<line x1="38" y1="471.2" x2="38" y2="472.6" stroke="#888" stroke-width="0.5"/>
<line x1="47" y1="471.2" x2="47" y2="472.6" stroke="#888" stroke-width="0.5"/>
<line x1="56" y1="471.2" x2="56" y2="472.6" stroke="#888" stroke-width="0.5"/>
<line x1="62" y1="471.2" x2="62" y2="472.6" stroke="#888" stroke-width="0.5"/>
<text x="16.6" y="453" font-size="2.6" fill="#999" transform="rotate(-90 16.6 453)">Count</text>
<line x1="44.3" y1="429.7" x2="44.3" y2="471.2" stroke="#111" stroke-width="1.1"/>
<text x="19.3" y="482.4" font-size="8.8" textLength="46.4" lengthAdjust="spacingAndGlyphs" stroke="#1c1c1c" stroke-width="0.22">CD45RB-FITC</text>
<line x1="26.8" y1="490" x2="29.6" y2="490" stroke="#111" stroke-width="1"/>
<line x1="49.5" y1="489.3" x2="52.3" y2="489.3" stroke="#111" stroke-width="0.9"/>
<line x1="50.9" y1="487.9" x2="50.9" y2="490.7" stroke="#111" stroke-width="0.9"/>
<path d="M27 492.6V508.4H77" fill="none" stroke="#111" stroke-width="1"/>
<path d="M82 508.4L76.4 506.2L76.4 510.6Z" fill="#111"/>
<path d="M50.9 492.6V555.7H77" fill="none" stroke="#111" stroke-width="1"/>
<path d="M82 555.7L76.4 553.5L76.4 557.9Z" fill="#111"/>
<line x1="71" y1="448.7" x2="78" y2="448.7" stroke="#111" stroke-width="1"/>
<path d="M67.4 448.7L72.4 446.6L72.4 450.8Z" fill="#111"/>
<path d="M81.8 448.7L76.8 446.6L76.8 450.8Z" fill="#111"/>
<path d="M118 462.4C118.02 461.76 118.1 456.72 118.2 456C118.3 455.28 118.8 455.54 119 455.2C119.2 454.86 119.96 453.32 120.2 452.6C120.44 451.88 121.16 449.16 121.4 448C121.64 446.84 122.36 442.45 122.6 441C122.84 439.55 123.59 434.56 123.8 433.5C124.01 432.44 124.52 430.4 124.7 430.4C124.88 430.4 125.39 432.34 125.6 433.5C125.81 434.66 126.56 440.15 126.8 442C127.04 443.85 127.78 450.3 128 452C128.22 453.7 128.84 457.96 129 459C129.16 460.04 129.54 462.06 129.6 462.4Z" fill="#505050" stroke="#444" stroke-width="0.3"/>
<rect x="90.8" y="430" width="45" height="32.4" fill="none" stroke="#2a2a2a" stroke-width="0.9"/>
<line x1="88.6" y1="432.5" x2="90.8" y2="432.5" stroke="#444" stroke-width="0.6"/>
<line x1="88.6" y1="436.7" x2="90.8" y2="436.7" stroke="#444" stroke-width="0.6"/>
<line x1="88.6" y1="440.9" x2="90.8" y2="440.9" stroke="#444" stroke-width="0.6"/>
<line x1="88.6" y1="445.1" x2="90.8" y2="445.1" stroke="#444" stroke-width="0.6"/>
<line x1="88.6" y1="449.3" x2="90.8" y2="449.3" stroke="#444" stroke-width="0.6"/>
<line x1="88.6" y1="453.5" x2="90.8" y2="453.5" stroke="#444" stroke-width="0.6"/>
<line x1="88.6" y1="457.7" x2="90.8" y2="457.7" stroke="#444" stroke-width="0.6"/>
<line x1="88.6" y1="461.9" x2="90.8" y2="461.9" stroke="#444" stroke-width="0.6"/>
<line x1="92.6" y1="462.4" x2="92.6" y2="464.6" stroke="#333" stroke-width="0.6"/>
<line x1="106.4" y1="462.4" x2="106.4" y2="464.6" stroke="#333" stroke-width="0.6"/>
<line x1="118.2" y1="462.4" x2="118.2" y2="464.6" stroke="#333" stroke-width="0.6"/>
<line x1="129.6" y1="462.4" x2="129.6" y2="464.6" stroke="#333" stroke-width="0.6"/>
<line x1="94.5" y1="462.4" x2="94.5" y2="463.7" stroke="#555" stroke-width="0.45"/>
<line x1="96.5" y1="462.4" x2="96.5" y2="463.7" stroke="#555" stroke-width="0.45"/>
<line x1="98.5" y1="462.4" x2="98.5" y2="463.7" stroke="#555" stroke-width="0.45"/>
<line x1="100.5" y1="462.4" x2="100.5" y2="463.7" stroke="#555" stroke-width="0.45"/>
<line x1="102.5" y1="462.4" x2="102.5" y2="463.7" stroke="#555" stroke-width="0.45"/>
<line x1="104.5" y1="462.4" x2="104.5" y2="463.7" stroke="#555" stroke-width="0.45"/>
<line x1="108" y1="462.4" x2="108" y2="463.7" stroke="#555" stroke-width="0.45"/>
<line x1="110" y1="462.4" x2="110" y2="463.7" stroke="#555" stroke-width="0.45"/>
<line x1="112" y1="462.4" x2="112" y2="463.7" stroke="#555" stroke-width="0.45"/>
<line x1="113.6" y1="462.4" x2="113.6" y2="463.7" stroke="#555" stroke-width="0.45"/>
<line x1="115" y1="462.4" x2="115" y2="463.7" stroke="#555" stroke-width="0.45"/>
<line x1="116.4" y1="462.4" x2="116.4" y2="463.7" stroke="#555" stroke-width="0.45"/>
<line x1="121" y1="462.4" x2="121" y2="463.7" stroke="#555" stroke-width="0.45"/>
<line x1="123.4" y1="462.4" x2="123.4" y2="463.7" stroke="#555" stroke-width="0.45"/>
<line x1="125" y1="462.4" x2="125" y2="463.7" stroke="#555" stroke-width="0.45"/>
<line x1="126.4" y1="462.4" x2="126.4" y2="463.7" stroke="#555" stroke-width="0.45"/>
<line x1="127.6" y1="462.4" x2="127.6" y2="463.7" stroke="#555" stroke-width="0.45"/>
<line x1="128.6" y1="462.4" x2="128.6" y2="463.7" stroke="#555" stroke-width="0.45"/>
<line x1="132" y1="462.4" x2="132" y2="463.7" stroke="#555" stroke-width="0.45"/>
<line x1="133.6" y1="462.4" x2="133.6" y2="463.7" stroke="#555" stroke-width="0.45"/>
<text x="106.3" y="472" font-size="5.4" text-anchor="middle" fill="#222" stroke="#222" stroke-width="0.1">0</text>
<text x="117.6" y="472" font-size="5.4" text-anchor="middle" fill="#222">10<tspan dy="-2" font-size="3.8">4</tspan></text>
<text x="130.6" y="472" font-size="5.4" text-anchor="middle" fill="#222">10<tspan dy="-2" font-size="3.8">5</tspan></text>
<text x="92" y="445.2" font-size="8.4" textLength="21.8" lengthAdjust="spacingAndGlyphs" stroke="#1c1c1c" stroke-width="0.22">TOTAL</text>
<path d="M117.6 509.5C117.7 509.3 118.36 508.05 118.6 507.5C118.84 506.95 119.72 504.95 120 504C120.28 503.05 121.14 499.5 121.4 498C121.66 496.5 122.38 490.7 122.6 489C122.82 487.3 123.42 482.1 123.6 481C123.78 479.9 124.23 478 124.4 478C124.57 478 125.1 479.9 125.3 481C125.5 482.1 126.17 487.2 126.4 489C126.63 490.8 127.38 497.3 127.6 499C127.82 500.7 128.41 504.95 128.6 506C128.79 507.05 129.41 509.15 129.5 509.5Z" fill="#505050" stroke="#444" stroke-width="0.3"/>
<rect x="90.8" y="477.2" width="45" height="32.3" fill="none" stroke="#2a2a2a" stroke-width="0.9"/>
<line x1="88.6" y1="479.7" x2="90.8" y2="479.7" stroke="#444" stroke-width="0.6"/>
<line x1="88.6" y1="483.89" x2="90.8" y2="483.89" stroke="#444" stroke-width="0.6"/>
<line x1="88.6" y1="488.07" x2="90.8" y2="488.07" stroke="#444" stroke-width="0.6"/>
<line x1="88.6" y1="492.26" x2="90.8" y2="492.26" stroke="#444" stroke-width="0.6"/>
<line x1="88.6" y1="496.44" x2="90.8" y2="496.44" stroke="#444" stroke-width="0.6"/>
<line x1="88.6" y1="500.63" x2="90.8" y2="500.63" stroke="#444" stroke-width="0.6"/>
<line x1="88.6" y1="504.81" x2="90.8" y2="504.81" stroke="#444" stroke-width="0.6"/>
<line x1="88.6" y1="509" x2="90.8" y2="509" stroke="#444" stroke-width="0.6"/>
<line x1="92.6" y1="509.5" x2="92.6" y2="511.7" stroke="#333" stroke-width="0.6"/>
<line x1="106.4" y1="509.5" x2="106.4" y2="511.7" stroke="#333" stroke-width="0.6"/>
<line x1="118.2" y1="509.5" x2="118.2" y2="511.7" stroke="#333" stroke-width="0.6"/>
<line x1="129.6" y1="509.5" x2="129.6" y2="511.7" stroke="#333" stroke-width="0.6"/>
<line x1="94.5" y1="509.5" x2="94.5" y2="510.8" stroke="#555" stroke-width="0.45"/>
<line x1="96.5" y1="509.5" x2="96.5" y2="510.8" stroke="#555" stroke-width="0.45"/>
<line x1="98.5" y1="509.5" x2="98.5" y2="510.8" stroke="#555" stroke-width="0.45"/>
<line x1="100.5" y1="509.5" x2="100.5" y2="510.8" stroke="#555" stroke-width="0.45"/>
<line x1="102.5" y1="509.5" x2="102.5" y2="510.8" stroke="#555" stroke-width="0.45"/>
<line x1="104.5" y1="509.5" x2="104.5" y2="510.8" stroke="#555" stroke-width="0.45"/>
<line x1="108" y1="509.5" x2="108" y2="510.8" stroke="#555" stroke-width="0.45"/>
<line x1="110" y1="509.5" x2="110" y2="510.8" stroke="#555" stroke-width="0.45"/>
<line x1="112" y1="509.5" x2="112" y2="510.8" stroke="#555" stroke-width="0.45"/>
<line x1="113.6" y1="509.5" x2="113.6" y2="510.8" stroke="#555" stroke-width="0.45"/>
<line x1="115" y1="509.5" x2="115" y2="510.8" stroke="#555" stroke-width="0.45"/>
<line x1="116.4" y1="509.5" x2="116.4" y2="510.8" stroke="#555" stroke-width="0.45"/>
<line x1="121" y1="509.5" x2="121" y2="510.8" stroke="#555" stroke-width="0.45"/>
<line x1="123.4" y1="509.5" x2="123.4" y2="510.8" stroke="#555" stroke-width="0.45"/>
<line x1="125" y1="509.5" x2="125" y2="510.8" stroke="#555" stroke-width="0.45"/>
<line x1="126.4" y1="509.5" x2="126.4" y2="510.8" stroke="#555" stroke-width="0.45"/>
<line x1="127.6" y1="509.5" x2="127.6" y2="510.8" stroke="#555" stroke-width="0.45"/>
<line x1="128.6" y1="509.5" x2="128.6" y2="510.8" stroke="#555" stroke-width="0.45"/>
<line x1="132" y1="509.5" x2="132" y2="510.8" stroke="#555" stroke-width="0.45"/>
<line x1="133.6" y1="509.5" x2="133.6" y2="510.8" stroke="#555" stroke-width="0.45"/>
<text x="106.3" y="517.7" font-size="5.4" text-anchor="middle" fill="#222" stroke="#222" stroke-width="0.1">0</text>
<text x="117.6" y="517.7" font-size="5.4" text-anchor="middle" fill="#222">10<tspan dy="-2" font-size="3.8">4</tspan></text>
<text x="130.6" y="517.7" font-size="5.4" text-anchor="middle" fill="#222">10<tspan dy="-2" font-size="3.8">5</tspan></text>
<text x="92.6" y="500.7" font-size="8.6" textLength="10.8" lengthAdjust="spacingAndGlyphs" stroke="#1c1c1c" stroke-width="0.22">RB</text>
<line x1="105.8" y1="494.2" x2="108.2" y2="494.2" stroke="#222" stroke-width="0.8"/>
<path d="M118 555.3C118 554.28 117.99 542.09 118 540C118.01 537.91 118.14 524.73 118.2 524C118.26 523.27 118.79 528.27 118.9 529C119.01 529.73 119.67 534.4 119.8 535C119.93 535.6 120.67 537.57 120.8 538C120.93 538.43 121.67 541.18 121.8 541.5C121.93 541.82 122.67 542.74 122.8 542.8C122.93 542.86 123.67 542.52 123.8 542.4C123.93 542.28 124.67 541.16 124.8 541C124.93 540.84 125.69 540.23 125.8 540C125.91 539.77 126.31 537.64 126.4 537.6C126.49 537.56 127.09 539.31 127.2 539.4C127.31 539.49 127.9 538.89 128 539C128.1 539.11 128.63 539.91 128.7 541C128.77 542.09 128.98 554.35 129 555.3Z" fill="#505050" stroke="#444" stroke-width="0.3"/>
<rect x="90.8" y="523.4" width="45" height="32.2" fill="none" stroke="#2a2a2a" stroke-width="0.9"/>
<line x1="88.6" y1="525.9" x2="90.8" y2="525.9" stroke="#444" stroke-width="0.6"/>
<line x1="88.6" y1="530.07" x2="90.8" y2="530.07" stroke="#444" stroke-width="0.6"/>
<line x1="88.6" y1="534.24" x2="90.8" y2="534.24" stroke="#444" stroke-width="0.6"/>
<line x1="88.6" y1="538.41" x2="90.8" y2="538.41" stroke="#444" stroke-width="0.6"/>
<line x1="88.6" y1="542.59" x2="90.8" y2="542.59" stroke="#444" stroke-width="0.6"/>
<line x1="88.6" y1="546.76" x2="90.8" y2="546.76" stroke="#444" stroke-width="0.6"/>
<line x1="88.6" y1="550.93" x2="90.8" y2="550.93" stroke="#444" stroke-width="0.6"/>
<line x1="88.6" y1="555.1" x2="90.8" y2="555.1" stroke="#444" stroke-width="0.6"/>
<line x1="92.6" y1="555.6" x2="92.6" y2="557.8" stroke="#333" stroke-width="0.6"/>
<line x1="106.4" y1="555.6" x2="106.4" y2="557.8" stroke="#333" stroke-width="0.6"/>
<line x1="118.2" y1="555.6" x2="118.2" y2="557.8" stroke="#333" stroke-width="0.6"/>
<line x1="129.6" y1="555.6" x2="129.6" y2="557.8" stroke="#333" stroke-width="0.6"/>
<line x1="94.5" y1="555.6" x2="94.5" y2="556.9" stroke="#555" stroke-width="0.45"/>
<line x1="96.5" y1="555.6" x2="96.5" y2="556.9" stroke="#555" stroke-width="0.45"/>
<line x1="98.5" y1="555.6" x2="98.5" y2="556.9" stroke="#555" stroke-width="0.45"/>
<line x1="100.5" y1="555.6" x2="100.5" y2="556.9" stroke="#555" stroke-width="0.45"/>
<line x1="102.5" y1="555.6" x2="102.5" y2="556.9" stroke="#555" stroke-width="0.45"/>
<line x1="104.5" y1="555.6" x2="104.5" y2="556.9" stroke="#555" stroke-width="0.45"/>
<line x1="108" y1="555.6" x2="108" y2="556.9" stroke="#555" stroke-width="0.45"/>
<line x1="110" y1="555.6" x2="110" y2="556.9" stroke="#555" stroke-width="0.45"/>
<line x1="112" y1="555.6" x2="112" y2="556.9" stroke="#555" stroke-width="0.45"/>
<line x1="113.6" y1="555.6" x2="113.6" y2="556.9" stroke="#555" stroke-width="0.45"/>
<line x1="115" y1="555.6" x2="115" y2="556.9" stroke="#555" stroke-width="0.45"/>
<line x1="116.4" y1="555.6" x2="116.4" y2="556.9" stroke="#555" stroke-width="0.45"/>
<line x1="121" y1="555.6" x2="121" y2="556.9" stroke="#555" stroke-width="0.45"/>
<line x1="123.4" y1="555.6" x2="123.4" y2="556.9" stroke="#555" stroke-width="0.45"/>
<line x1="125" y1="555.6" x2="125" y2="556.9" stroke="#555" stroke-width="0.45"/>
<line x1="126.4" y1="555.6" x2="126.4" y2="556.9" stroke="#555" stroke-width="0.45"/>
<line x1="127.6" y1="555.6" x2="127.6" y2="556.9" stroke="#555" stroke-width="0.45"/>
<line x1="128.6" y1="555.6" x2="128.6" y2="556.9" stroke="#555" stroke-width="0.45"/>
<line x1="132" y1="555.6" x2="132" y2="556.9" stroke="#555" stroke-width="0.45"/>
<line x1="133.6" y1="555.6" x2="133.6" y2="556.9" stroke="#555" stroke-width="0.45"/>
<text x="106.3" y="564.2" font-size="5.4" text-anchor="middle" fill="#222" stroke="#222" stroke-width="0.1">0</text>
<text x="117.6" y="564.2" font-size="5.4" text-anchor="middle" fill="#222">10<tspan dy="-2" font-size="3.8">4</tspan></text>
<text x="130.6" y="564.2" font-size="5.4" text-anchor="middle" fill="#222">10<tspan dy="-2" font-size="3.8">5</tspan></text>
<text x="92.6" y="547.4" font-size="8.6" textLength="10.8" lengthAdjust="spacingAndGlyphs" stroke="#1c1c1c" stroke-width="0.22">RB</text>
<line x1="106.2" y1="539.3" x2="109.4" y2="539.3" stroke="#222" stroke-width="0.8"/>
<line x1="107.8" y1="537.7" x2="107.8" y2="540.9" stroke="#222" stroke-width="0.8"/>
<line x1="124.55" y1="441" x2="124.55" y2="555" stroke="#fff" stroke-width="0.9" stroke-dasharray="1 1.1"/>
<line x1="124.55" y1="462.6" x2="124.55" y2="477" stroke="#111" stroke-width="1" stroke-dasharray="1 1.1"/>
<line x1="124.55" y1="509.8" x2="124.55" y2="523" stroke="#111" stroke-width="1" stroke-dasharray="1 1.1"/>
<line x1="124.55" y1="523" x2="124.55" y2="542" stroke="#111" stroke-width="1" stroke-dasharray="1 1.1"/>
<text x="87" y="572.6" font-size="9" textLength="57.6" lengthAdjust="spacingAndGlyphs" stroke="#1c1c1c" stroke-width="0.22">CD38-APC CY5.5</text>
<text x="189.5" y="403.9" font-size="12.6" textLength="8.8" lengthAdjust="spacingAndGlyphs" font-weight="bold" fill="#000" stroke="#000" stroke-width="0.22">D</text>
<text x="243.3" y="413.6" font-size="10.6" textLength="14.7" lengthAdjust="spacingAndGlyphs" stroke="#1c1c1c" stroke-width="0.22">IgM</text>
<text x="298.2" y="413.2" font-size="10.2" textLength="13.3" lengthAdjust="spacingAndGlyphs" stroke="#1c1c1c" stroke-width="0.22">RO</text>
<text x="347.3" y="413.2" font-size="10.2" textLength="23.5" lengthAdjust="spacingAndGlyphs" stroke="#1c1c1c" stroke-width="0.22">CD27</text>
<path d="M239.6 462.5C239.79 462.09 240.85 460.34 241.2 459C241.55 457.66 242.3 452.98 242.6 451C242.9 449.02 243.52 443.48 243.8 442C244.08 440.52 244.74 438.48 245 438.3C245.26 438.12 245.77 439.6 246 440.5C246.23 441.4 246.72 444.77 247 446C247.28 447.23 248.03 450 248.4 451C248.77 452 249.71 454.09 250.2 454.6C250.69 455.11 251.99 455.35 252.6 455.4C253.21 455.45 254.82 455.26 255.4 455C255.98 454.74 257.11 453.74 257.6 453.2C258.09 452.66 259.16 450.89 259.6 450.4C260.04 449.91 261 449.02 261.4 449C261.8 448.98 262.65 450.11 263 450.2C263.35 450.29 264.1 449.59 264.4 449.8C264.7 450.01 265.23 451.28 265.6 452C265.97 452.72 267.09 455.02 267.6 456C268.11 456.98 269.49 459.64 270 460.4C270.51 461.16 271.77 462.25 272 462.5Z" fill="#505050" stroke="#444" stroke-width="0.3"/>
<rect x="224.2" y="416.6" width="49.4" height="45.9" fill="none" stroke="#7a7a7a" stroke-width="0.7"/>
<line x1="223.1" y1="417.6" x2="224.2" y2="417.6" stroke="#999" stroke-width="0.5"/>
<text x="222.8" y="418.6" font-size="2.4" text-anchor="end" fill="#999">100</text>
<line x1="223.1" y1="428.38" x2="224.2" y2="428.38" stroke="#999" stroke-width="0.5"/>
<text x="222.8" y="429.38" font-size="2.4" text-anchor="end" fill="#999">75</text>
<line x1="223.1" y1="439.15" x2="224.2" y2="439.15" stroke="#999" stroke-width="0.5"/>
<text x="222.8" y="440.15" font-size="2.4" text-anchor="end" fill="#999">50</text>
<line x1="223.1" y1="449.93" x2="224.2" y2="449.93" stroke="#999" stroke-width="0.5"/>
<text x="222.8" y="450.93" font-size="2.4" text-anchor="end" fill="#999">25</text>
<line x1="223.1" y1="460.7" x2="224.2" y2="460.7" stroke="#999" stroke-width="0.5"/>
<text x="222.8" y="461.7" font-size="2.4" text-anchor="end" fill="#999">0</text>
<line x1="235.07" y1="462.5" x2="235.07" y2="463.9" stroke="#888" stroke-width="0.5"/>
<text x="235.07" y="466.8" font-size="2.6" text-anchor="middle" fill="#999">10</text>
<line x1="243.96" y1="462.5" x2="243.96" y2="463.9" stroke="#888" stroke-width="0.5"/>
<text x="243.96" y="466.8" font-size="2.6" text-anchor="middle" fill="#999">10</text>
<line x1="252.85" y1="462.5" x2="252.85" y2="463.9" stroke="#888" stroke-width="0.5"/>
<text x="252.85" y="466.8" font-size="2.6" text-anchor="middle" fill="#999">10</text>
<line x1="268.66" y1="462.5" x2="268.66" y2="463.9" stroke="#888" stroke-width="0.5"/>
<text x="268.66" y="466.8" font-size="2.6" text-anchor="middle" fill="#999">10</text>
<line x1="250.2" y1="433.4" x2="271.5" y2="433.4" stroke="#151515" stroke-width="1.3"/>
<line x1="250.2" y1="431.2" x2="250.2" y2="435.6" stroke="#1a1a1a" stroke-width="1"/>
<line x1="271.5" y1="431.2" x2="271.5" y2="435.6" stroke="#1a1a1a" stroke-width="1"/>
<text x="258" y="429.6" font-size="8.3" textLength="13.8" lengthAdjust="spacingAndGlyphs" stroke="#1c1c1c" stroke-width="0.22">53.2</text>
<path d="M288.4 462.5C288.63 461.98 290 459.93 290.4 458C290.8 456.07 291.5 449.27 291.8 446C292.1 442.73 292.72 432.99 293 430C293.28 427.01 293.92 421.16 294.2 420.4C294.48 419.64 295.12 422.03 295.4 423.5C295.68 424.97 296.3 430.61 296.6 433C296.9 435.39 297.67 441.67 298 444C298.33 446.33 299.07 451.25 299.4 453C299.73 454.75 300.45 457.89 300.8 459C301.15 460.11 302.21 462.09 302.4 462.5Z" fill="#505050" stroke="#444" stroke-width="0.3"/>
<rect x="279.2" y="416.6" width="49.2" height="45.9" fill="none" stroke="#7a7a7a" stroke-width="0.7"/>
<line x1="278.1" y1="417.6" x2="279.2" y2="417.6" stroke="#999" stroke-width="0.5"/>
<text x="277.8" y="418.6" font-size="2.4" text-anchor="end" fill="#999">100</text>
<line x1="278.1" y1="428.38" x2="279.2" y2="428.38" stroke="#999" stroke-width="0.5"/>
<text x="277.8" y="429.38" font-size="2.4" text-anchor="end" fill="#999">75</text>
<line x1="278.1" y1="439.15" x2="279.2" y2="439.15" stroke="#999" stroke-width="0.5"/>
<text x="277.8" y="440.15" font-size="2.4" text-anchor="end" fill="#999">50</text>
<line x1="278.1" y1="449.93" x2="279.2" y2="449.93" stroke="#999" stroke-width="0.5"/>
<text x="277.8" y="450.93" font-size="2.4" text-anchor="end" fill="#999">25</text>
<line x1="278.1" y1="460.7" x2="279.2" y2="460.7" stroke="#999" stroke-width="0.5"/>
<text x="277.8" y="461.7" font-size="2.4" text-anchor="end" fill="#999">0</text>
<line x1="290.02" y1="462.5" x2="290.02" y2="463.9" stroke="#888" stroke-width="0.5"/>
<text x="290.02" y="466.8" font-size="2.6" text-anchor="middle" fill="#999">10</text>
<line x1="298.88" y1="462.5" x2="298.88" y2="463.9" stroke="#888" stroke-width="0.5"/>
<text x="298.88" y="466.8" font-size="2.6" text-anchor="middle" fill="#999">10</text>
<line x1="307.74" y1="462.5" x2="307.74" y2="463.9" stroke="#888" stroke-width="0.5"/>
<text x="307.74" y="466.8" font-size="2.6" text-anchor="middle" fill="#999">10</text>
<line x1="323.48" y1="462.5" x2="323.48" y2="463.9" stroke="#888" stroke-width="0.5"/>
<text x="323.48" y="466.8" font-size="2.6" text-anchor="middle" fill="#999">10</text>
<line x1="303.9" y1="433.1" x2="326.1" y2="433.1" stroke="#151515" stroke-width="1.3"/>
<line x1="303.9" y1="430.9" x2="303.9" y2="435.3" stroke="#1a1a1a" stroke-width="1"/>
<line x1="326.1" y1="430.9" x2="326.1" y2="435.3" stroke="#1a1a1a" stroke-width="1"/>
<text x="317.3" y="429.6" font-size="8.3" textLength="8.8" lengthAdjust="spacingAndGlyphs" stroke="#1c1c1c" stroke-width="0.22">0.7</text>
<path d="M335.3 462.5C335.57 461.98 337.1 459.46 337.6 458C338.1 456.54 339.13 452.22 339.6 450C340.07 447.78 341.13 441.57 341.6 439C342.07 436.43 343.16 430.1 343.6 428C344.04 425.9 345.05 422 345.4 421C345.75 420 346.34 419.4 346.6 419.4C346.86 419.4 347.37 420.93 347.6 421C347.83 421.07 348.32 419.77 348.6 420C348.88 420.23 349.65 421.72 350 423C350.35 424.28 351.2 428.78 351.6 431C352 433.22 352.96 439.55 353.4 442C353.84 444.45 354.91 450.06 355.4 452C355.89 453.94 357.11 457.5 357.6 458.6C358.09 459.7 359.16 460.94 359.6 461.4C360.04 461.85 361.19 462.37 361.4 462.5Z" fill="#505050" stroke="#444" stroke-width="0.3"/>
<rect x="333.5" y="416.6" width="49.6" height="45.9" fill="none" stroke="#7a7a7a" stroke-width="0.7"/>
<line x1="332.4" y1="417.6" x2="333.5" y2="417.6" stroke="#999" stroke-width="0.5"/>
<text x="332.1" y="418.6" font-size="2.4" text-anchor="end" fill="#999">100</text>
<line x1="332.4" y1="428.38" x2="333.5" y2="428.38" stroke="#999" stroke-width="0.5"/>
<text x="332.1" y="429.38" font-size="2.4" text-anchor="end" fill="#999">75</text>
<line x1="332.4" y1="439.15" x2="333.5" y2="439.15" stroke="#999" stroke-width="0.5"/>
<text x="332.1" y="440.15" font-size="2.4" text-anchor="end" fill="#999">50</text>
<line x1="332.4" y1="449.93" x2="333.5" y2="449.93" stroke="#999" stroke-width="0.5"/>
<text x="332.1" y="450.93" font-size="2.4" text-anchor="end" fill="#999">25</text>
<line x1="332.4" y1="460.7" x2="333.5" y2="460.7" stroke="#999" stroke-width="0.5"/>
<text x="332.1" y="461.7" font-size="2.4" text-anchor="end" fill="#999">0</text>
<line x1="344.41" y1="462.5" x2="344.41" y2="463.9" stroke="#888" stroke-width="0.5"/>
<text x="344.41" y="466.8" font-size="2.6" text-anchor="middle" fill="#999">10</text>
<line x1="353.34" y1="462.5" x2="353.34" y2="463.9" stroke="#888" stroke-width="0.5"/>
<text x="353.34" y="466.8" font-size="2.6" text-anchor="middle" fill="#999">10</text>
<line x1="362.27" y1="462.5" x2="362.27" y2="463.9" stroke="#888" stroke-width="0.5"/>
<text x="362.27" y="466.8" font-size="2.6" text-anchor="middle" fill="#999">10</text>
<line x1="378.14" y1="462.5" x2="378.14" y2="463.9" stroke="#888" stroke-width="0.5"/>
<text x="378.14" y="466.8" font-size="2.6" text-anchor="middle" fill="#999">10</text>
<line x1="354.2" y1="433.1" x2="380.8" y2="433.1" stroke="#151515" stroke-width="1.3"/>
<line x1="354.2" y1="430.9" x2="354.2" y2="435.3" stroke="#1a1a1a" stroke-width="1"/>
<line x1="380.8" y1="430.9" x2="380.8" y2="435.3" stroke="#1a1a1a" stroke-width="1"/>
<text x="370.4" y="429.6" font-size="8.3" textLength="10" lengthAdjust="spacingAndGlyphs" stroke="#1c1c1c" stroke-width="0.22">6.4</text>
<path d="M238.9 528.2C239.1 527.48 240.24 524.36 240.6 522C240.96 519.64 241.7 511.5 242 508C242.3 504.5 242.94 494.68 243.2 492C243.46 489.32 243.97 485.47 244.2 485C244.43 484.53 244.94 486.25 245.2 488C245.46 489.75 246.12 497.2 246.4 500C246.68 502.8 247.27 509.67 247.6 512C247.93 514.33 248.76 518.81 249.2 520C249.64 521.19 250.68 521.97 251.4 522.2C252.12 522.43 254.56 522.09 255.4 522C256.24 521.91 257.9 521.56 258.6 521.4C259.3 521.24 260.77 520.48 261.4 520.6C262.03 520.72 263.39 521.93 264 522.4C264.61 522.87 265.95 524.11 266.6 524.6C267.25 525.09 268.88 526.27 269.6 526.6C270.32 526.93 272.38 527.21 272.8 527.4C273.22 527.59 273.15 528.11 273.2 528.2Z" fill="#505050" stroke="#444" stroke-width="0.3"/>
<rect x="224.2" y="481.8" width="49.4" height="46.4" fill="none" stroke="#7a7a7a" stroke-width="0.7"/>
<line x1="223.1" y1="482.8" x2="224.2" y2="482.8" stroke="#999" stroke-width="0.5"/>
<text x="222.8" y="483.8" font-size="2.4" text-anchor="end" fill="#999">100</text>
<line x1="223.1" y1="493.7" x2="224.2" y2="493.7" stroke="#999" stroke-width="0.5"/>
<text x="222.8" y="494.7" font-size="2.4" text-anchor="end" fill="#999">75</text>
<line x1="223.1" y1="504.59" x2="224.2" y2="504.59" stroke="#999" stroke-width="0.5"/>
<text x="222.8" y="505.59" font-size="2.4" text-anchor="end" fill="#999">50</text>
<line x1="223.1" y1="515.49" x2="224.2" y2="515.49" stroke="#999" stroke-width="0.5"/>
<text x="222.8" y="516.49" font-size="2.4" text-anchor="end" fill="#999">25</text>
<line x1="223.1" y1="526.38" x2="224.2" y2="526.38" stroke="#999" stroke-width="0.5"/>
<text x="222.8" y="527.38" font-size="2.4" text-anchor="end" fill="#999">0</text>
<line x1="235.07" y1="528.2" x2="235.07" y2="529.6" stroke="#888" stroke-width="0.5"/>
<text x="235.07" y="532.5" font-size="2.6" text-anchor="middle" fill="#999">10</text>
<line x1="243.96" y1="528.2" x2="243.96" y2="529.6" stroke="#888" stroke-width="0.5"/>
<text x="243.96" y="532.5" font-size="2.6" text-anchor="middle" fill="#999">10</text>
<line x1="252.85" y1="528.2" x2="252.85" y2="529.6" stroke="#888" stroke-width="0.5"/>
<text x="252.85" y="532.5" font-size="2.6" text-anchor="middle" fill="#999">10</text>
<line x1="268.66" y1="528.2" x2="268.66" y2="529.6" stroke="#888" stroke-width="0.5"/>
<text x="268.66" y="532.5" font-size="2.6" text-anchor="middle" fill="#999">10</text>
<line x1="250.5" y1="498.7" x2="271.5" y2="498.7" stroke="#151515" stroke-width="1.3"/>
<line x1="250.5" y1="496.5" x2="250.5" y2="500.9" stroke="#1a1a1a" stroke-width="1"/>
<line x1="271.5" y1="496.5" x2="271.5" y2="500.9" stroke="#1a1a1a" stroke-width="1"/>
<text x="258" y="494.8" font-size="8.3" textLength="13.8" lengthAdjust="spacingAndGlyphs" stroke="#1c1c1c" stroke-width="0.22">29.2</text>
<path d="M289.6 528.2C289.81 527.59 291.03 525.01 291.4 523C291.77 520.99 292.5 513.51 292.8 511C293.1 508.49 293.7 502.95 294 501.5C294.3 500.05 295.1 498.73 295.4 498.6C295.7 498.47 296.3 499.42 296.6 500.4C296.9 501.38 297.6 505.3 298 507C298.4 508.7 299.5 513.44 300 515C300.5 516.56 301.67 519.42 302.3 520.4C302.93 521.38 304.33 522.79 305.4 523.4C306.47 524.01 310.15 525.2 311.5 525.6C312.85 526 315.66 526.54 317 526.8C318.34 527.06 322.18 527.64 323 527.8C323.82 527.96 323.88 528.15 324 528.2Z" fill="#505050" stroke="#444" stroke-width="0.3"/>
<rect x="279.2" y="481.8" width="49.2" height="46.4" fill="none" stroke="#7a7a7a" stroke-width="0.7"/>
<line x1="278.1" y1="482.8" x2="279.2" y2="482.8" stroke="#999" stroke-width="0.5"/>
<text x="277.8" y="483.8" font-size="2.4" text-anchor="end" fill="#999">100</text>
<line x1="278.1" y1="493.7" x2="279.2" y2="493.7" stroke="#999" stroke-width="0.5"/>
<text x="277.8" y="494.7" font-size="2.4" text-anchor="end" fill="#999">75</text>
<line x1="278.1" y1="504.59" x2="279.2" y2="504.59" stroke="#999" stroke-width="0.5"/>
<text x="277.8" y="505.59" font-size="2.4" text-anchor="end" fill="#999">50</text>
<line x1="278.1" y1="515.49" x2="279.2" y2="515.49" stroke="#999" stroke-width="0.5"/>
<text x="277.8" y="516.49" font-size="2.4" text-anchor="end" fill="#999">25</text>
<line x1="278.1" y1="526.38" x2="279.2" y2="526.38" stroke="#999" stroke-width="0.5"/>
<text x="277.8" y="527.38" font-size="2.4" text-anchor="end" fill="#999">0</text>
<line x1="290.02" y1="528.2" x2="290.02" y2="529.6" stroke="#888" stroke-width="0.5"/>
<text x="290.02" y="532.5" font-size="2.6" text-anchor="middle" fill="#999">10</text>
<line x1="298.88" y1="528.2" x2="298.88" y2="529.6" stroke="#888" stroke-width="0.5"/>
<text x="298.88" y="532.5" font-size="2.6" text-anchor="middle" fill="#999">10</text>
<line x1="307.74" y1="528.2" x2="307.74" y2="529.6" stroke="#888" stroke-width="0.5"/>
<text x="307.74" y="532.5" font-size="2.6" text-anchor="middle" fill="#999">10</text>
<line x1="323.48" y1="528.2" x2="323.48" y2="529.6" stroke="#888" stroke-width="0.5"/>
<text x="323.48" y="532.5" font-size="2.6" text-anchor="middle" fill="#999">10</text>
<line x1="303.9" y1="499.2" x2="326.1" y2="499.2" stroke="#151515" stroke-width="1.3"/>
<line x1="303.9" y1="497" x2="303.9" y2="501.4" stroke="#1a1a1a" stroke-width="1"/>
<line x1="326.1" y1="497" x2="326.1" y2="501.4" stroke="#1a1a1a" stroke-width="1"/>
<text x="313.8" y="494.9" font-size="8.3" textLength="12.3" lengthAdjust="spacingAndGlyphs" stroke="#1c1c1c" stroke-width="0.22">10.9</text>
<path d="M335.3 528.2C335.57 527.55 337.08 524.26 337.6 522.6C338.12 520.94 339.29 516.17 339.8 514C340.31 511.83 341.49 506.05 342 504C342.51 501.95 343.73 497.71 344.2 496.4C344.67 495.09 345.63 493.38 346 492.8C346.37 492.22 347.11 491.73 347.4 491.4C347.69 491.07 348.24 489.95 348.5 490C348.76 490.05 349.33 491.64 349.6 491.8C349.87 491.96 350.47 490.91 350.8 491.4C351.13 491.89 351.98 494.53 352.4 496C352.82 497.47 353.91 502.02 354.4 504C354.89 505.98 356.06 511.13 356.6 513C357.14 514.87 358.42 518.65 359 520C359.58 521.35 361.02 523.78 361.6 524.6C362.18 525.42 363.51 526.58 364 527C364.49 527.42 365.59 528.06 365.8 528.2Z" fill="#505050" stroke="#444" stroke-width="0.3"/>
<rect x="333.5" y="481.8" width="49.6" height="46.4" fill="none" stroke="#7a7a7a" stroke-width="0.7"/>
<line x1="332.4" y1="482.8" x2="333.5" y2="482.8" stroke="#999" stroke-width="0.5"/>
<text x="332.1" y="483.8" font-size="2.4" text-anchor="end" fill="#999">100</text>
<line x1="332.4" y1="493.7" x2="333.5" y2="493.7" stroke="#999" stroke-width="0.5"/>
<text x="332.1" y="494.7" font-size="2.4" text-anchor="end" fill="#999">75</text>
<line x1="332.4" y1="504.59" x2="333.5" y2="504.59" stroke="#999" stroke-width="0.5"/>
<text x="332.1" y="505.59" font-size="2.4" text-anchor="end" fill="#999">50</text>
<line x1="332.4" y1="515.49" x2="333.5" y2="515.49" stroke="#999" stroke-width="0.5"/>
<text x="332.1" y="516.49" font-size="2.4" text-anchor="end" fill="#999">25</text>
<line x1="332.4" y1="526.38" x2="333.5" y2="526.38" stroke="#999" stroke-width="0.5"/>
<text x="332.1" y="527.38" font-size="2.4" text-anchor="end" fill="#999">0</text>
<line x1="344.41" y1="528.2" x2="344.41" y2="529.6" stroke="#888" stroke-width="0.5"/>
<text x="344.41" y="532.5" font-size="2.6" text-anchor="middle" fill="#999">10</text>
<line x1="353.34" y1="528.2" x2="353.34" y2="529.6" stroke="#888" stroke-width="0.5"/>
<text x="353.34" y="532.5" font-size="2.6" text-anchor="middle" fill="#999">10</text>
<line x1="362.27" y1="528.2" x2="362.27" y2="529.6" stroke="#888" stroke-width="0.5"/>
<text x="362.27" y="532.5" font-size="2.6" text-anchor="middle" fill="#999">10</text>
<line x1="378.14" y1="528.2" x2="378.14" y2="529.6" stroke="#888" stroke-width="0.5"/>
<text x="378.14" y="532.5" font-size="2.6" text-anchor="middle" fill="#999">10</text>
<line x1="354.2" y1="499.2" x2="381.5" y2="499.2" stroke="#151515" stroke-width="1.3"/>
<line x1="354.2" y1="497" x2="354.2" y2="501.4" stroke="#1a1a1a" stroke-width="1"/>
<line x1="381.5" y1="497" x2="381.5" y2="501.4" stroke="#1a1a1a" stroke-width="1"/>
<text x="366.9" y="494.9" font-size="8.3" textLength="13.5" lengthAdjust="spacingAndGlyphs" stroke="#1c1c1c" stroke-width="0.22">16.1</text>
<text transform="translate(217 460.6) rotate(-90)" font-size="8.8" textLength="44.4" lengthAdjust="spacingAndGlyphs" stroke="#1c1c1c" stroke-width="0.15">RB<tspan font-size="6" dy="-2.6">+</tspan><tspan dy="2.6">CD38</tspan><tspan font-size="6" dy="-2.8">LO</tspan></text>
<text transform="translate(217 525.8) rotate(-90)" font-size="8.8" textLength="41.4" lengthAdjust="spacingAndGlyphs" stroke="#1c1c1c" stroke-width="0.15">RB<tspan font-size="6" dy="-2.6">+</tspan><tspan dy="2.6">CD38</tspan><tspan font-size="6" dy="-2.8">HI</tspan></text>
<text x="425" y="404.4" font-size="12.8" textLength="8.4" lengthAdjust="spacingAndGlyphs" font-weight="bold" fill="#000" stroke="#000" stroke-width="0.22">E</text>
<text x="445.3" y="405" font-size="8.3" textLength="30.2" lengthAdjust="spacingAndGlyphs" stroke="#1c1c1c" stroke-width="0.12">ISOTYPE</text>
<text x="480.4" y="405" font-size="8.3" textLength="39.8" lengthAdjust="spacingAndGlyphs" stroke="#1c1c1c" stroke-width="0.12">CONTROLS</text>
<path d="M466.9 460.8C467 460.03 467.89 454.08 468.13 451.56C468.37 449.04 469.5 433.29 469.76 430.56C470.02 427.83 471.04 418.8 471.3 418.8C471.56 418.8 472.58 427.83 472.84 430.56C473.1 433.29 474.23 449.04 474.47 451.56C474.71 454.08 475.6 460.03 475.7 460.8Z" fill="#505050" stroke="#444" stroke-width="0.3"/>
<rect x="460.4" y="417" width="47.6" height="43.8" fill="none" stroke="#a4a4a4" stroke-width="0.6"/>
<line x1="460.4" y1="417" x2="460.4" y2="460.8" stroke="#777" stroke-width="0.6"/>
<line x1="460.4" y1="460.8" x2="508" y2="460.8" stroke="#777" stroke-width="0.6"/>
<line x1="458.9" y1="419" x2="460.4" y2="419" stroke="#666" stroke-width="0.5"/>
<line x1="458.9" y1="424.1" x2="460.4" y2="424.1" stroke="#666" stroke-width="0.5"/>
<line x1="458.9" y1="429.2" x2="460.4" y2="429.2" stroke="#666" stroke-width="0.5"/>
<line x1="458.9" y1="434.3" x2="460.4" y2="434.3" stroke="#666" stroke-width="0.5"/>
<line x1="458.9" y1="439.4" x2="460.4" y2="439.4" stroke="#666" stroke-width="0.5"/>
<line x1="458.9" y1="444.5" x2="460.4" y2="444.5" stroke="#666" stroke-width="0.5"/>
<line x1="458.9" y1="449.6" x2="460.4" y2="449.6" stroke="#666" stroke-width="0.5"/>
<line x1="458.9" y1="454.7" x2="460.4" y2="454.7" stroke="#666" stroke-width="0.5"/>
<line x1="458.9" y1="459.8" x2="460.4" y2="459.8" stroke="#666" stroke-width="0.5"/>
<line x1="462.78" y1="460.8" x2="462.78" y2="462.3" stroke="#666" stroke-width="0.5"/>
<text x="462.78" y="464.8" font-size="2.4" text-anchor="middle" fill="#999">10</text>
<line x1="469.92" y1="460.8" x2="469.92" y2="462.3" stroke="#666" stroke-width="0.5"/>
<text x="469.92" y="464.8" font-size="2.4" text-anchor="middle" fill="#999">10</text>
<line x1="480.39" y1="460.8" x2="480.39" y2="462.3" stroke="#666" stroke-width="0.5"/>
<text x="480.39" y="464.8" font-size="2.4" text-anchor="middle" fill="#999">10</text>
<line x1="492.77" y1="460.8" x2="492.77" y2="462.3" stroke="#666" stroke-width="0.5"/>
<text x="492.77" y="464.8" font-size="2.4" text-anchor="middle" fill="#999">10</text>
<line x1="504.67" y1="460.8" x2="504.67" y2="462.3" stroke="#666" stroke-width="0.5"/>
<text x="504.67" y="464.8" font-size="2.4" text-anchor="middle" fill="#999">10</text>
<line x1="460.4" y1="424" x2="475.8" y2="424" stroke="#111" stroke-width="1.15"/>
<line x1="475.8" y1="417" x2="475.8" y2="460.8" stroke="#111" stroke-width="1.15"/>
<text x="488.3" y="442.9" font-size="7.8" textLength="15.4" lengthAdjust="spacingAndGlyphs" stroke="#1c1c1c" stroke-width="0.22">FITC</text>
<path d="M466.4 510.6C466.48 509.81 467.21 503.69 467.41 501.1C467.6 498.5 468.52 482.3 468.74 479.5C468.96 476.69 469.79 467.4 470 467.4C470.21 467.4 471.04 476.69 471.26 479.5C471.48 482.3 472.4 498.5 472.59 501.1C472.79 503.69 473.52 509.81 473.6 510.6Z" fill="#505050" stroke="#444" stroke-width="0.3"/>
<rect x="460.6" y="466.3" width="47.9" height="44.3" fill="none" stroke="#a4a4a4" stroke-width="0.6"/>
<line x1="460.6" y1="466.3" x2="460.6" y2="510.6" stroke="#777" stroke-width="0.6"/>
<line x1="460.6" y1="510.6" x2="508.5" y2="510.6" stroke="#777" stroke-width="0.6"/>
<line x1="459.1" y1="468.3" x2="460.6" y2="468.3" stroke="#666" stroke-width="0.5"/>
<line x1="459.1" y1="473.46" x2="460.6" y2="473.46" stroke="#666" stroke-width="0.5"/>
<line x1="459.1" y1="478.62" x2="460.6" y2="478.62" stroke="#666" stroke-width="0.5"/>
<line x1="459.1" y1="483.79" x2="460.6" y2="483.79" stroke="#666" stroke-width="0.5"/>
<line x1="459.1" y1="488.95" x2="460.6" y2="488.95" stroke="#666" stroke-width="0.5"/>
<line x1="459.1" y1="494.11" x2="460.6" y2="494.11" stroke="#666" stroke-width="0.5"/>
<line x1="459.1" y1="499.28" x2="460.6" y2="499.28" stroke="#666" stroke-width="0.5"/>
<line x1="459.1" y1="504.44" x2="460.6" y2="504.44" stroke="#666" stroke-width="0.5"/>
<line x1="459.1" y1="509.6" x2="460.6" y2="509.6" stroke="#666" stroke-width="0.5"/>
<line x1="463" y1="510.6" x2="463" y2="512.1" stroke="#666" stroke-width="0.5"/>
<text x="463" y="514.6" font-size="2.4" text-anchor="middle" fill="#999">10</text>
<line x1="470.18" y1="510.6" x2="470.18" y2="512.1" stroke="#666" stroke-width="0.5"/>
<text x="470.18" y="514.6" font-size="2.4" text-anchor="middle" fill="#999">10</text>
<line x1="480.72" y1="510.6" x2="480.72" y2="512.1" stroke="#666" stroke-width="0.5"/>
<text x="480.72" y="514.6" font-size="2.4" text-anchor="middle" fill="#999">10</text>
<line x1="493.17" y1="510.6" x2="493.17" y2="512.1" stroke="#666" stroke-width="0.5"/>
<text x="493.17" y="514.6" font-size="2.4" text-anchor="middle" fill="#999">10</text>
<line x1="505.15" y1="510.6" x2="505.15" y2="512.1" stroke="#666" stroke-width="0.5"/>
<text x="505.15" y="514.6" font-size="2.4" text-anchor="middle" fill="#999">10</text>
<line x1="460.6" y1="473.5" x2="474.6" y2="473.5" stroke="#111" stroke-width="1.15"/>
<line x1="474.6" y1="466.3" x2="474.6" y2="510.6" stroke="#111" stroke-width="1.15"/>
<text x="487" y="493.1" font-size="7.8" textLength="17" lengthAdjust="spacingAndGlyphs" stroke="#1c1c1c" stroke-width="0.22">A750</text>
<path d="M471.5 560C471.57 559.32 472.2 554.08 472.37 551.86C472.54 549.64 473.33 535.76 473.52 533.36C473.7 530.96 474.42 523 474.6 523C474.78 523 475.5 530.96 475.69 533.36C475.87 535.76 476.66 549.64 476.83 551.86C477 554.08 477.63 559.32 477.7 560Z" fill="#505050" stroke="#444" stroke-width="0.3"/>
<rect x="460.6" y="516.2" width="47.9" height="43.8" fill="none" stroke="#a4a4a4" stroke-width="0.6"/>
<line x1="460.6" y1="516.2" x2="460.6" y2="560" stroke="#777" stroke-width="0.6"/>
<line x1="460.6" y1="560" x2="508.5" y2="560" stroke="#777" stroke-width="0.6"/>
<line x1="459.1" y1="518.2" x2="460.6" y2="518.2" stroke="#666" stroke-width="0.5"/>
<line x1="459.1" y1="523.3" x2="460.6" y2="523.3" stroke="#666" stroke-width="0.5"/>
<line x1="459.1" y1="528.4" x2="460.6" y2="528.4" stroke="#666" stroke-width="0.5"/>
<line x1="459.1" y1="533.5" x2="460.6" y2="533.5" stroke="#666" stroke-width="0.5"/>
<line x1="459.1" y1="538.6" x2="460.6" y2="538.6" stroke="#666" stroke-width="0.5"/>
<line x1="459.1" y1="543.7" x2="460.6" y2="543.7" stroke="#666" stroke-width="0.5"/>
<line x1="459.1" y1="548.8" x2="460.6" y2="548.8" stroke="#666" stroke-width="0.5"/>
<line x1="459.1" y1="553.9" x2="460.6" y2="553.9" stroke="#666" stroke-width="0.5"/>
<line x1="459.1" y1="559" x2="460.6" y2="559" stroke="#666" stroke-width="0.5"/>
<line x1="463" y1="560" x2="463" y2="561.5" stroke="#666" stroke-width="0.5"/>
<text x="463" y="564" font-size="2.4" text-anchor="middle" fill="#999">10</text>
<line x1="470.18" y1="560" x2="470.18" y2="561.5" stroke="#666" stroke-width="0.5"/>
<text x="470.18" y="564" font-size="2.4" text-anchor="middle" fill="#999">10</text>
<line x1="480.72" y1="560" x2="480.72" y2="561.5" stroke="#666" stroke-width="0.5"/>
<text x="480.72" y="564" font-size="2.4" text-anchor="middle" fill="#999">10</text>
<line x1="493.17" y1="560" x2="493.17" y2="561.5" stroke="#666" stroke-width="0.5"/>
<text x="493.17" y="564" font-size="2.4" text-anchor="middle" fill="#999">10</text>
<line x1="505.15" y1="560" x2="505.15" y2="561.5" stroke="#666" stroke-width="0.5"/>
<text x="505.15" y="564" font-size="2.4" text-anchor="middle" fill="#999">10</text>
<line x1="460.6" y1="523.4" x2="477.2" y2="523.4" stroke="#111" stroke-width="1.15"/>
<line x1="477.2" y1="516.2" x2="477.2" y2="560" stroke="#111" stroke-width="1.15"/>
<text x="494.5" y="542.5" font-size="7.8" textLength="9.5" lengthAdjust="spacingAndGlyphs" stroke="#1c1c1c" stroke-width="0.22">PE</text>
</svg>
</body></html>
